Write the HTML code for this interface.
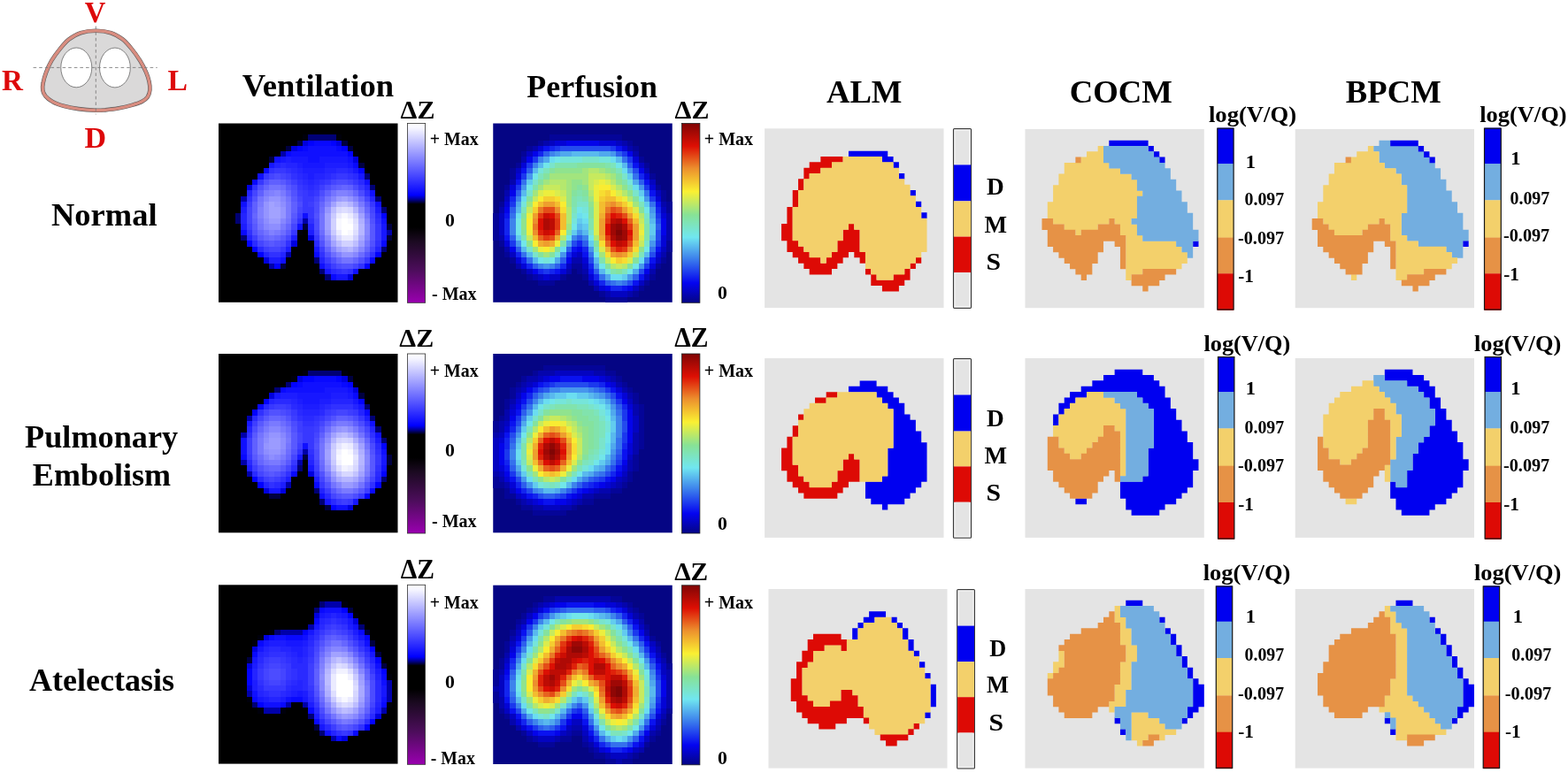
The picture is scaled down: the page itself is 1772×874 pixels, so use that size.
<!DOCTYPE html>
<html lang="en"><head><meta charset="utf-8"><title>EIT ventilation / perfusion maps</title>
<style>
html,body{margin:0;padding:0;background:#fff}
body{width:1772px;height:874px;overflow:hidden}
svg{display:block;font-family:"Liberation Serif","DejaVu Serif",serif;font-weight:bold}
</style></head><body>
<svg width="1772" height="874" viewBox="0 0 1772 874">
<rect width="1772" height="874" fill="#fff"/>
<rect x="247.00" y="139.50" width="202.50" height="202.30" fill="#000000"/>
<g transform="translate(247.00 139.50)" shape-rendering="crispEdges">
<path fill="#00000b" d="M94.9 12.6H101.2V19.0H94.9zM132.9 12.6H139.2V19.0H132.9zM151.9 31.6H158.2V37.9H151.9zM88.6 120.1H94.9V126.4H88.6z"/>
<path fill="#000075" d="M101.2 12.6H132.9V19.0H101.2zM164.5 56.9H170.9V63.2H164.5zM170.9 69.5H177.2V75.9H170.9zM177.2 82.2H183.5V88.5H177.2zM183.5 94.8H189.8V101.2H183.5zM19.0 101.2H25.3V107.5H19.0zM19.0 107.5H25.3V113.8H19.0zM25.3 126.4H31.6V132.8H25.3zM183.5 139.1H189.8V145.4H183.5zM107.6 151.7H113.9V158.0H107.6zM113.9 164.4H120.2V170.7H113.9zM120.2 170.7H126.6V177.0H120.2z"/>
<path fill="#000040" d="M88.6 19.0H94.9V25.3H88.6zM139.2 19.0H145.5V25.3H139.2zM75.9 25.3H82.3V31.6H75.9zM145.5 25.3H151.9V31.6H145.5zM57.0 37.9H63.3V44.3H57.0zM158.2 44.3H164.5V50.6H158.2zM94.9 113.8H101.2V120.1H94.9zM189.8 113.8H196.2V120.1H189.8zM189.8 126.4H196.2V132.8H189.8zM69.6 158.0H75.9V164.4H69.6z"/>
<path fill="#0000df" d="M94.9 19.0H101.2V25.3H94.9zM132.9 19.0H139.2V25.3H132.9zM82.3 25.3H88.6V31.6H82.3zM151.9 37.9H158.2V44.3H151.9zM31.6 69.5H38.0V75.9H31.6zM101.2 126.4H107.6V132.8H101.2zM82.3 132.8H88.6V139.1H82.3zM50.6 151.7H57.0V158.0H50.6zM145.5 170.7H151.9V177.0H145.5z"/>
<path fill="#0303ff" d="M101.2 19.0H107.6V25.3H101.2zM126.6 19.0H132.9V25.3H126.6zM88.6 25.3H94.9V31.6H88.6zM139.2 25.3H145.5V31.6H139.2zM145.5 31.6H151.9V37.9H145.5zM158.2 50.6H164.5V56.9H158.2zM183.5 101.2H189.8V107.5H183.5zM31.6 132.8H38.0V139.1H31.6zM38.0 139.1H44.3V145.4H38.0zM44.3 145.4H50.6V151.7H44.3zM177.2 145.4H183.5V151.7H177.2zM63.3 158.0H69.6V164.4H63.3zM164.5 158.0H170.9V164.4H164.5z"/>
<path fill="#0909ff" d="M107.6 19.0H126.6V25.3H107.6zM94.9 25.3H101.2V31.6H94.9zM132.9 25.3H139.2V31.6H132.9zM75.9 31.6H82.3V37.9H75.9zM151.9 44.3H158.2V50.6H151.9zM50.6 50.6H57.0V56.9H50.6zM38.0 63.2H44.3V69.5H38.0zM25.3 120.1H31.6V126.4H25.3zM183.5 132.8H189.8V139.1H183.5zM107.6 145.4H113.9V151.7H107.6zM170.9 151.7H177.2V158.0H170.9zM126.6 170.7H132.9V177.0H126.6z"/>
<path fill="#1010ff" d="M101.2 25.3H132.9V31.6H101.2zM82.3 31.6H145.5V37.9H82.3zM63.3 37.9H69.6V44.3H63.3zM101.2 37.9H113.9V44.3H101.2zM145.5 37.9H151.9V44.3H145.5zM44.3 56.9H50.6V63.2H44.3zM164.5 63.2H170.9V69.5H164.5zM170.9 75.9H177.2V82.2H170.9zM25.3 88.5H31.6V94.8H25.3zM177.2 88.5H183.5V94.8H177.2zM94.9 101.2H101.2V107.5H94.9zM183.5 107.5H189.8V113.8H183.5zM88.6 113.8H94.9V120.1H88.6zM69.6 151.7H75.9V158.0H69.6zM113.9 158.0H120.2V164.4H113.9zM151.9 164.4H158.2V170.7H151.9z"/>
<path fill="#0000aa" d="M69.6 31.6H75.9V37.9H69.6zM25.3 82.2H31.6V88.5H25.3zM94.9 107.5H101.2V113.8H94.9zM189.8 120.1H196.2V126.4H189.8zM75.9 145.4H82.3V151.7H75.9zM57.0 158.0H63.3V164.4H57.0z"/>
<path fill="#1717ff" d="M69.6 37.9H75.9V44.3H69.6zM82.3 37.9H101.2V44.3H82.3zM113.9 37.9H145.5V44.3H113.9zM57.0 44.3H63.3V50.6H57.0zM94.9 44.3H120.2V50.6H94.9zM145.5 44.3H151.9V50.6H145.5zM151.9 50.6H158.2V56.9H151.9zM158.2 56.9H164.5V63.2H158.2zM183.5 113.8H189.8V120.1H183.5zM183.5 120.1H189.8V126.4H183.5zM183.5 126.4H189.8V132.8H183.5zM107.6 139.1H113.9V145.4H107.6zM120.2 164.4H126.6V170.7H120.2zM132.9 170.7H145.5V177.0H132.9z"/>
<path fill="#1d1dff" d="M75.9 37.9H82.3V44.3H75.9zM88.6 44.3H94.9V50.6H88.6zM120.2 44.3H145.5V50.6H120.2zM94.9 50.6H120.2V56.9H94.9zM101.2 56.9H107.6V63.2H101.2zM25.3 94.8H31.6V101.2H25.3zM177.2 94.8H183.5V101.2H177.2zM25.3 113.8H31.6V120.1H25.3zM101.2 120.1H107.6V126.4H101.2zM82.3 126.4H88.6V132.8H82.3zM75.9 139.1H82.3V145.4H75.9zM57.0 151.7H69.6V158.0H57.0z"/>
<path fill="#2424ff" d="M63.3 44.3H69.6V50.6H63.3zM75.9 44.3H88.6V50.6H75.9zM88.6 50.6H94.9V56.9H88.6zM120.2 50.6H132.9V56.9H120.2zM145.5 50.6H151.9V56.9H145.5zM94.9 56.9H101.2V63.2H94.9zM107.6 56.9H120.2V63.2H107.6zM101.2 63.2H107.6V69.5H101.2zM164.5 69.5H170.9V75.9H164.5zM31.6 75.9H38.0V82.2H31.6zM170.9 82.2H177.2V88.5H170.9zM25.3 101.2H31.6V107.5H25.3zM25.3 107.5H31.6V113.8H25.3zM101.2 113.8H107.6V120.1H101.2zM31.6 126.4H38.0V132.8H31.6zM177.2 139.1H183.5V145.4H177.2zM50.6 145.4H57.0V151.7H50.6zM69.6 145.4H75.9V151.7H69.6zM113.9 151.7H120.2V158.0H113.9z"/>
<path fill="#2a2aff" d="M69.6 44.3H75.9V50.6H69.6zM82.3 50.6H88.6V56.9H82.3zM132.9 50.6H145.5V56.9H132.9zM88.6 56.9H94.9V63.2H88.6zM120.2 56.9H126.6V63.2H120.2zM151.9 56.9H158.2V63.2H151.9zM94.9 63.2H101.2V69.5H94.9zM107.6 63.2H113.9V69.5H107.6zM158.2 63.2H164.5V69.5H158.2zM101.2 69.5H107.6V75.9H101.2zM177.2 101.2H183.5V107.5H177.2zM38.0 132.8H44.3V139.1H38.0zM107.6 132.8H113.9V139.1H107.6zM44.3 139.1H50.6V145.4H44.3zM120.2 158.0H126.6V164.4H120.2zM126.6 164.4H132.9V170.7H126.6z"/>
<path fill="#3131ff" d="M57.0 50.6H63.3V56.9H57.0zM75.9 50.6H82.3V56.9H75.9zM82.3 56.9H88.6V63.2H82.3zM126.6 56.9H132.9V63.2H126.6zM145.5 56.9H151.9V63.2H145.5zM88.6 63.2H94.9V69.5H88.6zM113.9 63.2H120.2V69.5H113.9zM38.0 69.5H44.3V75.9H38.0zM94.9 69.5H101.2V75.9H94.9zM107.6 69.5H113.9V75.9H107.6zM101.2 75.9H107.6V82.2H101.2zM164.5 75.9H170.9V82.2H164.5zM31.6 82.2H38.0V88.5H31.6zM88.6 107.5H94.9V113.8H88.6zM101.2 107.5H107.6V113.8H101.2zM177.2 107.5H183.5V113.8H177.2zM31.6 120.1H38.0V126.4H31.6zM75.9 132.8H82.3V139.1H75.9zM177.2 132.8H183.5V139.1H177.2zM57.0 145.4H69.6V151.7H57.0zM113.9 145.4H120.2V151.7H113.9zM170.9 145.4H177.2V151.7H170.9zM158.2 158.0H164.5V164.4H158.2zM132.9 164.4H139.2V170.7H132.9zM145.5 164.4H151.9V170.7H145.5z"/>
<path fill="#3838ff" d="M63.3 50.6H75.9V56.9H63.3zM50.6 56.9H57.0V63.2H50.6zM132.9 56.9H145.5V63.2H132.9zM44.3 63.2H50.6V69.5H44.3zM120.2 63.2H126.6V69.5H120.2zM151.9 63.2H158.2V69.5H151.9zM88.6 69.5H94.9V75.9H88.6zM158.2 69.5H164.5V75.9H158.2zM94.9 75.9H101.2V82.2H94.9zM107.6 75.9H113.9V82.2H107.6zM94.9 82.2H107.6V88.5H94.9zM94.9 88.5H101.2V94.8H94.9zM170.9 88.5H177.2V94.8H170.9zM94.9 94.8H107.6V101.2H94.9zM101.2 101.2H107.6V107.5H101.2zM177.2 113.8H183.5V120.1H177.2zM82.3 120.1H88.6V126.4H82.3zM177.2 120.1H183.5V126.4H177.2zM107.6 126.4H113.9V132.8H107.6zM177.2 126.4H183.5V132.8H177.2zM69.6 139.1H75.9V145.4H69.6zM164.5 151.7H170.9V158.0H164.5zM139.2 164.4H145.5V170.7H139.2z"/>
<path fill="#4545ff" d="M57.0 56.9H63.3V63.2H57.0zM69.6 56.9H75.9V63.2H69.6zM126.6 63.2H132.9V69.5H126.6zM145.5 63.2H151.9V69.5H145.5zM38.0 75.9H44.3V82.2H38.0zM88.6 82.2H94.9V88.5H88.6zM107.6 82.2H113.9V88.5H107.6zM164.5 82.2H170.9V88.5H164.5zM31.6 94.8H38.0V101.2H31.6zM88.6 94.8H94.9V101.2H88.6zM170.9 94.8H177.2V101.2H170.9zM31.6 101.2H38.0V107.5H31.6zM31.6 107.5H38.0V113.8H31.6zM82.3 113.8H88.6V120.1H82.3zM107.6 120.1H113.9V126.4H107.6zM75.9 126.4H82.3V132.8H75.9zM44.3 132.8H50.6V139.1H44.3zM57.0 139.1H69.6V145.4H57.0zM170.9 139.1H177.2V145.4H170.9zM151.9 158.0H158.2V164.4H151.9z"/>
<path fill="#4c4cff" d="M63.3 56.9H69.6V63.2H63.3zM75.9 63.2H82.3V69.5H75.9zM132.9 63.2H145.5V69.5H132.9zM82.3 69.5H88.6V75.9H82.3zM120.2 69.5H126.6V75.9H120.2zM151.9 69.5H158.2V75.9H151.9zM113.9 75.9H120.2V82.2H113.9zM158.2 75.9H164.5V82.2H158.2zM88.6 88.5H94.9V94.8H88.6zM107.6 88.5H113.9V94.8H107.6zM107.6 94.8H113.9V101.2H107.6zM170.9 101.2H177.2V107.5H170.9zM107.6 107.5H113.9V113.8H107.6zM107.6 113.8H113.9V120.1H107.6zM69.6 132.8H75.9V139.1H69.6zM132.9 158.0H139.2V164.4H132.9z"/>
<path fill="#3e3eff" d="M75.9 56.9H82.3V63.2H75.9zM82.3 63.2H88.6V69.5H82.3zM113.9 69.5H120.2V75.9H113.9zM88.6 75.9H94.9V82.2H88.6zM31.6 88.5H38.0V94.8H31.6zM101.2 88.5H107.6V94.8H101.2zM88.6 101.2H94.9V107.5H88.6zM31.6 113.8H38.0V120.1H31.6zM38.0 126.4H44.3V132.8H38.0zM50.6 139.1H57.0V145.4H50.6zM113.9 139.1H120.2V145.4H113.9zM120.2 151.7H126.6V158.0H120.2zM126.6 158.0H132.9V164.4H126.6z"/>
<path fill="#5252ff" d="M50.6 63.2H57.0V69.5H50.6zM44.3 69.5H50.6V75.9H44.3zM82.3 75.9H88.6V82.2H82.3zM38.0 82.2H44.3V88.5H38.0zM107.6 101.2H113.9V107.5H107.6zM82.3 107.5H88.6V113.8H82.3zM170.9 107.5H177.2V113.8H170.9zM38.0 120.1H44.3V126.4H38.0zM50.6 132.8H57.0V139.1H50.6zM63.3 132.8H69.6V139.1H63.3zM113.9 132.8H120.2V139.1H113.9zM170.9 132.8H177.2V139.1H170.9zM120.2 145.4H126.6V151.7H120.2zM164.5 145.4H170.9V151.7H164.5zM126.6 151.7H132.9V158.0H126.6zM158.2 151.7H164.5V158.0H158.2zM139.2 158.0H151.9V164.4H139.2z"/>
<path fill="#6060ff" d="M57.0 63.2H69.6V69.5H57.0zM132.9 69.5H139.2V75.9H132.9zM145.5 69.5H151.9V75.9H145.5zM44.3 75.9H50.6V82.2H44.3zM120.2 75.9H126.6V82.2H120.2zM38.0 88.5H44.3V94.8H38.0zM82.3 88.5H88.6V94.8H82.3zM38.0 94.8H44.3V101.2H38.0zM82.3 94.8H88.6V101.2H82.3zM38.0 107.5H44.3V113.8H38.0zM113.9 126.4H120.2V132.8H113.9z"/>
<path fill="#5959ff" d="M69.6 63.2H75.9V69.5H69.6zM75.9 69.5H82.3V75.9H75.9zM126.6 69.5H132.9V75.9H126.6zM82.3 82.2H88.6V88.5H82.3zM113.9 82.2H120.2V88.5H113.9zM164.5 88.5H170.9V94.8H164.5zM82.3 101.2H88.6V107.5H82.3zM38.0 113.8H44.3V120.1H38.0zM170.9 113.8H177.2V120.1H170.9zM75.9 120.1H82.3V126.4H75.9zM170.9 120.1H177.2V126.4H170.9zM44.3 126.4H50.6V132.8H44.3zM69.6 126.4H75.9V132.8H69.6zM170.9 126.4H177.2V132.8H170.9zM57.0 132.8H63.3V139.1H57.0z"/>
<path fill="#6666ff" d="M50.6 69.5H57.0V75.9H50.6zM139.2 69.5H145.5V75.9H139.2zM75.9 75.9H82.3V82.2H75.9zM151.9 75.9H158.2V82.2H151.9zM158.2 82.2H164.5V88.5H158.2zM113.9 88.5H120.2V94.8H113.9zM164.5 94.8H170.9V101.2H164.5zM38.0 101.2H44.3V107.5H38.0zM75.9 113.8H82.3V120.1H75.9zM44.3 120.1H50.6V126.4H44.3zM50.6 126.4H57.0V132.8H50.6zM63.3 126.4H69.6V132.8H63.3zM120.2 139.1H126.6V145.4H120.2zM164.5 139.1H170.9V145.4H164.5zM132.9 151.7H139.2V158.0H132.9zM151.9 151.7H158.2V158.0H151.9z"/>
<path fill="#7474ff" d="M57.0 69.5H69.6V75.9H57.0zM126.6 75.9H132.9V82.2H126.6zM44.3 82.2H50.6V88.5H44.3zM75.9 82.2H82.3V88.5H75.9zM120.2 82.2H126.6V88.5H120.2zM113.9 101.2H120.2V107.5H113.9zM164.5 101.2H170.9V107.5H164.5zM75.9 107.5H82.3V113.8H75.9zM113.9 107.5H120.2V113.8H113.9zM44.3 113.8H50.6V120.1H44.3zM113.9 113.8H120.2V120.1H113.9zM50.6 120.1H57.0V126.4H50.6zM164.5 132.8H170.9V139.1H164.5zM139.2 151.7H151.9V158.0H139.2z"/>
<path fill="#6d6dff" d="M69.6 69.5H75.9V75.9H69.6zM113.9 94.8H120.2V101.2H113.9zM69.6 120.1H75.9V126.4H69.6zM113.9 120.1H120.2V126.4H113.9zM57.0 126.4H63.3V132.8H57.0zM126.6 145.4H132.9V151.7H126.6zM158.2 145.4H164.5V151.7H158.2z"/>
<path fill="#7a7aff" d="M50.6 75.9H57.0V82.2H50.6zM69.6 75.9H75.9V82.2H69.6zM145.5 75.9H151.9V82.2H145.5zM44.3 88.5H50.6V94.8H44.3zM75.9 88.5H82.3V94.8H75.9zM158.2 88.5H164.5V94.8H158.2zM75.9 94.8H82.3V101.2H75.9zM75.9 101.2H82.3V107.5H75.9zM44.3 107.5H50.6V113.8H44.3zM69.6 113.8H75.9V120.1H69.6zM63.3 120.1H69.6V126.4H63.3zM120.2 132.8H126.6V139.1H120.2z"/>
<path fill="#8181ff" d="M57.0 75.9H63.3V82.2H57.0zM132.9 75.9H145.5V82.2H132.9zM151.9 82.2H158.2V88.5H151.9zM120.2 88.5H126.6V94.8H120.2zM44.3 94.8H50.6V101.2H44.3zM44.3 101.2H50.6V107.5H44.3zM164.5 107.5H170.9V113.8H164.5zM57.0 120.1H63.3V126.4H57.0zM164.5 126.4H170.9V132.8H164.5zM132.9 145.4H139.2V151.7H132.9z"/>
<path fill="#8787ff" d="M63.3 75.9H69.6V82.2H63.3zM50.6 82.2H57.0V88.5H50.6zM69.6 82.2H75.9V88.5H69.6zM126.6 82.2H132.9V88.5H126.6zM69.6 107.5H75.9V113.8H69.6zM50.6 113.8H57.0V120.1H50.6zM164.5 113.8H170.9V120.1H164.5zM164.5 120.1H170.9V126.4H164.5zM120.2 126.4H126.6V132.8H120.2zM126.6 139.1H132.9V145.4H126.6zM158.2 139.1H164.5V145.4H158.2zM151.9 145.4H158.2V151.7H151.9z"/>
<path fill="#9595ff" d="M57.0 82.2H69.6V88.5H57.0zM145.5 82.2H151.9V88.5H145.5zM50.6 88.5H57.0V94.8H50.6zM50.6 94.8H57.0V101.2H50.6zM69.6 94.8H75.9V101.2H69.6zM120.2 94.8H126.6V101.2H120.2zM50.6 101.2H57.0V107.5H50.6zM69.6 101.2H75.9V107.5H69.6zM139.2 145.4H151.9V151.7H139.2z"/>
<path fill="#9b9bff" d="M132.9 82.2H139.2V88.5H132.9zM63.3 88.5H69.6V94.8H63.3zM151.9 88.5H158.2V94.8H151.9zM57.0 107.5H69.6V113.8H57.0zM120.2 120.1H126.6V126.4H120.2zM158.2 132.8H164.5V139.1H158.2z"/>
<path fill="#a2a2ff" d="M139.2 82.2H145.5V88.5H139.2zM57.0 88.5H63.3V94.8H57.0zM126.6 88.5H132.9V94.8H126.6zM57.0 94.8H69.6V101.2H57.0zM57.0 101.2H69.6V107.5H57.0zM120.2 101.2H126.6V107.5H120.2zM158.2 101.2H164.5V107.5H158.2zM120.2 107.5H126.6V113.8H120.2zM120.2 113.8H126.6V120.1H120.2zM126.6 132.8H132.9V139.1H126.6zM132.9 139.1H139.2V145.4H132.9zM151.9 139.1H158.2V145.4H151.9z"/>
<path fill="#8e8eff" d="M69.6 88.5H75.9V94.8H69.6zM158.2 94.8H164.5V101.2H158.2zM50.6 107.5H57.0V113.8H50.6zM57.0 113.8H69.6V120.1H57.0z"/>
<path fill="#bdbdff" d="M132.9 88.5H139.2V94.8H132.9zM126.6 94.8H132.9V101.2H126.6zM132.9 132.8H139.2V139.1H132.9zM151.9 132.8H158.2V139.1H151.9z"/>
<path fill="#c3c3ff" d="M139.2 88.5H145.5V94.8H139.2z"/>
<path fill="#b6b6ff" d="M145.5 88.5H151.9V94.8H145.5zM151.9 94.8H158.2V101.2H151.9zM158.2 113.8H164.5V120.1H158.2zM158.2 120.1H164.5V126.4H158.2zM126.6 126.4H132.9V132.8H126.6zM145.5 139.1H151.9V145.4H145.5z"/>
<path fill="#d7d7ff" d="M132.9 94.8H139.2V101.2H132.9zM145.5 94.8H151.9V101.2H145.5zM132.9 126.4H139.2V132.8H132.9z"/>
<path fill="#dedeff" d="M139.2 94.8H145.5V101.2H139.2zM151.9 107.5H158.2V113.8H151.9zM151.9 120.1H158.2V126.4H151.9z"/>
<path fill="#cacaff" d="M126.6 101.2H132.9V107.5H126.6zM126.6 120.1H132.9V126.4H126.6z"/>
<path fill="#ebebff" d="M132.9 101.2H139.2V107.5H132.9zM145.5 101.2H151.9V107.5H145.5zM132.9 120.1H139.2V126.4H132.9zM139.2 126.4H151.9V132.8H139.2z"/>
<path fill="#f8f8ff" d="M139.2 101.2H145.5V107.5H139.2zM132.9 107.5H139.2V113.8H132.9zM145.5 107.5H151.9V113.8H145.5zM132.9 113.8H139.2V120.1H132.9zM145.5 120.1H151.9V126.4H145.5z"/>
<path fill="#d1d1ff" d="M151.9 101.2H158.2V107.5H151.9zM126.6 107.5H132.9V113.8H126.6zM126.6 113.8H132.9V120.1H126.6zM151.9 126.4H158.2V132.8H151.9zM139.2 132.8H151.9V139.1H139.2z"/>
<path fill="#ffffff" d="M139.2 107.5H145.5V113.8H139.2zM139.2 113.8H151.9V120.1H139.2zM139.2 120.1H145.5V126.4H139.2z"/>
<path fill="#afafff" d="M158.2 107.5H164.5V113.8H158.2zM139.2 139.1H145.5V145.4H139.2z"/>
<path fill="#e4e4ff" d="M151.9 113.8H158.2V120.1H151.9z"/>
<path fill="#a9a9ff" d="M158.2 126.4H164.5V132.8H158.2z"/>
</g>
<rect x="557.25" y="139.50" width="202.50" height="202.30" fill="#050584"/>
<g transform="translate(557.25 139.50)" shape-rendering="crispEdges">
<path fill="#050598" d="M63.3 12.6H145.5V19.0H63.3zM50.6 19.0H57.0V25.3H50.6zM151.9 19.0H158.2V25.3H151.9zM38.0 25.3H44.3V31.6H38.0zM158.2 25.3H164.5V31.6H158.2zM31.6 31.6H38.0V37.9H31.6zM164.5 37.9H170.9V44.3H164.5zM25.3 44.3H31.6V50.6H25.3zM170.9 44.3H177.2V50.6H170.9zM19.0 50.6H25.3V56.9H19.0zM19.0 56.9H25.3V63.2H19.0zM177.2 56.9H183.5V63.2H177.2zM12.7 69.5H19.0V75.9H12.7zM183.5 69.5H189.8V75.9H183.5zM189.8 75.9H196.2V82.2H189.8zM189.8 82.2H196.2V88.5H189.8zM6.3 88.5H12.7V94.8H6.3zM196.2 88.5H202.5V94.8H196.2zM196.2 94.8H202.5V101.2H196.2zM0.0 101.2H6.3V107.5H0.0zM0.0 107.5H6.3V113.8H0.0zM0.0 113.8H6.3V120.1H0.0zM0.0 120.1H6.3V126.4H0.0zM0.0 126.4H6.3V132.8H0.0zM6.3 132.8H12.7V139.1H6.3zM196.2 132.8H202.5V139.1H196.2zM196.2 139.1H202.5V145.4H196.2zM12.7 145.4H19.0V151.7H12.7zM19.0 151.7H25.3V158.0H19.0zM189.8 151.7H196.2V158.0H189.8zM88.6 158.0H101.2V164.4H88.6zM183.5 158.0H189.8V164.4H183.5zM31.6 164.4H38.0V170.7H31.6zM94.9 164.4H101.2V170.7H94.9zM38.0 170.7H44.3V177.0H38.0zM75.9 170.7H82.3V177.0H75.9zM101.2 170.7H107.6V177.0H101.2zM177.2 170.7H183.5V177.0H177.2zM50.6 177.0H69.6V183.3H50.6zM170.9 177.0H177.2V183.3H170.9zM164.5 183.3H170.9V189.7H164.5zM120.2 189.7H126.6V196.0H120.2zM158.2 189.7H164.5V196.0H158.2zM126.6 196.0H151.9V202.3H126.6z"/>
<path fill="#0505ad" d="M57.0 19.0H63.3V25.3H57.0zM145.5 19.0H151.9V25.3H145.5zM44.3 25.3H50.6V31.6H44.3zM151.9 25.3H158.2V31.6H151.9zM158.2 31.6H164.5V37.9H158.2zM31.6 37.9H38.0V44.3H31.6zM170.9 50.6H177.2V56.9H170.9zM19.0 63.2H25.3V69.5H19.0zM12.7 75.9H19.0V82.2H12.7zM189.8 88.5H196.2V94.8H189.8zM6.3 94.8H12.7V101.2H6.3zM196.2 101.2H202.5V107.5H196.2zM196.2 107.5H202.5V113.8H196.2zM196.2 113.8H202.5V120.1H196.2zM196.2 120.1H202.5V126.4H196.2zM6.3 126.4H12.7V132.8H6.3zM196.2 126.4H202.5V132.8H196.2zM12.7 139.1H19.0V145.4H12.7zM189.8 145.4H196.2V151.7H189.8zM88.6 151.7H101.2V158.0H88.6zM25.3 158.0H31.6V164.4H25.3zM82.3 164.4H88.6V170.7H82.3zM101.2 164.4H107.6V170.7H101.2zM177.2 164.4H183.5V170.7H177.2zM44.3 170.7H50.6V177.0H44.3zM107.6 177.0H113.9V183.3H107.6zM113.9 183.3H120.2V189.7H113.9zM126.6 189.7H132.9V196.0H126.6zM151.9 189.7H158.2V196.0H151.9z"/>
<path fill="#0404c1" d="M63.3 19.0H69.6V25.3H63.3zM139.2 19.0H145.5V25.3H139.2zM38.0 31.6H44.3V37.9H38.0zM164.5 44.3H170.9V50.6H164.5zM25.3 50.6H31.6V56.9H25.3zM177.2 63.2H183.5V69.5H177.2zM183.5 75.9H189.8V82.2H183.5zM12.7 82.2H19.0V88.5H12.7zM189.8 94.8H196.2V101.2H189.8zM6.3 101.2H12.7V107.5H6.3zM6.3 107.5H12.7V113.8H6.3zM6.3 113.8H12.7V120.1H6.3zM6.3 120.1H12.7V126.4H6.3zM189.8 139.1H196.2V145.4H189.8zM19.0 145.4H25.3V151.7H19.0zM94.9 145.4H101.2V151.7H94.9zM183.5 151.7H189.8V158.0H183.5zM82.3 158.0H88.6V164.4H82.3zM101.2 158.0H107.6V164.4H101.2zM38.0 164.4H44.3V170.7H38.0zM50.6 170.7H57.0V177.0H50.6zM63.3 170.7H75.9V177.0H63.3zM170.9 170.7H177.2V177.0H170.9zM164.5 177.0H170.9V183.3H164.5zM158.2 183.3H164.5V189.7H158.2zM132.9 189.7H151.9V196.0H132.9z"/>
<path fill="#0404d6" d="M69.6 19.0H82.3V25.3H69.6zM120.2 19.0H139.2V25.3H120.2zM50.6 25.3H57.0V31.6H50.6zM145.5 25.3H151.9V31.6H145.5zM158.2 37.9H164.5V44.3H158.2zM31.6 44.3H38.0V50.6H31.6zM25.3 56.9H31.6V63.2H25.3zM170.9 56.9H177.2V63.2H170.9zM19.0 69.5H25.3V75.9H19.0zM177.2 69.5H183.5V75.9H177.2zM183.5 82.2H189.8V88.5H183.5zM12.7 88.5H19.0V94.8H12.7zM189.8 101.2H196.2V107.5H189.8zM189.8 126.4H196.2V132.8H189.8zM12.7 132.8H19.0V139.1H12.7zM189.8 132.8H196.2V139.1H189.8zM88.6 145.4H94.9V151.7H88.6zM183.5 145.4H189.8V151.7H183.5zM25.3 151.7H31.6V158.0H25.3zM101.2 151.7H107.6V158.0H101.2zM31.6 158.0H38.0V164.4H31.6zM177.2 158.0H183.5V164.4H177.2zM75.9 164.4H82.3V170.7H75.9zM57.0 170.7H63.3V177.0H57.0zM107.6 170.7H113.9V177.0H107.6zM113.9 177.0H120.2V183.3H113.9zM120.2 183.3H126.6V189.7H120.2z"/>
<path fill="#0404ea" d="M82.3 19.0H120.2V25.3H82.3zM44.3 31.6H50.6V37.9H44.3zM151.9 31.6H158.2V37.9H151.9zM38.0 37.9H44.3V44.3H38.0zM164.5 50.6H170.9V56.9H164.5zM19.0 75.9H25.3V82.2H19.0zM12.7 94.8H19.0V101.2H12.7zM189.8 107.5H196.2V113.8H189.8zM189.8 113.8H196.2V120.1H189.8zM189.8 120.1H196.2V126.4H189.8zM19.0 139.1H25.3V145.4H19.0zM94.9 139.1H101.2V145.4H94.9zM82.3 151.7H88.6V158.0H82.3zM44.3 164.4H50.6V170.7H44.3zM170.9 164.4H177.2V170.7H170.9zM126.6 183.3H132.9V189.7H126.6zM151.9 183.3H158.2V189.7H151.9z"/>
<path fill="#0a12f0" d="M57.0 25.3H63.3V31.6H57.0zM139.2 25.3H145.5V31.6H139.2zM158.2 44.3H164.5V50.6H158.2zM31.6 50.6H38.0V56.9H31.6zM25.3 63.2H31.6V69.5H25.3zM170.9 63.2H177.2V69.5H170.9zM177.2 75.9H183.5V82.2H177.2zM183.5 88.5H189.8V94.8H183.5zM12.7 101.2H19.0V107.5H12.7zM12.7 126.4H19.0V132.8H12.7zM88.6 139.1H94.9V145.4H88.6zM183.5 139.1H189.8V145.4H183.5zM101.2 145.4H107.6V151.7H101.2zM177.2 151.7H183.5V158.0H177.2zM69.6 164.4H75.9V170.7H69.6zM107.6 164.4H113.9V170.7H107.6zM164.5 170.7H170.9V177.0H164.5zM158.2 177.0H164.5V183.3H158.2zM145.5 183.3H151.9V189.7H145.5z"/>
<path fill="#1325ef" d="M63.3 25.3H69.6V31.6H63.3zM50.6 31.6H57.0V37.9H50.6zM164.5 56.9H170.9V63.2H164.5zM19.0 82.2H25.3V88.5H19.0zM183.5 94.8H189.8V101.2H183.5zM12.7 107.5H19.0V113.8H12.7zM12.7 113.8H19.0V120.1H12.7zM12.7 120.1H19.0V126.4H12.7zM94.9 132.8H101.2V139.1H94.9zM101.2 139.1H107.6V145.4H101.2zM25.3 145.4H31.6V151.7H25.3zM82.3 145.4H88.6V151.7H82.3zM31.6 151.7H38.0V158.0H31.6zM38.0 158.0H44.3V164.4H38.0zM75.9 158.0H82.3V164.4H75.9zM107.6 158.0H113.9V164.4H107.6zM50.6 164.4H57.0V170.7H50.6zM63.3 164.4H69.6V170.7H63.3zM113.9 170.7H120.2V177.0H113.9zM120.2 177.0H126.6V183.3H120.2zM132.9 183.3H145.5V189.7H132.9z"/>
<path fill="#1b38ee" d="M69.6 25.3H75.9V31.6H69.6zM132.9 25.3H139.2V31.6H132.9zM145.5 31.6H151.9V37.9H145.5zM44.3 37.9H50.6V44.3H44.3zM151.9 37.9H158.2V44.3H151.9zM38.0 44.3H44.3V50.6H38.0zM31.6 56.9H38.0V63.2H31.6zM25.3 69.5H31.6V75.9H25.3zM170.9 69.5H177.2V75.9H170.9zM177.2 82.2H183.5V88.5H177.2zM19.0 88.5H25.3V94.8H19.0zM183.5 101.2H189.8V107.5H183.5zM19.0 132.8H25.3V139.1H19.0zM183.5 132.8H189.8V139.1H183.5zM170.9 158.0H177.2V164.4H170.9zM57.0 164.4H63.3V170.7H57.0z"/>
<path fill="#244bee" d="M75.9 25.3H132.9V31.6H75.9zM158.2 50.6H164.5V56.9H158.2zM183.5 107.5H189.8V113.8H183.5zM183.5 120.1H189.8V126.4H183.5zM183.5 126.4H189.8V132.8H183.5zM88.6 132.8H94.9V139.1H88.6zM177.2 145.4H183.5V151.7H177.2zM107.6 151.7H113.9V158.0H107.6zM164.5 164.4H170.9V170.7H164.5zM151.9 177.0H158.2V183.3H151.9z"/>
<path fill="#2d5eed" d="M57.0 31.6H63.3V37.9H57.0zM139.2 31.6H145.5V37.9H139.2zM151.9 44.3H158.2V50.6H151.9zM38.0 50.6H44.3V56.9H38.0zM164.5 63.2H170.9V69.5H164.5zM25.3 75.9H31.6V82.2H25.3zM19.0 94.8H25.3V101.2H19.0zM183.5 113.8H189.8V120.1H183.5zM19.0 126.4H25.3V132.8H19.0zM94.9 126.4H101.2V132.8H94.9zM101.2 132.8H107.6V139.1H101.2zM25.3 139.1H31.6V145.4H25.3zM82.3 139.1H88.6V145.4H82.3zM75.9 151.7H82.3V158.0H75.9zM44.3 158.0H50.6V164.4H44.3zM69.6 158.0H75.9V164.4H69.6zM113.9 164.4H120.2V170.7H113.9zM158.2 170.7H164.5V177.0H158.2zM126.6 177.0H132.9V183.3H126.6z"/>
<path fill="#3e84ec" d="M63.3 31.6H69.6V37.9H63.3zM50.6 37.9H57.0V44.3H50.6zM44.3 44.3H50.6V50.6H44.3zM25.3 82.2H31.6V88.5H25.3zM19.0 107.5H25.3V113.8H19.0zM19.0 113.8H25.3V120.1H19.0zM19.0 120.1H25.3V126.4H19.0zM88.6 126.4H94.9V132.8H88.6zM101.2 126.4H107.6V132.8H101.2zM50.6 158.0H57.0V164.4H50.6zM63.3 158.0H69.6V164.4H63.3zM139.2 177.0H145.5V183.3H139.2z"/>
<path fill="#4796ed" d="M69.6 31.6H75.9V37.9H69.6zM132.9 31.6H139.2V37.9H132.9zM151.9 50.6H158.2V56.9H151.9zM38.0 56.9H44.3V63.2H38.0zM31.6 69.5H38.0V75.9H31.6zM164.5 69.5H170.9V75.9H164.5zM170.9 82.2H177.2V88.5H170.9zM177.2 94.8H183.5V101.2H177.2zM94.9 120.1H101.2V126.4H94.9zM25.3 132.8H31.6V139.1H25.3zM177.2 132.8H183.5V139.1H177.2zM107.6 139.1H113.9V145.4H107.6zM75.9 145.4H82.3V151.7H75.9zM57.0 158.0H63.3V164.4H57.0zM113.9 158.0H120.2V164.4H113.9zM164.5 158.0H170.9V164.4H164.5zM151.9 170.7H158.2V177.0H151.9z"/>
<path fill="#50a8ed" d="M75.9 31.6H88.6V37.9H75.9zM120.2 31.6H132.9V37.9H120.2zM57.0 37.9H63.3V44.3H57.0zM158.2 63.2H164.5V69.5H158.2zM25.3 88.5H31.6V94.8H25.3zM177.2 101.2H183.5V107.5H177.2zM82.3 132.8H88.6V139.1H82.3zM69.6 151.7H75.9V158.0H69.6zM158.2 164.4H164.5V170.7H158.2zM126.6 170.7H132.9V177.0H126.6z"/>
<path fill="#59b9ee" d="M88.6 31.6H120.2V37.9H88.6zM139.2 37.9H145.5V44.3H139.2zM50.6 44.3H57.0V50.6H50.6zM145.5 44.3H151.9V50.6H145.5zM44.3 50.6H50.6V56.9H44.3zM31.6 75.9H38.0V82.2H31.6zM25.3 94.8H31.6V101.2H25.3zM177.2 107.5H183.5V113.8H177.2zM94.9 113.8H101.2V120.1H94.9zM101.2 120.1H107.6V126.4H101.2zM177.2 126.4H183.5V132.8H177.2zM31.6 139.1H38.0V145.4H31.6zM38.0 145.4H44.3V151.7H38.0zM170.9 145.4H177.2V151.7H170.9zM44.3 151.7H50.6V158.0H44.3zM113.9 151.7H120.2V158.0H113.9zM120.2 164.4H126.6V170.7H120.2z"/>
<path fill="#6bddf0" d="M63.3 37.9H69.6V44.3H63.3zM132.9 37.9H139.2V44.3H132.9zM145.5 50.6H151.9V56.9H145.5zM158.2 69.5H164.5V75.9H158.2zM31.6 82.2H38.0V88.5H31.6zM25.3 101.2H31.6V107.5H25.3zM94.9 101.2H101.2V107.5H94.9zM101.2 107.5H107.6V113.8H101.2zM75.9 139.1H82.3V145.4H75.9zM164.5 151.7H170.9V158.0H164.5zM132.9 170.7H145.5V177.0H132.9z"/>
<path fill="#72e6e9" d="M69.6 37.9H75.9V44.3H69.6zM57.0 44.3H63.3V50.6H57.0zM139.2 44.3H145.5V50.6H139.2zM44.3 56.9H50.6V63.2H44.3zM38.0 69.5H44.3V75.9H38.0zM164.5 82.2H170.9V88.5H164.5zM94.9 94.8H101.2V101.2H94.9zM170.9 94.8H177.2V101.2H170.9zM101.2 101.2H107.6V107.5H101.2zM25.3 107.5H31.6V113.8H25.3zM25.3 113.8H31.6V120.1H25.3zM88.6 113.8H94.9V120.1H88.6zM25.3 120.1H31.6V126.4H25.3zM82.3 126.4H88.6V132.8H82.3zM107.6 126.4H113.9V132.8H107.6zM31.6 132.8H38.0V139.1H31.6zM170.9 139.1H177.2V145.4H170.9zM113.9 145.4H120.2V151.7H113.9zM50.6 151.7H57.0V158.0H50.6zM63.3 151.7H69.6V158.0H63.3zM120.2 158.0H126.6V164.4H120.2zM158.2 158.0H164.5V164.4H158.2zM151.9 164.4H158.2V170.7H151.9z"/>
<path fill="#76e5da" d="M75.9 37.9H101.2V44.3H75.9zM120.2 37.9H132.9V44.3H120.2zM50.6 50.6H57.0V56.9H50.6zM151.9 63.2H158.2V69.5H151.9zM31.6 88.5H38.0V94.8H31.6zM101.2 94.8H107.6V101.2H101.2zM88.6 107.5H94.9V113.8H88.6zM69.6 145.4H75.9V151.7H69.6zM57.0 151.7H63.3V158.0H57.0zM126.6 164.4H132.9V170.7H126.6z"/>
<path fill="#7ae4cb" d="M101.2 37.9H120.2V44.3H101.2zM63.3 44.3H69.6V50.6H63.3zM145.5 56.9H151.9V63.2H145.5zM44.3 63.2H50.6V69.5H44.3zM38.0 75.9H44.3V82.2H38.0zM158.2 75.9H164.5V82.2H158.2zM94.9 88.5H107.6V94.8H94.9zM88.6 101.2H94.9V107.5H88.6zM170.9 101.2H177.2V107.5H170.9zM107.6 120.1H113.9V126.4H107.6zM170.9 132.8H177.2V139.1H170.9zM38.0 139.1H44.3V145.4H38.0zM44.3 145.4H50.6V151.7H44.3z"/>
<path fill="#3571ed" d="M145.5 37.9H151.9V44.3H145.5zM158.2 56.9H164.5V63.2H158.2zM31.6 63.2H38.0V69.5H31.6zM170.9 75.9H177.2V82.2H170.9zM177.2 88.5H183.5V94.8H177.2zM19.0 101.2H25.3V107.5H19.0zM177.2 139.1H183.5V145.4H177.2zM31.6 145.4H38.0V151.7H31.6zM107.6 145.4H113.9V151.7H107.6zM38.0 151.7H44.3V158.0H38.0zM170.9 151.7H177.2V158.0H170.9zM120.2 170.7H126.6V177.0H120.2zM132.9 177.0H139.2V183.3H132.9zM145.5 177.0H151.9V183.3H145.5z"/>
<path fill="#81e3ad" d="M69.6 44.3H94.9V50.6H69.6zM126.6 44.3H132.9V50.6H126.6zM145.5 63.2H151.9V69.5H145.5zM44.3 69.5H50.6V75.9H44.3zM94.9 75.9H101.2V82.2H94.9zM88.6 82.2H94.9V88.5H88.6zM101.2 82.2H107.6V88.5H101.2zM88.6 88.5H94.9V94.8H88.6zM107.6 107.5H113.9V113.8H107.6zM107.6 113.8H113.9V120.1H107.6zM170.9 113.8H177.2V120.1H170.9zM82.3 120.1H88.6V126.4H82.3zM170.9 120.1H177.2V126.4H170.9zM170.9 126.4H177.2V132.8H170.9zM75.9 132.8H82.3V139.1H75.9zM120.2 151.7H126.6V158.0H120.2zM132.9 164.4H139.2V170.7H132.9z"/>
<path fill="#85e29e" d="M94.9 44.3H126.6V50.6H94.9zM63.3 50.6H69.6V56.9H63.3zM132.9 50.6H139.2V56.9H132.9zM57.0 56.9H63.3V63.2H57.0zM139.2 56.9H145.5V63.2H139.2zM50.6 63.2H57.0V69.5H50.6zM94.9 69.5H101.2V75.9H94.9zM88.6 75.9H94.9V82.2H88.6zM101.2 75.9H107.6V82.2H101.2zM38.0 82.2H44.3V88.5H38.0zM158.2 82.2H164.5V88.5H158.2zM107.6 94.8H113.9V101.2H107.6zM164.5 94.8H170.9V101.2H164.5zM31.6 101.2H38.0V107.5H31.6zM107.6 101.2H113.9V107.5H107.6zM31.6 120.1H38.0V126.4H31.6zM113.9 132.8H120.2V139.1H113.9zM69.6 139.1H75.9V145.4H69.6zM50.6 145.4H57.0V151.7H50.6zM63.3 145.4H69.6V151.7H63.3zM158.2 151.7H164.5V158.0H158.2zM126.6 158.0H132.9V164.4H126.6zM151.9 158.0H158.2V164.4H151.9zM139.2 164.4H145.5V170.7H139.2z"/>
<path fill="#7de4bc" d="M132.9 44.3H139.2V50.6H132.9zM57.0 50.6H63.3V56.9H57.0zM139.2 50.6H145.5V56.9H139.2zM50.6 56.9H57.0V63.2H50.6zM151.9 69.5H158.2V75.9H151.9zM94.9 82.2H101.2V88.5H94.9zM164.5 88.5H170.9V94.8H164.5zM31.6 94.8H38.0V101.2H31.6zM88.6 94.8H94.9V101.2H88.6zM170.9 107.5H177.2V113.8H170.9zM31.6 126.4H38.0V132.8H31.6zM113.9 139.1H120.2V145.4H113.9zM164.5 145.4H170.9V151.7H164.5zM145.5 164.4H151.9V170.7H145.5z"/>
<path fill="#90e38e" d="M69.6 50.6H101.2V56.9H69.6zM126.6 50.6H132.9V56.9H126.6zM88.6 63.2H101.2V69.5H88.6zM139.2 63.2H145.5V69.5H139.2zM88.6 69.5H94.9V75.9H88.6zM101.2 69.5H107.6V75.9H101.2zM145.5 69.5H151.9V75.9H145.5zM151.9 75.9H158.2V82.2H151.9zM107.6 88.5H113.9V94.8H107.6zM31.6 107.5H38.0V113.8H31.6zM31.6 113.8H38.0V120.1H31.6zM38.0 132.8H44.3V139.1H38.0zM164.5 139.1H170.9V145.4H164.5z"/>
<path fill="#a2e57e" d="M101.2 50.6H107.6V56.9H101.2zM120.2 50.6H126.6V56.9H120.2zM63.3 56.9H107.6V63.2H63.3zM132.9 56.9H139.2V63.2H132.9zM57.0 63.2H63.3V69.5H57.0zM82.3 63.2H88.6V69.5H82.3zM101.2 63.2H107.6V69.5H101.2zM50.6 69.5H57.0V75.9H50.6zM82.3 69.5H88.6V75.9H82.3zM44.3 75.9H50.6V82.2H44.3zM82.3 75.9H88.6V82.2H82.3zM82.3 82.2H88.6V88.5H82.3zM107.6 82.2H113.9V88.5H107.6zM38.0 88.5H44.3V94.8H38.0zM82.3 88.5H88.6V94.8H82.3zM158.2 88.5H164.5V94.8H158.2zM82.3 113.8H88.6V120.1H82.3zM44.3 139.1H50.6V145.4H44.3zM57.0 145.4H63.3V151.7H57.0zM120.2 145.4H126.6V151.7H120.2z"/>
<path fill="#b5e86e" d="M107.6 50.6H120.2V56.9H107.6zM126.6 56.9H132.9V63.2H126.6zM63.3 63.2H82.3V69.5H63.3zM132.9 63.2H139.2V69.5H132.9zM75.9 69.5H82.3V75.9H75.9zM139.2 69.5H145.5V75.9H139.2zM107.6 75.9H113.9V82.2H107.6zM145.5 75.9H151.9V82.2H145.5zM151.9 82.2H158.2V88.5H151.9zM82.3 94.8H88.6V101.2H82.3zM82.3 101.2H88.6V107.5H82.3zM164.5 101.2H170.9V107.5H164.5zM82.3 107.5H88.6V113.8H82.3zM75.9 126.4H82.3V132.8H75.9zM113.9 126.4H120.2V132.8H113.9zM132.9 158.0H139.2V164.4H132.9zM145.5 158.0H151.9V164.4H145.5z"/>
<path fill="#c7ea5e" d="M107.6 56.9H126.6V63.2H107.6zM107.6 63.2H113.9V69.5H107.6zM57.0 69.5H75.9V75.9H57.0zM107.6 69.5H113.9V75.9H107.6zM75.9 75.9H82.3V82.2H75.9zM44.3 82.2H50.6V88.5H44.3zM38.0 94.8H44.3V101.2H38.0zM164.5 107.5H170.9V113.8H164.5zM38.0 126.4H44.3V132.8H38.0zM164.5 132.8H170.9V139.1H164.5zM158.2 145.4H164.5V151.7H158.2zM126.6 151.7H132.9V158.0H126.6zM139.2 158.0H145.5V164.4H139.2z"/>
<path fill="#62cbef" d="M151.9 56.9H158.2V63.2H151.9zM38.0 63.2H44.3V69.5H38.0zM164.5 75.9H170.9V82.2H164.5zM170.9 88.5H177.2V94.8H170.9zM94.9 107.5H101.2V113.8H94.9zM101.2 113.8H107.6V120.1H101.2zM177.2 113.8H183.5V120.1H177.2zM88.6 120.1H94.9V126.4H88.6zM177.2 120.1H183.5V126.4H177.2zM25.3 126.4H31.6V132.8H25.3zM107.6 132.8H113.9V139.1H107.6zM145.5 170.7H151.9V177.0H145.5z"/>
<path fill="#daec4e" d="M113.9 63.2H120.2V69.5H113.9zM126.6 63.2H132.9V69.5H126.6zM132.9 69.5H139.2V75.9H132.9zM50.6 75.9H57.0V82.2H50.6zM69.6 75.9H75.9V82.2H69.6zM139.2 75.9H145.5V82.2H139.2zM75.9 82.2H82.3V88.5H75.9zM113.9 88.5H120.2V94.8H113.9zM113.9 94.8H120.2V101.2H113.9zM158.2 94.8H164.5V101.2H158.2zM113.9 101.2H120.2V107.5H113.9zM113.9 107.5H120.2V113.8H113.9zM113.9 113.8H120.2V120.1H113.9zM164.5 113.8H170.9V120.1H164.5zM113.9 120.1H120.2V126.4H113.9zM164.5 126.4H170.9V132.8H164.5zM63.3 139.1H69.6V145.4H63.3zM120.2 139.1H126.6V145.4H120.2zM151.9 151.7H158.2V158.0H151.9z"/>
<path fill="#ecee3e" d="M120.2 63.2H126.6V69.5H120.2zM113.9 69.5H120.2V75.9H113.9zM57.0 75.9H69.6V82.2H57.0zM113.9 75.9H120.2V82.2H113.9zM113.9 82.2H120.2V88.5H113.9zM145.5 82.2H151.9V88.5H145.5zM151.9 88.5H158.2V94.8H151.9zM38.0 101.2H44.3V107.5H38.0zM38.0 120.1H44.3V126.4H38.0zM164.5 120.1H170.9V126.4H164.5zM69.6 132.8H75.9V139.1H69.6zM50.6 139.1H57.0V145.4H50.6z"/>
<path fill="#f9ec32" d="M120.2 69.5H132.9V75.9H120.2zM132.9 75.9H139.2V82.2H132.9zM50.6 82.2H57.0V88.5H50.6zM44.3 88.5H50.6V94.8H44.3zM75.9 88.5H82.3V94.8H75.9zM38.0 107.5H44.3V113.8H38.0zM38.0 113.8H44.3V120.1H38.0zM75.9 120.1H82.3V126.4H75.9zM44.3 132.8H50.6V139.1H44.3zM57.0 139.1H63.3V145.4H57.0zM132.9 151.7H139.2V158.0H132.9z"/>
<path fill="#f7dd31" d="M120.2 75.9H126.6V82.2H120.2zM69.6 82.2H75.9V88.5H69.6zM139.2 82.2H145.5V88.5H139.2zM75.9 94.8H82.3V101.2H75.9zM158.2 101.2H164.5V107.5H158.2zM120.2 132.8H126.6V139.1H120.2zM158.2 139.1H164.5V145.4H158.2zM126.6 145.4H132.9V151.7H126.6zM145.5 151.7H151.9V158.0H145.5z"/>
<path fill="#f5cd30" d="M126.6 75.9H132.9V82.2H126.6zM57.0 82.2H69.6V88.5H57.0zM120.2 82.2H126.6V88.5H120.2zM145.5 88.5H151.9V94.8H145.5zM44.3 94.8H50.6V101.2H44.3zM151.9 94.8H158.2V101.2H151.9zM151.9 145.4H158.2V151.7H151.9zM139.2 151.7H145.5V158.0H139.2z"/>
<path fill="#f3bd2f" d="M126.6 82.2H139.2V88.5H126.6zM50.6 88.5H57.0V94.8H50.6zM69.6 88.5H75.9V94.8H69.6zM120.2 88.5H126.6V94.8H120.2zM120.2 94.8H126.6V101.2H120.2zM75.9 101.2H82.3V107.5H75.9zM75.9 107.5H82.3V113.8H75.9zM158.2 107.5H164.5V113.8H158.2zM75.9 113.8H82.3V120.1H75.9zM44.3 126.4H50.6V132.8H44.3zM158.2 132.8H164.5V139.1H158.2z"/>
<path fill="#ee9e2e" d="M57.0 88.5H69.6V94.8H57.0zM126.6 88.5H132.9V94.8H126.6zM145.5 94.8H151.9V101.2H145.5zM44.3 101.2H50.6V107.5H44.3zM151.9 101.2H158.2V107.5H151.9zM120.2 107.5H126.6V113.8H120.2zM120.2 113.8H126.6V120.1H120.2zM158.2 113.8H164.5V120.1H158.2zM120.2 120.1H126.6V126.4H120.2zM158.2 120.1H164.5V126.4H158.2zM158.2 126.4H164.5V132.8H158.2zM57.0 132.8H63.3V139.1H57.0zM132.9 145.4H139.2V151.7H132.9zM145.5 145.4H151.9V151.7H145.5z"/>
<path fill="#ec8e2d" d="M132.9 88.5H139.2V94.8H132.9zM69.6 94.8H75.9V101.2H69.6zM44.3 107.5H50.6V113.8H44.3zM44.3 120.1H50.6V126.4H44.3zM151.9 139.1H158.2V145.4H151.9zM139.2 145.4H145.5V151.7H139.2z"/>
<path fill="#f0ad2f" d="M139.2 88.5H145.5V94.8H139.2zM120.2 101.2H126.6V107.5H120.2zM69.6 126.4H75.9V132.8H69.6zM120.2 126.4H126.6V132.8H120.2zM50.6 132.8H57.0V139.1H50.6zM63.3 132.8H69.6V139.1H63.3zM126.6 139.1H132.9V145.4H126.6z"/>
<path fill="#e97826" d="M50.6 94.8H57.0V101.2H50.6zM126.6 94.8H132.9V101.2H126.6zM44.3 113.8H50.6V120.1H44.3z"/>
<path fill="#e44d18" d="M57.0 94.8H69.6V101.2H57.0zM132.9 94.8H139.2V101.2H132.9zM69.6 101.2H75.9V107.5H69.6zM126.6 101.2H132.9V107.5H126.6zM145.5 101.2H151.9V107.5H145.5zM63.3 126.4H69.6V132.8H63.3zM151.9 132.8H158.2V139.1H151.9zM132.9 139.1H139.2V145.4H132.9z"/>
<path fill="#e7631f" d="M139.2 94.8H145.5V101.2H139.2zM151.9 107.5H158.2V113.8H151.9zM69.6 120.1H75.9V126.4H69.6zM50.6 126.4H57.0V132.8H50.6zM126.6 132.8H132.9V139.1H126.6z"/>
<path fill="#e23811" d="M50.6 101.2H57.0V107.5H50.6zM69.6 107.5H75.9V113.8H69.6zM126.6 107.5H132.9V113.8H126.6zM69.6 113.8H75.9V120.1H69.6zM151.9 113.8H158.2V120.1H151.9zM57.0 126.4H63.3V132.8H57.0zM126.6 126.4H132.9V132.8H126.6zM145.5 139.1H151.9V145.4H145.5z"/>
<path fill="#cc0d04" d="M57.0 101.2H63.3V107.5H57.0zM57.0 120.1H63.3V126.4H57.0zM145.5 132.8H151.9V139.1H145.5z"/>
<path fill="#dc0f04" d="M63.3 101.2H69.6V107.5H63.3zM132.9 101.2H139.2V107.5H132.9zM50.6 107.5H57.0V113.8H50.6zM145.5 107.5H151.9V113.8H145.5zM50.6 113.8H57.0V120.1H50.6zM126.6 113.8H132.9V120.1H126.6zM63.3 120.1H69.6V126.4H63.3zM126.6 120.1H132.9V126.4H126.6zM151.9 120.1H158.2V126.4H151.9zM132.9 132.8H139.2V139.1H132.9z"/>
<path fill="#df220a" d="M139.2 101.2H145.5V107.5H139.2zM50.6 120.1H57.0V126.4H50.6zM151.9 126.4H158.2V132.8H151.9zM139.2 139.1H145.5V145.4H139.2z"/>
<path fill="#ae0a05" d="M57.0 107.5H63.3V113.8H57.0zM139.2 107.5H145.5V113.8H139.2zM57.0 113.8H63.3V120.1H57.0zM145.5 113.8H151.9V120.1H145.5zM132.9 126.4H139.2V132.8H132.9z"/>
<path fill="#bd0c04" d="M63.3 107.5H69.6V113.8H63.3zM132.9 107.5H139.2V113.8H132.9zM63.3 113.8H69.6V120.1H63.3zM139.2 132.8H145.5V139.1H139.2z"/>
<path fill="#9f0805" d="M132.9 113.8H139.2V120.1H132.9zM132.9 120.1H139.2V126.4H132.9zM145.5 120.1H151.9V126.4H145.5zM145.5 126.4H151.9V132.8H145.5z"/>
<path fill="#8f0705" d="M139.2 113.8H145.5V120.1H139.2zM139.2 126.4H145.5V132.8H139.2z"/>
<path fill="#800505" d="M139.2 120.1H145.5V126.4H139.2z"/>
</g>
<rect x="247.00" y="400.00" width="202.50" height="202.30" fill="#000000"/>
<g transform="translate(247.00 400.00)" shape-rendering="crispEdges">
<path fill="#00000b" d="M94.9 19.0H101.2V25.3H94.9zM139.2 19.0H145.5V25.3H139.2zM82.3 25.3H88.6V31.6H82.3zM151.9 31.6H158.2V37.9H151.9z"/>
<path fill="#000075" d="M101.2 19.0H139.2V25.3H101.2zM75.9 31.6H82.3V37.9H75.9zM63.3 37.9H69.6V44.3H63.3zM164.5 56.9H170.9V63.2H164.5zM170.9 69.5H177.2V75.9H170.9zM177.2 82.2H183.5V88.5H177.2zM183.5 94.8H189.8V101.2H183.5zM88.6 126.4H94.9V132.8H88.6zM183.5 139.1H189.8V145.4H183.5zM107.6 151.7H113.9V158.0H107.6zM113.9 164.4H120.2V170.7H113.9z"/>
<path fill="#0000df" d="M88.6 25.3H94.9V31.6H88.6zM139.2 25.3H145.5V31.6H139.2zM151.9 37.9H158.2V44.3H151.9zM57.0 44.3H63.3V50.6H57.0zM101.2 132.8H107.6V139.1H101.2zM50.6 151.7H57.0V158.0H50.6zM69.6 151.7H75.9V158.0H69.6zM145.5 170.7H151.9V177.0H145.5z"/>
<path fill="#0303ff" d="M94.9 25.3H107.6V31.6H94.9zM132.9 25.3H139.2V31.6H132.9zM82.3 31.6H88.6V37.9H82.3zM145.5 31.6H151.9V37.9H145.5zM50.6 50.6H57.0V56.9H50.6zM158.2 50.6H164.5V56.9H158.2zM38.0 63.2H44.3V69.5H38.0zM183.5 101.2H189.8V107.5H183.5zM183.5 132.8H189.8V139.1H183.5zM38.0 139.1H44.3V145.4H38.0zM44.3 145.4H50.6V151.7H44.3zM177.2 145.4H183.5V151.7H177.2zM164.5 158.0H170.9V164.4H164.5zM126.6 170.7H132.9V177.0H126.6z"/>
<path fill="#0909ff" d="M107.6 25.3H132.9V31.6H107.6zM88.6 31.6H94.9V37.9H88.6zM139.2 31.6H145.5V37.9H139.2zM69.6 37.9H75.9V44.3H69.6zM151.9 44.3H158.2V50.6H151.9zM44.3 56.9H50.6V63.2H44.3zM164.5 63.2H170.9V69.5H164.5zM25.3 113.8H31.6V120.1H25.3zM82.3 132.8H88.6V139.1H82.3zM107.6 145.4H113.9V151.7H107.6zM170.9 151.7H177.2V158.0H170.9z"/>
<path fill="#000040" d="M145.5 25.3H151.9V31.6H145.5zM158.2 44.3H164.5V50.6H158.2zM94.9 113.8H101.2V120.1H94.9zM189.8 113.8H196.2V120.1H189.8zM189.8 120.1H196.2V126.4H189.8zM57.0 158.0H69.6V164.4H57.0zM120.2 170.7H126.6V177.0H120.2z"/>
<path fill="#1010ff" d="M94.9 31.6H139.2V37.9H94.9zM75.9 37.9H120.2V44.3H75.9zM145.5 37.9H151.9V44.3H145.5zM170.9 75.9H177.2V82.2H170.9zM177.2 88.5H183.5V94.8H177.2zM25.3 94.8H31.6V101.2H25.3zM25.3 101.2H31.6V107.5H25.3zM94.9 101.2H101.2V107.5H94.9zM25.3 107.5H31.6V113.8H25.3zM183.5 107.5H189.8V113.8H183.5zM183.5 126.4H189.8V132.8H183.5zM113.9 158.0H120.2V164.4H113.9zM132.9 170.7H145.5V177.0H132.9z"/>
<path fill="#1717ff" d="M120.2 37.9H145.5V44.3H120.2zM63.3 44.3H69.6V50.6H63.3zM88.6 44.3H126.6V50.6H88.6zM145.5 44.3H151.9V50.6H145.5zM94.9 50.6H113.9V56.9H94.9zM151.9 50.6H158.2V56.9H151.9zM158.2 56.9H164.5V63.2H158.2zM31.6 75.9H38.0V82.2H31.6zM88.6 113.8H94.9V120.1H88.6zM183.5 113.8H189.8V120.1H183.5zM183.5 120.1H189.8V126.4H183.5zM101.2 126.4H107.6V132.8H101.2zM57.0 151.7H69.6V158.0H57.0zM120.2 164.4H126.6V170.7H120.2zM151.9 164.4H158.2V170.7H151.9z"/>
<path fill="#1d1dff" d="M69.6 44.3H88.6V50.6H69.6zM126.6 44.3H145.5V50.6H126.6zM88.6 50.6H94.9V56.9H88.6zM113.9 50.6H126.6V56.9H113.9zM94.9 56.9H113.9V63.2H94.9zM164.5 69.5H170.9V75.9H164.5zM177.2 94.8H183.5V101.2H177.2zM31.6 126.4H38.0V132.8H31.6zM75.9 139.1H82.3V145.4H75.9zM107.6 139.1H113.9V145.4H107.6zM69.6 145.4H75.9V151.7H69.6z"/>
<path fill="#2424ff" d="M57.0 50.6H63.3V56.9H57.0zM82.3 50.6H88.6V56.9H82.3zM126.6 50.6H151.9V56.9H126.6zM88.6 56.9H94.9V63.2H88.6zM113.9 56.9H120.2V63.2H113.9zM151.9 56.9H158.2V63.2H151.9zM94.9 63.2H113.9V69.5H94.9zM158.2 63.2H164.5V69.5H158.2zM31.6 82.2H38.0V88.5H31.6zM170.9 82.2H177.2V88.5H170.9zM101.2 120.1H107.6V126.4H101.2zM177.2 139.1H183.5V145.4H177.2zM50.6 145.4H57.0V151.7H50.6zM113.9 151.7H120.2V158.0H113.9z"/>
<path fill="#2a2aff" d="M63.3 50.6H82.3V56.9H63.3zM50.6 56.9H57.0V63.2H50.6zM82.3 56.9H88.6V63.2H82.3zM120.2 56.9H126.6V63.2H120.2zM88.6 63.2H94.9V69.5H88.6zM113.9 63.2H120.2V69.5H113.9zM38.0 69.5H44.3V75.9H38.0zM94.9 69.5H107.6V75.9H94.9zM177.2 101.2H183.5V107.5H177.2zM101.2 113.8H107.6V120.1H101.2zM31.6 120.1H38.0V126.4H31.6zM82.3 126.4H88.6V132.8H82.3zM38.0 132.8H44.3V139.1H38.0zM177.2 132.8H183.5V139.1H177.2zM44.3 139.1H50.6V145.4H44.3zM63.3 145.4H69.6V151.7H63.3zM120.2 158.0H126.6V164.4H120.2zM126.6 164.4H132.9V170.7H126.6z"/>
<path fill="#3838ff" d="M57.0 56.9H63.3V63.2H57.0zM75.9 56.9H82.3V63.2H75.9zM82.3 63.2H88.6V69.5H82.3zM120.2 63.2H126.6V69.5H120.2zM151.9 63.2H158.2V69.5H151.9zM113.9 69.5H120.2V75.9H113.9zM158.2 69.5H164.5V75.9H158.2zM107.6 75.9H113.9V82.2H107.6zM94.9 82.2H107.6V88.5H94.9zM94.9 88.5H107.6V94.8H94.9zM94.9 94.8H107.6V101.2H94.9zM101.2 101.2H107.6V107.5H101.2zM31.6 113.8H38.0V120.1H31.6zM177.2 113.8H183.5V120.1H177.2zM82.3 120.1H88.6V126.4H82.3zM177.2 120.1H183.5V126.4H177.2zM113.9 145.4H120.2V151.7H113.9zM158.2 158.0H164.5V164.4H158.2zM132.9 164.4H139.2V170.7H132.9zM145.5 164.4H151.9V170.7H145.5z"/>
<path fill="#3e3eff" d="M63.3 56.9H75.9V63.2H63.3zM126.6 63.2H132.9V69.5H126.6zM145.5 63.2H151.9V69.5H145.5zM82.3 69.5H88.6V75.9H82.3zM38.0 75.9H44.3V82.2H38.0zM88.6 75.9H94.9V82.2H88.6zM88.6 82.2H94.9V88.5H88.6zM107.6 82.2H113.9V88.5H107.6zM31.6 94.8H38.0V101.2H31.6zM170.9 94.8H177.2V101.2H170.9zM31.6 101.2H38.0V107.5H31.6zM88.6 101.2H94.9V107.5H88.6zM31.6 107.5H38.0V113.8H31.6zM38.0 126.4H44.3V132.8H38.0zM107.6 126.4H113.9V132.8H107.6zM50.6 139.1H57.0V145.4H50.6zM63.3 139.1H69.6V145.4H63.3zM120.2 151.7H126.6V158.0H120.2zM164.5 151.7H170.9V158.0H164.5zM139.2 164.4H145.5V170.7H139.2z"/>
<path fill="#3131ff" d="M126.6 56.9H151.9V63.2H126.6zM44.3 63.2H50.6V69.5H44.3zM88.6 69.5H94.9V75.9H88.6zM107.6 69.5H113.9V75.9H107.6zM94.9 75.9H107.6V82.2H94.9zM164.5 75.9H170.9V82.2H164.5zM31.6 88.5H38.0V94.8H31.6zM170.9 88.5H177.2V94.8H170.9zM88.6 107.5H94.9V113.8H88.6zM101.2 107.5H107.6V113.8H101.2zM177.2 107.5H183.5V113.8H177.2zM177.2 126.4H183.5V132.8H177.2zM75.9 132.8H82.3V139.1H75.9zM107.6 132.8H113.9V139.1H107.6zM69.6 139.1H75.9V145.4H69.6zM57.0 145.4H63.3V151.7H57.0zM170.9 145.4H177.2V151.7H170.9z"/>
<path fill="#4545ff" d="M50.6 63.2H57.0V69.5H50.6zM75.9 63.2H82.3V69.5H75.9zM132.9 63.2H145.5V69.5H132.9zM44.3 69.5H50.6V75.9H44.3zM120.2 69.5H126.6V75.9H120.2zM113.9 75.9H120.2V82.2H113.9zM164.5 82.2H170.9V88.5H164.5zM88.6 88.5H94.9V94.8H88.6zM107.6 88.5H113.9V94.8H107.6zM88.6 94.8H94.9V101.2H88.6zM82.3 113.8H88.6V120.1H82.3zM107.6 120.1H113.9V126.4H107.6zM75.9 126.4H82.3V132.8H75.9zM44.3 132.8H50.6V139.1H44.3zM69.6 132.8H75.9V139.1H69.6zM57.0 139.1H63.3V145.4H57.0zM113.9 139.1H120.2V145.4H113.9zM170.9 139.1H177.2V145.4H170.9zM126.6 158.0H132.9V164.4H126.6z"/>
<path fill="#5252ff" d="M57.0 63.2H69.6V69.5H57.0zM75.9 69.5H82.3V75.9H75.9zM126.6 69.5H132.9V75.9H126.6zM82.3 82.2H88.6V88.5H82.3zM113.9 82.2H120.2V88.5H113.9zM164.5 88.5H170.9V94.8H164.5zM107.6 101.2H113.9V107.5H107.6zM82.3 107.5H88.6V113.8H82.3zM170.9 107.5H177.2V113.8H170.9zM44.3 126.4H50.6V132.8H44.3zM50.6 132.8H57.0V139.1H50.6zM63.3 132.8H69.6V139.1H63.3zM113.9 132.8H120.2V139.1H113.9zM170.9 132.8H177.2V139.1H170.9zM120.2 145.4H126.6V151.7H120.2zM164.5 145.4H170.9V151.7H164.5zM132.9 158.0H139.2V164.4H132.9z"/>
<path fill="#4c4cff" d="M69.6 63.2H75.9V69.5H69.6zM151.9 69.5H158.2V75.9H151.9zM82.3 75.9H88.6V82.2H82.3zM158.2 75.9H164.5V82.2H158.2zM38.0 82.2H44.3V88.5H38.0zM107.6 94.8H113.9V101.2H107.6zM170.9 101.2H177.2V107.5H170.9zM107.6 107.5H113.9V113.8H107.6zM107.6 113.8H113.9V120.1H107.6zM38.0 120.1H44.3V126.4H38.0zM151.9 158.0H158.2V164.4H151.9z"/>
<path fill="#0000aa" d="M31.6 69.5H38.0V75.9H31.6zM25.3 88.5H31.6V94.8H25.3zM94.9 107.5H101.2V113.8H94.9zM25.3 120.1H31.6V126.4H25.3zM88.6 120.1H94.9V126.4H88.6zM31.6 132.8H38.0V139.1H31.6zM75.9 145.4H82.3V151.7H75.9z"/>
<path fill="#5959ff" d="M50.6 69.5H57.0V75.9H50.6zM145.5 69.5H151.9V75.9H145.5zM44.3 75.9H50.6V82.2H44.3zM120.2 75.9H126.6V82.2H120.2zM38.0 88.5H44.3V94.8H38.0zM82.3 88.5H88.6V94.8H82.3zM82.3 94.8H88.6V101.2H82.3zM82.3 101.2H88.6V107.5H82.3zM38.0 113.8H44.3V120.1H38.0zM170.9 113.8H177.2V120.1H170.9zM75.9 120.1H82.3V126.4H75.9zM170.9 120.1H177.2V126.4H170.9zM69.6 126.4H75.9V132.8H69.6zM170.9 126.4H177.2V132.8H170.9zM57.0 132.8H63.3V139.1H57.0zM126.6 151.7H132.9V158.0H126.6zM158.2 151.7H164.5V158.0H158.2zM139.2 158.0H151.9V164.4H139.2z"/>
<path fill="#6666ff" d="M57.0 69.5H69.6V75.9H57.0zM44.3 82.2H50.6V88.5H44.3zM164.5 94.8H170.9V101.2H164.5zM75.9 113.8H82.3V120.1H75.9zM44.3 120.1H50.6V126.4H44.3zM57.0 126.4H69.6V132.8H57.0zM113.9 126.4H120.2V132.8H113.9zM120.2 139.1H126.6V145.4H120.2zM164.5 139.1H170.9V145.4H164.5z"/>
<path fill="#6060ff" d="M69.6 69.5H75.9V75.9H69.6zM132.9 69.5H145.5V75.9H132.9zM75.9 75.9H82.3V82.2H75.9zM151.9 75.9H158.2V82.2H151.9zM158.2 82.2H164.5V88.5H158.2zM113.9 88.5H120.2V94.8H113.9zM38.0 94.8H44.3V101.2H38.0zM38.0 101.2H44.3V107.5H38.0zM38.0 107.5H44.3V113.8H38.0zM50.6 126.4H57.0V132.8H50.6z"/>
<path fill="#6d6dff" d="M50.6 75.9H57.0V82.2H50.6zM69.6 75.9H75.9V82.2H69.6zM126.6 75.9H132.9V82.2H126.6zM75.9 82.2H82.3V88.5H75.9zM120.2 82.2H126.6V88.5H120.2zM113.9 94.8H120.2V101.2H113.9zM75.9 107.5H82.3V113.8H75.9zM44.3 113.8H50.6V120.1H44.3zM69.6 120.1H75.9V126.4H69.6zM113.9 120.1H120.2V126.4H113.9zM132.9 151.7H139.2V158.0H132.9zM151.9 151.7H158.2V158.0H151.9z"/>
<path fill="#7a7aff" d="M57.0 75.9H69.6V82.2H57.0zM132.9 75.9H145.5V82.2H132.9zM50.6 82.2H57.0V88.5H50.6zM69.6 82.2H75.9V88.5H69.6zM151.9 82.2H158.2V88.5H151.9zM44.3 94.8H50.6V101.2H44.3zM75.9 94.8H82.3V101.2H75.9zM44.3 101.2H50.6V107.5H44.3zM44.3 107.5H50.6V113.8H44.3zM69.6 113.8H75.9V120.1H69.6zM57.0 120.1H69.6V126.4H57.0zM120.2 132.8H126.6V139.1H120.2zM164.5 132.8H170.9V139.1H164.5zM139.2 151.7H151.9V158.0H139.2z"/>
<path fill="#7474ff" d="M145.5 75.9H151.9V82.2H145.5zM44.3 88.5H50.6V94.8H44.3zM75.9 88.5H82.3V94.8H75.9zM158.2 88.5H164.5V94.8H158.2zM75.9 101.2H82.3V107.5H75.9zM113.9 101.2H120.2V107.5H113.9zM164.5 101.2H170.9V107.5H164.5zM113.9 107.5H120.2V113.8H113.9zM113.9 113.8H120.2V120.1H113.9zM50.6 120.1H57.0V126.4H50.6zM126.6 145.4H132.9V151.7H126.6zM158.2 145.4H164.5V151.7H158.2z"/>
<path fill="#8787ff" d="M57.0 82.2H69.6V88.5H57.0zM126.6 82.2H132.9V88.5H126.6zM50.6 88.5H57.0V94.8H50.6zM69.6 88.5H75.9V94.8H69.6zM69.6 107.5H75.9V113.8H69.6zM63.3 113.8H69.6V120.1H63.3zM164.5 113.8H170.9V120.1H164.5zM164.5 120.1H170.9V126.4H164.5zM132.9 145.4H139.2V151.7H132.9z"/>
<path fill="#9595ff" d="M132.9 82.2H139.2V88.5H132.9zM57.0 88.5H69.6V94.8H57.0zM151.9 88.5H158.2V94.8H151.9zM50.6 101.2H57.0V107.5H50.6zM57.0 107.5H69.6V113.8H57.0z"/>
<path fill="#9b9bff" d="M139.2 82.2H145.5V88.5H139.2zM57.0 94.8H69.6V101.2H57.0zM57.0 101.2H69.6V107.5H57.0zM120.2 101.2H126.6V107.5H120.2zM120.2 120.1H126.6V126.4H120.2zM139.2 145.4H151.9V151.7H139.2z"/>
<path fill="#8e8eff" d="M145.5 82.2H151.9V88.5H145.5zM50.6 94.8H57.0V101.2H50.6zM69.6 94.8H75.9V101.2H69.6zM120.2 94.8H126.6V101.2H120.2zM158.2 94.8H164.5V101.2H158.2zM69.6 101.2H75.9V107.5H69.6zM50.6 107.5H57.0V113.8H50.6zM57.0 113.8H63.3V120.1H57.0zM120.2 126.4H126.6V132.8H120.2zM126.6 139.1H132.9V145.4H126.6zM158.2 139.1H164.5V145.4H158.2zM151.9 145.4H158.2V151.7H151.9z"/>
<path fill="#8181ff" d="M120.2 88.5H126.6V94.8H120.2zM164.5 107.5H170.9V113.8H164.5zM50.6 113.8H57.0V120.1H50.6zM164.5 126.4H170.9V132.8H164.5z"/>
<path fill="#a2a2ff" d="M126.6 88.5H132.9V94.8H126.6zM158.2 101.2H164.5V107.5H158.2zM120.2 107.5H126.6V113.8H120.2zM120.2 113.8H126.6V120.1H120.2zM126.6 132.8H132.9V139.1H126.6zM158.2 132.8H164.5V139.1H158.2z"/>
<path fill="#b6b6ff" d="M132.9 88.5H139.2V94.8H132.9zM126.6 94.8H132.9V101.2H126.6zM158.2 113.8H164.5V120.1H158.2zM158.2 120.1H164.5V126.4H158.2zM139.2 139.1H151.9V145.4H139.2z"/>
<path fill="#bdbdff" d="M139.2 88.5H145.5V94.8H139.2zM126.6 126.4H132.9V132.8H126.6z"/>
<path fill="#afafff" d="M145.5 88.5H151.9V94.8H145.5zM151.9 94.8H158.2V101.2H151.9zM158.2 107.5H164.5V113.8H158.2zM158.2 126.4H164.5V132.8H158.2z"/>
<path fill="#d1d1ff" d="M132.9 94.8H139.2V101.2H132.9zM145.5 94.8H151.9V101.2H145.5zM126.6 107.5H132.9V113.8H126.6zM126.6 113.8H132.9V120.1H126.6z"/>
<path fill="#d7d7ff" d="M139.2 94.8H145.5V101.2H139.2zM151.9 107.5H158.2V113.8H151.9zM151.9 126.4H158.2V132.8H151.9zM139.2 132.8H151.9V139.1H139.2z"/>
<path fill="#cacaff" d="M126.6 101.2H132.9V107.5H126.6zM151.9 101.2H158.2V107.5H151.9zM126.6 120.1H132.9V126.4H126.6z"/>
<path fill="#e4e4ff" d="M132.9 101.2H139.2V107.5H132.9zM151.9 113.8H158.2V120.1H151.9z"/>
<path fill="#f2f2ff" d="M139.2 101.2H145.5V107.5H139.2zM132.9 107.5H139.2V113.8H132.9zM132.9 120.1H139.2V126.4H132.9zM139.2 126.4H145.5V132.8H139.2z"/>
<path fill="#ebebff" d="M145.5 101.2H151.9V107.5H145.5zM145.5 126.4H151.9V132.8H145.5z"/>
<path fill="#ffffff" d="M139.2 107.5H145.5V113.8H139.2zM139.2 113.8H151.9V120.1H139.2zM139.2 120.1H151.9V126.4H139.2z"/>
<path fill="#f8f8ff" d="M145.5 107.5H151.9V113.8H145.5zM132.9 113.8H139.2V120.1H132.9z"/>
<path fill="#dedeff" d="M151.9 120.1H158.2V126.4H151.9zM132.9 126.4H139.2V132.8H132.9z"/>
<path fill="#c3c3ff" d="M132.9 132.8H139.2V139.1H132.9zM151.9 132.8H158.2V139.1H151.9z"/>
<path fill="#a9a9ff" d="M132.9 139.1H139.2V145.4H132.9zM151.9 139.1H158.2V145.4H151.9z"/>
</g>
<rect x="557.25" y="400.00" width="202.50" height="202.30" fill="#050584"/>
<g transform="translate(557.25 400.00)" shape-rendering="crispEdges">
<path fill="#050598" d="M57.0 12.6H126.6V19.0H57.0zM44.3 19.0H50.6V25.3H44.3zM126.6 19.0H139.2V25.3H126.6zM31.6 25.3H38.0V31.6H31.6zM139.2 25.3H145.5V31.6H139.2zM25.3 31.6H31.6V37.9H25.3zM145.5 31.6H151.9V37.9H145.5zM19.0 37.9H25.3V44.3H19.0zM151.9 37.9H158.2V44.3H151.9zM19.0 44.3H25.3V50.6H19.0zM158.2 44.3H164.5V50.6H158.2zM12.7 50.6H19.0V56.9H12.7zM158.2 50.6H164.5V56.9H158.2zM12.7 56.9H19.0V63.2H12.7zM164.5 56.9H170.9V63.2H164.5zM164.5 63.2H170.9V69.5H164.5zM6.3 69.5H12.7V75.9H6.3zM164.5 69.5H170.9V75.9H164.5zM0.0 75.9H6.3V82.2H0.0zM164.5 75.9H170.9V82.2H164.5zM0.0 82.2H6.3V88.5H0.0zM164.5 82.2H170.9V88.5H164.5zM164.5 88.5H170.9V94.8H164.5zM164.5 94.8H170.9V101.2H164.5zM164.5 101.2H170.9V107.5H164.5zM158.2 113.8H164.5V120.1H158.2zM158.2 120.1H164.5V126.4H158.2zM158.2 126.4H164.5V132.8H158.2zM151.9 132.8H158.2V139.1H151.9zM0.0 139.1H6.3V145.4H0.0zM151.9 139.1H158.2V145.4H151.9zM0.0 145.4H12.7V151.7H0.0zM145.5 145.4H151.9V151.7H145.5zM12.7 151.7H19.0V158.0H12.7zM132.9 151.7H145.5V158.0H132.9zM12.7 158.0H25.3V164.4H12.7zM113.9 158.0H132.9V164.4H113.9zM25.3 164.4H31.6V170.7H25.3zM101.2 164.4H113.9V170.7H101.2zM31.6 170.7H44.3V177.0H31.6zM88.6 170.7H94.9V177.0H88.6zM44.3 177.0H82.3V183.3H44.3z"/>
<path fill="#0505ad" d="M50.6 19.0H69.6V25.3H50.6zM113.9 19.0H126.6V25.3H113.9zM38.0 25.3H50.6V31.6H38.0zM132.9 25.3H139.2V31.6H132.9zM31.6 31.6H38.0V37.9H31.6zM139.2 31.6H145.5V37.9H139.2zM25.3 37.9H31.6V44.3H25.3zM145.5 37.9H151.9V44.3H145.5zM151.9 44.3H158.2V50.6H151.9zM19.0 50.6H25.3V56.9H19.0zM158.2 56.9H164.5V63.2H158.2zM12.7 63.2H19.0V69.5H12.7zM158.2 63.2H164.5V69.5H158.2zM12.7 69.5H19.0V75.9H12.7zM6.3 75.9H12.7V82.2H6.3zM6.3 82.2H12.7V88.5H6.3zM0.0 88.5H6.3V94.8H0.0zM158.2 88.5H164.5V94.8H158.2zM158.2 94.8H164.5V101.2H158.2zM158.2 101.2H164.5V107.5H158.2zM158.2 107.5H164.5V113.8H158.2zM151.9 120.1H158.2V126.4H151.9zM151.9 126.4H158.2V132.8H151.9zM0.0 132.8H6.3V139.1H0.0zM6.3 139.1H12.7V145.4H6.3zM145.5 139.1H151.9V145.4H145.5zM12.7 145.4H19.0V151.7H12.7zM139.2 145.4H145.5V151.7H139.2zM120.2 151.7H132.9V158.0H120.2zM101.2 158.0H113.9V164.4H101.2zM31.6 164.4H38.0V170.7H31.6zM94.9 164.4H101.2V170.7H94.9zM44.3 170.7H57.0V177.0H44.3zM75.9 170.7H88.6V177.0H75.9z"/>
<path fill="#0404c1" d="M69.6 19.0H113.9V25.3H69.6zM50.6 25.3H57.0V31.6H50.6zM126.6 25.3H132.9V31.6H126.6zM38.0 31.6H44.3V37.9H38.0zM31.6 37.9H38.0V44.3H31.6zM25.3 44.3H31.6V50.6H25.3zM151.9 50.6H158.2V56.9H151.9zM19.0 56.9H25.3V63.2H19.0zM158.2 69.5H164.5V75.9H158.2zM12.7 75.9H19.0V82.2H12.7zM158.2 75.9H164.5V82.2H158.2zM158.2 82.2H164.5V88.5H158.2zM6.3 88.5H12.7V94.8H6.3zM0.0 94.8H6.3V101.2H0.0zM0.0 101.2H6.3V107.5H0.0zM0.0 107.5H6.3V113.8H0.0zM0.0 113.8H6.3V120.1H0.0zM151.9 113.8H158.2V120.1H151.9zM0.0 120.1H6.3V126.4H0.0zM0.0 126.4H6.3V132.8H0.0zM6.3 132.8H12.7V139.1H6.3zM145.5 132.8H151.9V139.1H145.5zM139.2 139.1H145.5V145.4H139.2zM132.9 145.4H139.2V151.7H132.9zM19.0 151.7H25.3V158.0H19.0zM113.9 151.7H120.2V158.0H113.9zM25.3 158.0H31.6V164.4H25.3zM38.0 164.4H44.3V170.7H38.0zM88.6 164.4H94.9V170.7H88.6zM57.0 170.7H75.9V177.0H57.0z"/>
<path fill="#0404d6" d="M57.0 25.3H63.3V31.6H57.0zM120.2 25.3H126.6V31.6H120.2zM44.3 31.6H50.6V37.9H44.3zM132.9 31.6H139.2V37.9H132.9zM139.2 37.9H145.5V44.3H139.2zM145.5 44.3H151.9V50.6H145.5zM25.3 50.6H31.6V56.9H25.3zM151.9 56.9H158.2V63.2H151.9zM19.0 63.2H25.3V69.5H19.0zM12.7 82.2H19.0V88.5H12.7zM6.3 94.8H12.7V101.2H6.3zM151.9 101.2H158.2V107.5H151.9zM151.9 107.5H158.2V113.8H151.9zM6.3 126.4H12.7V132.8H6.3zM145.5 126.4H151.9V132.8H145.5zM12.7 139.1H19.0V145.4H12.7zM19.0 145.4H25.3V151.7H19.0zM126.6 145.4H132.9V151.7H126.6zM107.6 151.7H113.9V158.0H107.6zM31.6 158.0H38.0V164.4H31.6zM94.9 158.0H101.2V164.4H94.9zM44.3 164.4H50.6V170.7H44.3zM82.3 164.4H88.6V170.7H82.3z"/>
<path fill="#0404ea" d="M63.3 25.3H75.9V31.6H63.3zM101.2 25.3H120.2V31.6H101.2zM126.6 31.6H132.9V37.9H126.6zM38.0 37.9H44.3V44.3H38.0zM31.6 44.3H38.0V50.6H31.6zM145.5 50.6H151.9V56.9H145.5zM25.3 56.9H31.6V63.2H25.3zM151.9 63.2H158.2V69.5H151.9zM19.0 69.5H25.3V75.9H19.0zM151.9 69.5H158.2V75.9H151.9zM151.9 75.9H158.2V82.2H151.9zM151.9 82.2H158.2V88.5H151.9zM151.9 88.5H158.2V94.8H151.9zM151.9 94.8H158.2V101.2H151.9zM6.3 101.2H12.7V107.5H6.3zM6.3 107.5H12.7V113.8H6.3zM6.3 113.8H12.7V120.1H6.3zM6.3 120.1H12.7V126.4H6.3zM145.5 120.1H151.9V126.4H145.5zM12.7 132.8H19.0V139.1H12.7zM139.2 132.8H145.5V139.1H139.2zM132.9 139.1H139.2V145.4H132.9zM120.2 145.4H126.6V151.7H120.2zM25.3 151.7H31.6V158.0H25.3zM101.2 151.7H107.6V158.0H101.2zM88.6 158.0H94.9V164.4H88.6zM50.6 164.4H57.0V170.7H50.6zM69.6 164.4H82.3V170.7H69.6z"/>
<path fill="#0a12f0" d="M75.9 25.3H101.2V31.6H75.9zM50.6 31.6H57.0V37.9H50.6zM132.9 37.9H139.2V44.3H132.9zM139.2 44.3H145.5V50.6H139.2zM31.6 50.6H38.0V56.9H31.6zM25.3 63.2H31.6V69.5H25.3zM19.0 75.9H25.3V82.2H19.0zM12.7 88.5H19.0V94.8H12.7zM145.5 107.5H151.9V113.8H145.5zM145.5 113.8H151.9V120.1H145.5zM12.7 126.4H19.0V132.8H12.7zM139.2 126.4H145.5V132.8H139.2zM19.0 139.1H25.3V145.4H19.0zM126.6 139.1H132.9V145.4H126.6zM113.9 145.4H120.2V151.7H113.9zM94.9 151.7H101.2V158.0H94.9zM38.0 158.0H44.3V164.4H38.0zM82.3 158.0H88.6V164.4H82.3zM57.0 164.4H69.6V170.7H57.0z"/>
<path fill="#1325ef" d="M57.0 31.6H63.3V37.9H57.0zM120.2 31.6H126.6V37.9H120.2zM44.3 37.9H50.6V44.3H44.3zM38.0 44.3H44.3V50.6H38.0zM145.5 56.9H151.9V63.2H145.5zM19.0 82.2H25.3V88.5H19.0zM12.7 94.8H19.0V101.2H12.7zM12.7 101.2H19.0V107.5H12.7zM145.5 101.2H151.9V107.5H145.5zM12.7 120.1H19.0V126.4H12.7zM132.9 132.8H139.2V139.1H132.9zM25.3 145.4H31.6V151.7H25.3zM107.6 145.4H113.9V151.7H107.6zM31.6 151.7H38.0V158.0H31.6zM44.3 158.0H50.6V164.4H44.3z"/>
<path fill="#1b38ee" d="M63.3 31.6H69.6V37.9H63.3zM107.6 31.6H120.2V37.9H107.6zM126.6 37.9H132.9V44.3H126.6zM139.2 50.6H145.5V56.9H139.2zM31.6 56.9H38.0V63.2H31.6zM145.5 63.2H151.9V69.5H145.5zM25.3 69.5H31.6V75.9H25.3zM145.5 69.5H151.9V75.9H145.5zM145.5 88.5H151.9V94.8H145.5zM145.5 94.8H151.9V101.2H145.5zM12.7 107.5H19.0V113.8H12.7zM12.7 113.8H19.0V120.1H12.7zM139.2 120.1H145.5V126.4H139.2zM19.0 132.8H25.3V139.1H19.0zM120.2 139.1H126.6V145.4H120.2zM101.2 145.4H107.6V151.7H101.2zM88.6 151.7H94.9V158.0H88.6zM75.9 158.0H82.3V164.4H75.9z"/>
<path fill="#244bee" d="M69.6 31.6H107.6V37.9H69.6zM50.6 37.9H57.0V44.3H50.6zM132.9 44.3H139.2V50.6H132.9zM38.0 50.6H44.3V56.9H38.0zM25.3 75.9H31.6V82.2H25.3zM145.5 75.9H151.9V82.2H145.5zM145.5 82.2H151.9V88.5H145.5zM19.0 88.5H25.3V94.8H19.0zM139.2 113.8H145.5V120.1H139.2zM132.9 126.4H139.2V132.8H132.9zM126.6 132.8H132.9V139.1H126.6zM25.3 139.1H31.6V145.4H25.3zM113.9 139.1H120.2V145.4H113.9zM38.0 151.7H44.3V158.0H38.0zM50.6 158.0H57.0V164.4H50.6zM69.6 158.0H75.9V164.4H69.6z"/>
<path fill="#2d5eed" d="M57.0 37.9H63.3V44.3H57.0zM120.2 37.9H126.6V44.3H120.2zM44.3 44.3H50.6V50.6H44.3zM139.2 56.9H145.5V63.2H139.2zM31.6 63.2H38.0V69.5H31.6zM19.0 94.8H25.3V101.2H19.0zM139.2 107.5H145.5V113.8H139.2zM19.0 126.4H25.3V132.8H19.0zM107.6 139.1H113.9V145.4H107.6zM31.6 145.4H38.0V151.7H31.6zM94.9 145.4H101.2V151.7H94.9zM82.3 151.7H88.6V158.0H82.3zM57.0 158.0H69.6V164.4H57.0z"/>
<path fill="#3e84ec" d="M63.3 37.9H75.9V44.3H63.3zM107.6 37.9H113.9V44.3H107.6zM50.6 44.3H57.0V50.6H50.6zM44.3 50.6H50.6V56.9H44.3zM31.6 69.5H38.0V75.9H31.6zM139.2 69.5H145.5V75.9H139.2zM139.2 75.9H145.5V82.2H139.2zM139.2 82.2H145.5V88.5H139.2zM139.2 88.5H145.5V94.8H139.2zM19.0 107.5H25.3V113.8H19.0zM19.0 113.8H25.3V120.1H19.0zM132.9 113.8H139.2V120.1H132.9zM25.3 132.8H31.6V139.1H25.3zM113.9 132.8H120.2V139.1H113.9zM101.2 139.1H107.6V145.4H101.2zM88.6 145.4H94.9V151.7H88.6zM44.3 151.7H50.6V158.0H44.3zM75.9 151.7H82.3V158.0H75.9z"/>
<path fill="#4796ed" d="M75.9 37.9H107.6V44.3H75.9zM120.2 44.3H126.6V50.6H120.2zM132.9 56.9H139.2V63.2H132.9zM38.0 63.2H44.3V69.5H38.0zM25.3 88.5H31.6V94.8H25.3zM132.9 107.5H139.2V113.8H132.9zM31.6 139.1H38.0V145.4H31.6zM38.0 145.4H44.3V151.7H38.0zM50.6 151.7H57.0V158.0H50.6z"/>
<path fill="#3571ed" d="M113.9 37.9H120.2V44.3H113.9zM126.6 44.3H132.9V50.6H126.6zM132.9 50.6H139.2V56.9H132.9zM38.0 56.9H44.3V63.2H38.0zM139.2 63.2H145.5V69.5H139.2zM25.3 82.2H31.6V88.5H25.3zM139.2 94.8H145.5V101.2H139.2zM19.0 101.2H25.3V107.5H19.0zM139.2 101.2H145.5V107.5H139.2zM19.0 120.1H25.3V126.4H19.0zM132.9 120.1H139.2V126.4H132.9zM126.6 126.4H132.9V132.8H126.6zM120.2 132.8H126.6V139.1H120.2z"/>
<path fill="#50a8ed" d="M57.0 44.3H63.3V50.6H57.0zM113.9 44.3H120.2V50.6H113.9zM126.6 50.6H132.9V56.9H126.6zM132.9 63.2H139.2V69.5H132.9zM31.6 75.9H38.0V82.2H31.6zM132.9 101.2H139.2V107.5H132.9zM126.6 120.1H132.9V126.4H126.6zM25.3 126.4H31.6V132.8H25.3zM120.2 126.4H126.6V132.8H120.2zM107.6 132.8H113.9V139.1H107.6zM94.9 139.1H101.2V145.4H94.9zM69.6 151.7H75.9V158.0H69.6z"/>
<path fill="#59b9ee" d="M63.3 44.3H69.6V50.6H63.3zM107.6 44.3H113.9V50.6H107.6zM50.6 50.6H57.0V56.9H50.6zM44.3 56.9H50.6V63.2H44.3zM132.9 69.5H139.2V75.9H132.9zM132.9 88.5H139.2V94.8H132.9zM25.3 94.8H31.6V101.2H25.3zM132.9 94.8H139.2V101.2H132.9zM126.6 113.8H132.9V120.1H126.6zM113.9 126.4H120.2V132.8H113.9zM101.2 132.8H107.6V139.1H101.2zM82.3 145.4H88.6V151.7H82.3zM57.0 151.7H69.6V158.0H57.0z"/>
<path fill="#62cbef" d="M69.6 44.3H82.3V50.6H69.6zM94.9 44.3H107.6V50.6H94.9zM120.2 50.6H126.6V56.9H120.2zM126.6 56.9H132.9V63.2H126.6zM38.0 69.5H44.3V75.9H38.0zM132.9 75.9H139.2V82.2H132.9zM31.6 82.2H38.0V88.5H31.6zM132.9 82.2H139.2V88.5H132.9zM25.3 101.2H31.6V107.5H25.3zM25.3 120.1H31.6V126.4H25.3zM120.2 120.1H126.6V126.4H120.2zM31.6 132.8H38.0V139.1H31.6zM44.3 145.4H50.6V151.7H44.3z"/>
<path fill="#6bddf0" d="M82.3 44.3H94.9V50.6H82.3zM57.0 50.6H63.3V56.9H57.0zM113.9 50.6H120.2V56.9H113.9zM44.3 63.2H50.6V69.5H44.3zM126.6 63.2H132.9V69.5H126.6zM126.6 101.2H132.9V107.5H126.6zM25.3 107.5H31.6V113.8H25.3zM126.6 107.5H132.9V113.8H126.6zM25.3 113.8H31.6V120.1H25.3zM107.6 126.4H113.9V132.8H107.6zM38.0 139.1H44.3V145.4H38.0zM88.6 139.1H94.9V145.4H88.6z"/>
<path fill="#72e6e9" d="M63.3 50.6H69.6V56.9H63.3zM107.6 50.6H113.9V56.9H107.6zM50.6 56.9H57.0V63.2H50.6zM120.2 56.9H126.6V63.2H120.2zM126.6 69.5H132.9V75.9H126.6zM38.0 75.9H44.3V82.2H38.0zM31.6 88.5H38.0V94.8H31.6zM126.6 88.5H132.9V94.8H126.6zM126.6 94.8H132.9V101.2H126.6zM120.2 113.8H126.6V120.1H120.2zM113.9 120.1H120.2V126.4H113.9zM94.9 132.8H101.2V139.1H94.9zM75.9 145.4H82.3V151.7H75.9z"/>
<path fill="#76e5da" d="M69.6 50.6H82.3V56.9H69.6zM88.6 50.6H107.6V56.9H88.6zM113.9 56.9H120.2V63.2H113.9zM120.2 63.2H126.6V69.5H120.2zM126.6 75.9H132.9V82.2H126.6zM126.6 82.2H132.9V88.5H126.6zM120.2 107.5H126.6V113.8H120.2zM31.6 126.4H38.0V132.8H31.6zM101.2 126.4H107.6V132.8H101.2zM50.6 145.4H57.0V151.7H50.6z"/>
<path fill="#7ae4cb" d="M82.3 50.6H88.6V56.9H82.3zM57.0 56.9H63.3V63.2H57.0zM107.6 56.9H113.9V63.2H107.6zM50.6 63.2H57.0V69.5H50.6zM44.3 69.5H50.6V75.9H44.3zM120.2 69.5H126.6V75.9H120.2zM31.6 94.8H38.0V101.2H31.6zM120.2 94.8H126.6V101.2H120.2zM120.2 101.2H126.6V107.5H120.2zM113.9 113.8H120.2V120.1H113.9zM107.6 120.1H113.9V126.4H107.6zM82.3 139.1H88.6V145.4H82.3zM57.0 145.4H63.3V151.7H57.0zM69.6 145.4H75.9V151.7H69.6z"/>
<path fill="#7de4bc" d="M63.3 56.9H69.6V63.2H63.3zM94.9 56.9H107.6V63.2H94.9zM113.9 63.2H120.2V69.5H113.9zM120.2 75.9H126.6V82.2H120.2zM38.0 82.2H44.3V88.5H38.0zM120.2 82.2H126.6V88.5H120.2zM120.2 88.5H126.6V94.8H120.2zM113.9 107.5H120.2V113.8H113.9zM107.6 113.8H113.9V120.1H107.6zM31.6 120.1H38.0V126.4H31.6zM101.2 120.1H107.6V126.4H101.2zM94.9 126.4H101.2V132.8H94.9zM38.0 132.8H44.3V139.1H38.0zM88.6 132.8H94.9V139.1H88.6zM44.3 139.1H50.6V145.4H44.3zM63.3 145.4H69.6V151.7H63.3z"/>
<path fill="#81e3ad" d="M69.6 56.9H94.9V63.2H69.6zM101.2 63.2H113.9V69.5H101.2zM107.6 69.5H120.2V75.9H107.6zM113.9 75.9H120.2V82.2H113.9zM113.9 82.2H120.2V88.5H113.9zM113.9 88.5H120.2V94.8H113.9zM113.9 94.8H120.2V101.2H113.9zM31.6 101.2H38.0V107.5H31.6zM113.9 101.2H120.2V107.5H113.9zM31.6 107.5H38.0V113.8H31.6zM107.6 107.5H113.9V113.8H107.6zM31.6 113.8H38.0V120.1H31.6z"/>
<path fill="#85e29e" d="M57.0 63.2H63.3V69.5H57.0zM88.6 63.2H101.2V69.5H88.6zM50.6 69.5H57.0V75.9H50.6zM94.9 69.5H107.6V75.9H94.9zM44.3 75.9H50.6V82.2H44.3zM101.2 75.9H113.9V82.2H101.2zM107.6 82.2H113.9V88.5H107.6zM107.6 88.5H113.9V94.8H107.6zM107.6 94.8H113.9V101.2H107.6zM107.6 101.2H113.9V107.5H107.6zM101.2 113.8H107.6V120.1H101.2zM75.9 139.1H82.3V145.4H75.9z"/>
<path fill="#90e38e" d="M63.3 63.2H88.6V69.5H63.3zM88.6 69.5H94.9V75.9H88.6zM94.9 75.9H101.2V82.2H94.9zM101.2 82.2H107.6V88.5H101.2zM38.0 88.5H44.3V94.8H38.0zM101.2 88.5H107.6V94.8H101.2zM101.2 94.8H107.6V101.2H101.2zM101.2 101.2H107.6V107.5H101.2zM101.2 107.5H107.6V113.8H101.2zM94.9 120.1H101.2V126.4H94.9zM38.0 126.4H44.3V132.8H38.0zM50.6 139.1H57.0V145.4H50.6z"/>
<path fill="#b5e86e" d="M57.0 69.5H63.3V75.9H57.0zM75.9 69.5H82.3V75.9H75.9zM88.6 75.9H94.9V82.2H88.6zM44.3 82.2H50.6V88.5H44.3zM94.9 88.5H101.2V94.8H94.9zM38.0 94.8H44.3V101.2H38.0zM94.9 113.8H101.2V120.1H94.9zM57.0 139.1H63.3V145.4H57.0zM69.6 139.1H75.9V145.4H69.6z"/>
<path fill="#c7ea5e" d="M63.3 69.5H75.9V75.9H63.3zM50.6 75.9H57.0V82.2H50.6zM82.3 75.9H88.6V82.2H82.3zM88.6 82.2H94.9V88.5H88.6zM94.9 94.8H101.2V101.2H94.9zM94.9 101.2H101.2V107.5H94.9zM94.9 107.5H101.2V113.8H94.9zM38.0 120.1H44.3V126.4H38.0zM63.3 139.1H69.6V145.4H63.3z"/>
<path fill="#a2e57e" d="M82.3 69.5H88.6V75.9H82.3zM94.9 82.2H101.2V88.5H94.9zM88.6 126.4H94.9V132.8H88.6zM44.3 132.8H50.6V139.1H44.3zM82.3 132.8H88.6V139.1H82.3z"/>
<path fill="#ecee3e" d="M57.0 75.9H63.3V82.2H57.0zM75.9 75.9H82.3V82.2H75.9zM82.3 82.2H88.6V88.5H82.3zM44.3 88.5H50.6V94.8H44.3zM38.0 107.5H44.3V113.8H38.0zM44.3 126.4H50.6V132.8H44.3zM82.3 126.4H88.6V132.8H82.3zM75.9 132.8H82.3V139.1H75.9z"/>
<path fill="#f9ec32" d="M63.3 75.9H75.9V82.2H63.3zM50.6 82.2H57.0V88.5H50.6zM88.6 94.8H94.9V101.2H88.6zM88.6 113.8H94.9V120.1H88.6zM50.6 132.8H57.0V139.1H50.6z"/>
<path fill="#f3bd2f" d="M57.0 82.2H63.3V88.5H57.0zM44.3 120.1H50.6V126.4H44.3zM82.3 120.1H88.6V126.4H82.3zM63.3 132.8H69.6V139.1H63.3z"/>
<path fill="#ee9e2e" d="M63.3 82.2H69.6V88.5H63.3zM75.9 88.5H82.3V94.8H75.9zM44.3 107.5H50.6V113.8H44.3zM44.3 113.8H50.6V120.1H44.3zM82.3 113.8H88.6V120.1H82.3z"/>
<path fill="#f0ad2f" d="M69.6 82.2H75.9V88.5H69.6zM50.6 88.5H57.0V94.8H50.6zM82.3 94.8H88.6V101.2H82.3zM44.3 101.2H50.6V107.5H44.3zM50.6 126.4H57.0V132.8H50.6zM75.9 126.4H82.3V132.8H75.9z"/>
<path fill="#f5cd30" d="M75.9 82.2H82.3V88.5H75.9zM82.3 88.5H88.6V94.8H82.3zM44.3 94.8H50.6V101.2H44.3zM57.0 132.8H63.3V139.1H57.0zM69.6 132.8H75.9V139.1H69.6z"/>
<path fill="#e7631f" d="M57.0 88.5H63.3V94.8H57.0zM69.6 88.5H75.9V94.8H69.6zM50.6 94.8H57.0V101.2H50.6zM50.6 120.1H57.0V126.4H50.6zM75.9 120.1H82.3V126.4H75.9zM57.0 126.4H63.3V132.8H57.0zM69.6 126.4H75.9V132.8H69.6z"/>
<path fill="#e44d18" d="M63.3 88.5H69.6V94.8H63.3zM75.9 94.8H82.3V101.2H75.9zM63.3 126.4H69.6V132.8H63.3z"/>
<path fill="#daec4e" d="M88.6 88.5H94.9V94.8H88.6zM38.0 101.2H44.3V107.5H38.0zM38.0 113.8H44.3V120.1H38.0zM88.6 120.1H94.9V126.4H88.6z"/>
<path fill="#dc0f04" d="M57.0 94.8H63.3V101.2H57.0zM69.6 94.8H75.9V101.2H69.6zM50.6 107.5H57.0V113.8H50.6zM75.9 107.5H82.3V113.8H75.9zM57.0 120.1H63.3V126.4H57.0zM69.6 120.1H75.9V126.4H69.6z"/>
<path fill="#bd0c04" d="M63.3 94.8H69.6V101.2H63.3zM63.3 120.1H69.6V126.4H63.3z"/>
<path fill="#df220a" d="M50.6 101.2H57.0V107.5H50.6zM75.9 101.2H82.3V107.5H75.9zM50.6 113.8H57.0V120.1H50.6zM75.9 113.8H82.3V120.1H75.9z"/>
<path fill="#ae0a05" d="M57.0 101.2H63.3V107.5H57.0zM69.6 101.2H75.9V107.5H69.6zM57.0 113.8H63.3V120.1H57.0zM69.6 113.8H75.9V120.1H69.6z"/>
<path fill="#8f0705" d="M63.3 101.2H69.6V107.5H63.3zM63.3 113.8H69.6V120.1H63.3z"/>
<path fill="#ec8e2d" d="M82.3 101.2H88.6V107.5H82.3zM82.3 107.5H88.6V113.8H82.3z"/>
<path fill="#f7dd31" d="M88.6 101.2H94.9V107.5H88.6zM88.6 107.5H94.9V113.8H88.6z"/>
<path fill="#9f0805" d="M57.0 107.5H63.3V113.8H57.0zM69.6 107.5H75.9V113.8H69.6z"/>
<path fill="#800505" d="M63.3 107.5H69.6V113.8H63.3z"/>
</g>
<rect x="247.00" y="661.30" width="202.50" height="202.30" fill="#000000"/>
<g transform="translate(247.00 661.30)" shape-rendering="crispEdges">
<path fill="#000075" d="M113.9 19.0H120.2V25.3H113.9zM107.6 25.3H113.9V31.6H107.6zM158.2 44.3H164.5V50.6H158.2zM63.3 50.6H69.6V56.9H63.3zM38.0 132.8H44.3V139.1H38.0zM101.2 145.4H107.6V151.7H101.2zM113.9 164.4H120.2V170.7H113.9z"/>
<path fill="#0000aa" d="M120.2 19.0H139.2V25.3H120.2zM101.2 44.3H107.6V50.6H101.2zM69.6 50.6H94.9V56.9H69.6zM189.8 107.5H196.2V113.8H189.8zM189.8 113.8H196.2V120.1H189.8zM31.6 120.1H38.0V126.4H31.6zM189.8 120.1H196.2V126.4H189.8zM189.8 126.4H196.2V132.8H189.8zM75.9 132.8H82.3V139.1H75.9zM94.9 132.8H101.2V139.1H94.9zM50.6 139.1H69.6V145.4H50.6zM183.5 139.1H189.8V145.4H183.5zM126.6 170.7H132.9V177.0H126.6z"/>
<path fill="#00000b" d="M139.2 19.0H145.5V25.3H139.2zM151.9 31.6H158.2V37.9H151.9zM57.0 50.6H63.3V56.9H57.0zM44.3 56.9H50.6V63.2H44.3zM38.0 63.2H44.3V69.5H38.0zM189.8 101.2H196.2V107.5H189.8zM31.6 126.4H38.0V132.8H31.6zM189.8 132.8H196.2V139.1H189.8zM44.3 139.1H50.6V145.4H44.3zM69.6 139.1H75.9V145.4H69.6z"/>
<path fill="#0909ff" d="M113.9 25.3H120.2V31.6H113.9zM107.6 37.9H113.9V44.3H107.6zM158.2 50.6H164.5V56.9H158.2zM57.0 56.9H63.3V63.2H57.0zM75.9 56.9H94.9V63.2H75.9zM44.3 63.2H50.6V69.5H44.3zM38.0 75.9H44.3V82.2H38.0zM183.5 101.2H189.8V107.5H183.5zM38.0 126.4H44.3V132.8H38.0zM82.3 126.4H94.9V132.8H82.3zM69.6 132.8H75.9V139.1H69.6zM183.5 132.8H189.8V139.1H183.5zM101.2 139.1H107.6V145.4H101.2zM107.6 151.7H113.9V158.0H107.6zM151.9 164.4H158.2V170.7H151.9zM132.9 170.7H139.2V177.0H132.9z"/>
<path fill="#1010ff" d="M120.2 25.3H139.2V31.6H120.2zM151.9 44.3H158.2V50.6H151.9zM63.3 56.9H75.9V63.2H63.3zM94.9 56.9H101.2V63.2H94.9zM164.5 63.2H170.9V69.5H164.5zM177.2 88.5H183.5V94.8H177.2zM183.5 107.5H189.8V113.8H183.5zM38.0 120.1H44.3V126.4H38.0zM75.9 126.4H82.3V132.8H75.9zM183.5 126.4H189.8V132.8H183.5zM50.6 132.8H69.6V139.1H50.6zM120.2 164.4H126.6V170.7H120.2z"/>
<path fill="#0303ff" d="M139.2 25.3H145.5V31.6H139.2zM145.5 31.6H151.9V37.9H145.5zM94.9 50.6H101.2V56.9H94.9zM164.5 56.9H170.9V63.2H164.5zM170.9 69.5H177.2V75.9H170.9zM177.2 82.2H183.5V88.5H177.2zM31.6 94.8H38.0V101.2H31.6zM183.5 94.8H189.8V101.2H183.5zM31.6 101.2H38.0V107.5H31.6zM31.6 107.5H38.0V113.8H31.6zM44.3 132.8H50.6V139.1H44.3zM170.9 151.7H177.2V158.0H170.9zM164.5 158.0H170.9V164.4H164.5z"/>
<path fill="#000040" d="M145.5 25.3H151.9V31.6H145.5zM164.5 50.6H170.9V56.9H164.5zM170.9 63.2H177.2V69.5H170.9zM177.2 75.9H183.5V82.2H177.2zM31.6 82.2H38.0V88.5H31.6zM183.5 88.5H189.8V94.8H183.5zM107.6 158.0H113.9V164.4H107.6z"/>
<path fill="#0000df" d="M107.6 31.6H113.9V37.9H107.6zM151.9 37.9H158.2V44.3H151.9zM50.6 56.9H57.0V63.2H50.6zM38.0 69.5H44.3V75.9H38.0zM31.6 88.5H38.0V94.8H31.6zM31.6 113.8H38.0V120.1H31.6zM177.2 145.4H183.5V151.7H177.2zM139.2 170.7H145.5V177.0H139.2z"/>
<path fill="#1717ff" d="M113.9 31.6H120.2V37.9H113.9zM139.2 31.6H145.5V37.9H139.2zM145.5 37.9H151.9V44.3H145.5zM107.6 44.3H113.9V50.6H107.6zM101.2 50.6H107.6V56.9H101.2zM158.2 56.9H164.5V63.2H158.2zM50.6 63.2H57.0V69.5H50.6zM75.9 63.2H94.9V69.5H75.9zM44.3 69.5H50.6V75.9H44.3zM170.9 75.9H177.2V82.2H170.9zM38.0 82.2H44.3V88.5H38.0zM183.5 113.8H189.8V120.1H183.5zM88.6 120.1H94.9V126.4H88.6zM183.5 120.1H189.8V126.4H183.5zM44.3 126.4H50.6V132.8H44.3zM94.9 126.4H101.2V132.8H94.9zM113.9 158.0H120.2V164.4H113.9z"/>
<path fill="#1d1dff" d="M120.2 31.6H126.6V37.9H120.2zM132.9 31.6H139.2V37.9H132.9zM145.5 44.3H151.9V50.6H145.5zM151.9 50.6H158.2V56.9H151.9zM57.0 63.2H75.9V69.5H57.0zM94.9 63.2H101.2V69.5H94.9zM82.3 69.5H94.9V75.9H82.3zM88.6 75.9H94.9V82.2H88.6zM38.0 88.5H44.3V94.8H38.0zM177.2 94.8H183.5V101.2H177.2zM38.0 107.5H44.3V113.8H38.0zM38.0 113.8H44.3V120.1H38.0zM82.3 120.1H88.6V126.4H82.3zM94.9 120.1H101.2V126.4H94.9zM50.6 126.4H57.0V132.8H50.6zM69.6 126.4H75.9V132.8H69.6zM101.2 132.8H107.6V139.1H101.2zM177.2 139.1H183.5V145.4H177.2zM107.6 145.4H113.9V151.7H107.6z"/>
<path fill="#2424ff" d="M126.6 31.6H132.9V37.9H126.6zM113.9 37.9H120.2V44.3H113.9zM139.2 37.9H145.5V44.3H139.2zM101.2 56.9H107.6V63.2H101.2zM50.6 69.5H57.0V75.9H50.6zM69.6 69.5H82.3V75.9H69.6zM94.9 69.5H101.2V75.9H94.9zM164.5 69.5H170.9V75.9H164.5zM44.3 75.9H50.6V82.2H44.3zM82.3 75.9H88.6V82.2H82.3zM94.9 75.9H101.2V82.2H94.9zM88.6 82.2H94.9V88.5H88.6zM170.9 82.2H177.2V88.5H170.9zM38.0 94.8H44.3V101.2H38.0zM38.0 101.2H44.3V107.5H38.0zM177.2 101.2H183.5V107.5H177.2zM88.6 107.5H94.9V113.8H88.6zM82.3 113.8H94.9V120.1H82.3zM44.3 120.1H50.6V126.4H44.3zM75.9 120.1H82.3V126.4H75.9zM57.0 126.4H69.6V132.8H57.0zM177.2 132.8H183.5V139.1H177.2zM126.6 164.4H132.9V170.7H126.6z"/>
<path fill="#2a2aff" d="M120.2 37.9H126.6V44.3H120.2zM132.9 37.9H139.2V44.3H132.9zM113.9 44.3H120.2V50.6H113.9zM107.6 50.6H113.9V56.9H107.6zM151.9 56.9H158.2V63.2H151.9zM101.2 63.2H107.6V69.5H101.2zM158.2 63.2H164.5V69.5H158.2zM57.0 69.5H69.6V75.9H57.0zM50.6 75.9H57.0V82.2H50.6zM75.9 75.9H82.3V82.2H75.9zM44.3 82.2H50.6V88.5H44.3zM82.3 82.2H88.6V88.5H82.3zM94.9 82.2H101.2V88.5H94.9zM82.3 88.5H101.2V94.8H82.3zM88.6 94.8H101.2V101.2H88.6zM88.6 101.2H101.2V107.5H88.6zM82.3 107.5H88.6V113.8H82.3zM94.9 107.5H101.2V113.8H94.9zM177.2 107.5H183.5V113.8H177.2zM44.3 113.8H50.6V120.1H44.3zM75.9 113.8H82.3V120.1H75.9zM94.9 113.8H101.2V120.1H94.9zM177.2 113.8H183.5V120.1H177.2zM50.6 120.1H57.0V126.4H50.6zM69.6 120.1H75.9V126.4H69.6zM177.2 120.1H183.5V126.4H177.2zM101.2 126.4H107.6V132.8H101.2zM177.2 126.4H183.5V132.8H177.2zM107.6 139.1H113.9V145.4H107.6zM170.9 145.4H177.2V151.7H170.9zM113.9 151.7H120.2V158.0H113.9zM120.2 158.0H126.6V164.4H120.2z"/>
<path fill="#3131ff" d="M126.6 37.9H132.9V44.3H126.6zM139.2 44.3H145.5V50.6H139.2zM145.5 50.6H151.9V56.9H145.5zM107.6 56.9H113.9V63.2H107.6zM101.2 69.5H107.6V75.9H101.2zM57.0 75.9H75.9V82.2H57.0zM101.2 75.9H107.6V82.2H101.2zM164.5 75.9H170.9V82.2H164.5zM75.9 82.2H82.3V88.5H75.9zM44.3 88.5H50.6V94.8H44.3zM170.9 88.5H177.2V94.8H170.9zM82.3 94.8H88.6V101.2H82.3zM82.3 101.2H88.6V107.5H82.3zM44.3 107.5H50.6V113.8H44.3zM75.9 107.5H82.3V113.8H75.9zM57.0 120.1H69.6V126.4H57.0zM101.2 120.1H107.6V126.4H101.2zM164.5 151.7H170.9V158.0H164.5zM158.2 158.0H164.5V164.4H158.2zM132.9 164.4H139.2V170.7H132.9zM145.5 164.4H151.9V170.7H145.5z"/>
<path fill="#3838ff" d="M120.2 44.3H126.6V50.6H120.2zM132.9 44.3H139.2V50.6H132.9zM113.9 50.6H120.2V56.9H113.9zM158.2 69.5H164.5V75.9H158.2zM50.6 82.2H57.0V88.5H50.6zM69.6 82.2H75.9V88.5H69.6zM101.2 82.2H107.6V88.5H101.2zM75.9 88.5H82.3V94.8H75.9zM44.3 94.8H50.6V101.2H44.3zM75.9 94.8H82.3V101.2H75.9zM170.9 94.8H177.2V101.2H170.9zM44.3 101.2H50.6V107.5H44.3zM75.9 101.2H82.3V107.5H75.9zM50.6 113.8H75.9V120.1H50.6zM101.2 113.8H107.6V120.1H101.2zM107.6 132.8H113.9V139.1H107.6zM170.9 139.1H177.2V145.4H170.9zM139.2 164.4H145.5V170.7H139.2z"/>
<path fill="#3e3eff" d="M126.6 44.3H132.9V50.6H126.6zM139.2 50.6H145.5V56.9H139.2zM145.5 56.9H151.9V63.2H145.5zM107.6 63.2H113.9V69.5H107.6zM151.9 63.2H158.2V69.5H151.9zM57.0 82.2H69.6V88.5H57.0zM164.5 82.2H170.9V88.5H164.5zM50.6 88.5H57.0V94.8H50.6zM69.6 88.5H75.9V94.8H69.6zM101.2 88.5H107.6V94.8H101.2zM101.2 94.8H107.6V101.2H101.2zM101.2 101.2H107.6V107.5H101.2zM50.6 107.5H57.0V113.8H50.6zM69.6 107.5H75.9V113.8H69.6zM101.2 107.5H107.6V113.8H101.2zM113.9 145.4H120.2V151.7H113.9zM126.6 158.0H132.9V164.4H126.6z"/>
<path fill="#4545ff" d="M120.2 50.6H126.6V56.9H120.2zM132.9 50.6H139.2V56.9H132.9zM113.9 56.9H120.2V63.2H113.9zM107.6 69.5H113.9V75.9H107.6zM57.0 88.5H69.6V94.8H57.0zM50.6 94.8H57.0V101.2H50.6zM69.6 94.8H75.9V101.2H69.6zM50.6 101.2H57.0V107.5H50.6zM69.6 101.2H75.9V107.5H69.6zM170.9 101.2H177.2V107.5H170.9zM57.0 107.5H69.6V113.8H57.0zM107.6 126.4H113.9V132.8H107.6zM170.9 132.8H177.2V139.1H170.9zM120.2 151.7H126.6V158.0H120.2zM151.9 158.0H158.2V164.4H151.9z"/>
<path fill="#4c4cff" d="M126.6 50.6H132.9V56.9H126.6zM107.6 75.9H113.9V82.2H107.6zM158.2 75.9H164.5V82.2H158.2zM164.5 88.5H170.9V94.8H164.5zM57.0 94.8H69.6V101.2H57.0zM57.0 101.2H69.6V107.5H57.0zM170.9 107.5H177.2V113.8H170.9zM170.9 113.8H177.2V120.1H170.9zM170.9 120.1H177.2V126.4H170.9zM170.9 126.4H177.2V132.8H170.9zM113.9 139.1H120.2V145.4H113.9zM164.5 145.4H170.9V151.7H164.5z"/>
<path fill="#5959ff" d="M120.2 56.9H126.6V63.2H120.2zM132.9 56.9H139.2V63.2H132.9zM107.6 88.5H113.9V94.8H107.6zM107.6 113.8H113.9V120.1H107.6zM120.2 145.4H126.6V151.7H120.2zM126.6 151.7H132.9V158.0H126.6zM139.2 158.0H145.5V164.4H139.2z"/>
<path fill="#6060ff" d="M126.6 56.9H132.9V63.2H126.6zM113.9 69.5H120.2V75.9H113.9zM158.2 82.2H164.5V88.5H158.2zM107.6 94.8H113.9V101.2H107.6zM164.5 94.8H170.9V101.2H164.5zM107.6 101.2H113.9V107.5H107.6zM107.6 107.5H113.9V113.8H107.6zM113.9 132.8H120.2V139.1H113.9zM164.5 139.1H170.9V145.4H164.5z"/>
<path fill="#5252ff" d="M139.2 56.9H145.5V63.2H139.2zM113.9 63.2H120.2V69.5H113.9zM145.5 63.2H151.9V69.5H145.5zM151.9 69.5H158.2V75.9H151.9zM107.6 82.2H113.9V88.5H107.6zM107.6 120.1H113.9V126.4H107.6zM158.2 151.7H164.5V158.0H158.2zM132.9 158.0H139.2V164.4H132.9zM145.5 158.0H151.9V164.4H145.5z"/>
<path fill="#6666ff" d="M120.2 63.2H126.6V69.5H120.2zM139.2 63.2H145.5V69.5H139.2zM145.5 69.5H151.9V75.9H145.5zM151.9 75.9H158.2V82.2H151.9zM164.5 101.2H170.9V107.5H164.5zM151.9 151.7H158.2V158.0H151.9z"/>
<path fill="#7474ff" d="M126.6 63.2H139.2V69.5H126.6zM158.2 88.5H164.5V94.8H158.2zM164.5 107.5H170.9V113.8H164.5zM164.5 126.4H170.9V132.8H164.5zM120.2 139.1H126.6V145.4H120.2zM126.6 145.4H132.9V151.7H126.6zM145.5 151.7H151.9V158.0H145.5z"/>
<path fill="#7a7aff" d="M120.2 69.5H126.6V75.9H120.2zM113.9 82.2H120.2V88.5H113.9zM164.5 113.8H170.9V120.1H164.5zM113.9 120.1H120.2V126.4H113.9zM164.5 120.1H170.9V126.4H164.5zM139.2 151.7H145.5V158.0H139.2z"/>
<path fill="#8787ff" d="M126.6 69.5H139.2V75.9H126.6zM120.2 75.9H126.6V82.2H120.2zM145.5 75.9H151.9V82.2H145.5zM113.9 94.8H120.2V101.2H113.9zM158.2 94.8H164.5V101.2H158.2zM113.9 107.5H120.2V113.8H113.9zM113.9 113.8H120.2V120.1H113.9zM120.2 132.8H126.6V139.1H120.2zM151.9 145.4H158.2V151.7H151.9z"/>
<path fill="#8181ff" d="M139.2 69.5H145.5V75.9H139.2zM151.9 82.2H158.2V88.5H151.9zM113.9 88.5H120.2V94.8H113.9zM158.2 139.1H164.5V145.4H158.2z"/>
<path fill="#6d6dff" d="M113.9 75.9H120.2V82.2H113.9zM113.9 126.4H120.2V132.8H113.9zM164.5 132.8H170.9V139.1H164.5zM158.2 145.4H164.5V151.7H158.2zM132.9 151.7H139.2V158.0H132.9z"/>
<path fill="#a2a2ff" d="M126.6 75.9H139.2V82.2H126.6zM145.5 82.2H151.9V88.5H145.5zM158.2 107.5H164.5V113.8H158.2zM158.2 126.4H164.5V132.8H158.2zM151.9 139.1H158.2V145.4H151.9z"/>
<path fill="#9b9bff" d="M139.2 75.9H145.5V82.2H139.2zM120.2 82.2H126.6V88.5H120.2zM151.9 88.5H158.2V94.8H151.9zM158.2 101.2H164.5V107.5H158.2zM120.2 126.4H126.6V132.8H120.2zM139.2 145.4H145.5V151.7H139.2z"/>
<path fill="#b6b6ff" d="M126.6 82.2H132.9V88.5H126.6zM139.2 82.2H145.5V88.5H139.2zM120.2 94.8H126.6V101.2H120.2zM151.9 94.8H158.2V101.2H151.9zM120.2 113.8H126.6V120.1H120.2zM145.5 139.1H151.9V145.4H145.5z"/>
<path fill="#c3c3ff" d="M132.9 82.2H139.2V88.5H132.9z"/>
<path fill="#a9a9ff" d="M120.2 88.5H126.6V94.8H120.2zM158.2 113.8H164.5V120.1H158.2zM158.2 120.1H164.5V126.4H158.2z"/>
<path fill="#cacaff" d="M126.6 88.5H132.9V94.8H126.6zM151.9 101.2H158.2V107.5H151.9zM126.6 126.4H132.9V132.8H126.6z"/>
<path fill="#dedeff" d="M132.9 88.5H139.2V94.8H132.9zM126.6 94.8H132.9V101.2H126.6zM145.5 94.8H151.9V101.2H145.5zM151.9 113.8H158.2V120.1H151.9zM126.6 120.1H132.9V126.4H126.6zM139.2 132.8H145.5V139.1H139.2z"/>
<path fill="#d7d7ff" d="M139.2 88.5H145.5V94.8H139.2zM151.9 107.5H158.2V113.8H151.9zM151.9 120.1H158.2V126.4H151.9zM145.5 132.8H151.9V139.1H145.5z"/>
<path fill="#bdbdff" d="M145.5 88.5H151.9V94.8H145.5zM120.2 101.2H126.6V107.5H120.2zM120.2 107.5H126.6V113.8H120.2zM151.9 132.8H158.2V139.1H151.9zM139.2 139.1H145.5V145.4H139.2z"/>
<path fill="#f2f2ff" d="M132.9 94.8H145.5V101.2H132.9zM145.5 101.2H151.9V107.5H145.5z"/>
<path fill="#8e8eff" d="M113.9 101.2H120.2V107.5H113.9zM132.9 145.4H139.2V151.7H132.9z"/>
<path fill="#ebebff" d="M126.6 101.2H132.9V107.5H126.6zM126.6 107.5H132.9V113.8H126.6zM126.6 113.8H132.9V120.1H126.6zM132.9 126.4H139.2V132.8H132.9zM145.5 126.4H151.9V132.8H145.5z"/>
<path fill="#ffffff" d="M132.9 101.2H145.5V107.5H132.9zM132.9 107.5H151.9V113.8H132.9zM132.9 113.8H151.9V120.1H132.9zM132.9 120.1H151.9V126.4H132.9z"/>
<path fill="#afafff" d="M120.2 120.1H126.6V126.4H120.2zM126.6 132.8H132.9V139.1H126.6zM132.9 139.1H139.2V145.4H132.9z"/>
<path fill="#f8f8ff" d="M139.2 126.4H145.5V132.8H139.2z"/>
<path fill="#d1d1ff" d="M151.9 126.4H158.2V132.8H151.9zM132.9 132.8H139.2V139.1H132.9z"/>
<path fill="#9595ff" d="M158.2 132.8H164.5V139.1H158.2zM126.6 139.1H132.9V145.4H126.6zM145.5 145.4H151.9V151.7H145.5z"/>
</g>
<rect x="557.25" y="661.70" width="202.50" height="202.30" fill="#050584"/>
<g transform="translate(557.25 661.70)" shape-rendering="crispEdges">
<path fill="#050598" d="M57.0 12.6H69.6V19.0H57.0zM132.9 12.6H145.5V19.0H132.9zM44.3 19.0H50.6V25.3H44.3zM151.9 19.0H158.2V25.3H151.9zM38.0 25.3H44.3V31.6H38.0zM158.2 25.3H164.5V31.6H158.2zM31.6 31.6H38.0V37.9H31.6zM164.5 31.6H170.9V37.9H164.5zM25.3 37.9H31.6V44.3H25.3zM170.9 44.3H177.2V50.6H170.9zM19.0 50.6H25.3V56.9H19.0zM177.2 56.9H183.5V63.2H177.2zM12.7 63.2H19.0V69.5H12.7zM183.5 63.2H189.8V69.5H183.5zM12.7 69.5H19.0V75.9H12.7zM189.8 75.9H196.2V82.2H189.8zM6.3 82.2H12.7V88.5H6.3zM6.3 88.5H12.7V94.8H6.3zM196.2 88.5H202.5V94.8H196.2zM0.0 94.8H6.3V101.2H0.0zM0.0 101.2H6.3V107.5H0.0zM0.0 107.5H6.3V113.8H0.0zM0.0 120.1H6.3V126.4H0.0zM0.0 126.4H6.3V132.8H0.0zM6.3 139.1H12.7V145.4H6.3zM196.2 139.1H202.5V145.4H196.2zM12.7 145.4H19.0V151.7H12.7zM189.8 151.7H196.2V158.0H189.8zM31.6 164.4H38.0V170.7H31.6zM88.6 164.4H101.2V170.7H88.6zM183.5 164.4H189.8V170.7H183.5zM38.0 170.7H44.3V177.0H38.0zM75.9 170.7H88.6V177.0H75.9zM177.2 170.7H183.5V177.0H177.2zM50.6 177.0H69.6V183.3H50.6zM101.2 177.0H107.6V183.3H101.2zM170.9 177.0H177.2V183.3H170.9zM107.6 183.3H113.9V189.7H107.6zM113.9 189.7H126.6V196.0H113.9zM158.2 189.7H164.5V196.0H158.2zM126.6 196.0H139.2V202.3H126.6zM145.5 196.0H158.2V202.3H145.5z"/>
<path fill="#0505ad" d="M69.6 12.6H132.9V19.0H69.6zM50.6 19.0H57.0V25.3H50.6zM145.5 19.0H151.9V25.3H145.5zM44.3 25.3H50.6V31.6H44.3zM151.9 25.3H158.2V31.6H151.9zM158.2 31.6H164.5V37.9H158.2zM31.6 37.9H38.0V44.3H31.6zM164.5 37.9H170.9V44.3H164.5zM25.3 44.3H31.6V50.6H25.3zM170.9 50.6H177.2V56.9H170.9zM19.0 56.9H25.3V63.2H19.0zM183.5 69.5H189.8V75.9H183.5zM12.7 75.9H19.0V82.2H12.7zM189.8 82.2H196.2V88.5H189.8zM6.3 94.8H12.7V101.2H6.3zM196.2 94.8H202.5V101.2H196.2zM196.2 101.2H202.5V107.5H196.2zM196.2 107.5H202.5V113.8H196.2zM0.0 113.8H6.3V120.1H0.0zM196.2 113.8H202.5V120.1H196.2zM196.2 120.1H202.5V126.4H196.2zM6.3 126.4H12.7V132.8H6.3zM196.2 126.4H202.5V132.8H196.2zM6.3 132.8H12.7V139.1H6.3zM196.2 132.8H202.5V139.1H196.2zM189.8 145.4H196.2V151.7H189.8zM19.0 151.7H25.3V158.0H19.0zM25.3 158.0H31.6V164.4H25.3zM88.6 158.0H101.2V164.4H88.6zM183.5 158.0H189.8V164.4H183.5zM82.3 164.4H88.6V170.7H82.3zM177.2 164.4H183.5V170.7H177.2zM44.3 170.7H50.6V177.0H44.3zM69.6 170.7H75.9V177.0H69.6zM101.2 170.7H107.6V177.0H101.2zM107.6 177.0H113.9V183.3H107.6zM113.9 183.3H120.2V189.7H113.9zM164.5 183.3H170.9V189.7H164.5zM126.6 189.7H132.9V196.0H126.6zM151.9 189.7H158.2V196.0H151.9zM139.2 196.0H145.5V202.3H139.2z"/>
<path fill="#0404c1" d="M57.0 19.0H63.3V25.3H57.0zM139.2 19.0H145.5V25.3H139.2zM38.0 31.6H44.3V37.9H38.0zM164.5 44.3H170.9V50.6H164.5zM25.3 50.6H31.6V56.9H25.3zM19.0 63.2H25.3V69.5H19.0zM177.2 63.2H183.5V69.5H177.2zM183.5 75.9H189.8V82.2H183.5zM12.7 82.2H19.0V88.5H12.7zM189.8 88.5H196.2V94.8H189.8zM189.8 94.8H196.2V101.2H189.8zM6.3 101.2H12.7V107.5H6.3zM6.3 107.5H12.7V113.8H6.3zM6.3 113.8H12.7V120.1H6.3zM6.3 120.1H12.7V126.4H6.3zM12.7 139.1H19.0V145.4H12.7zM189.8 139.1H196.2V145.4H189.8zM19.0 145.4H25.3V151.7H19.0zM88.6 151.7H101.2V158.0H88.6zM183.5 151.7H189.8V158.0H183.5zM82.3 158.0H88.6V164.4H82.3zM38.0 164.4H44.3V170.7H38.0zM75.9 164.4H82.3V170.7H75.9zM101.2 164.4H107.6V170.7H101.2zM50.6 170.7H69.6V177.0H50.6zM170.9 170.7H177.2V177.0H170.9zM158.2 183.3H164.5V189.7H158.2zM132.9 189.7H151.9V196.0H132.9z"/>
<path fill="#0404d6" d="M63.3 19.0H69.6V25.3H63.3zM126.6 19.0H139.2V25.3H126.6zM50.6 25.3H57.0V31.6H50.6zM145.5 25.3H151.9V31.6H145.5zM151.9 31.6H158.2V37.9H151.9zM158.2 37.9H164.5V44.3H158.2zM31.6 44.3H38.0V50.6H31.6zM25.3 56.9H31.6V63.2H25.3zM170.9 56.9H177.2V63.2H170.9zM19.0 69.5H25.3V75.9H19.0zM177.2 69.5H183.5V75.9H177.2zM183.5 82.2H189.8V88.5H183.5zM12.7 88.5H19.0V94.8H12.7zM189.8 101.2H196.2V107.5H189.8zM189.8 126.4H196.2V132.8H189.8zM12.7 132.8H19.0V139.1H12.7zM189.8 132.8H196.2V139.1H189.8zM183.5 145.4H189.8V151.7H183.5zM25.3 151.7H31.6V158.0H25.3zM31.6 158.0H38.0V164.4H31.6zM101.2 158.0H107.6V164.4H101.2zM177.2 158.0H183.5V164.4H177.2zM107.6 170.7H113.9V177.0H107.6zM113.9 177.0H120.2V183.3H113.9zM164.5 177.0H170.9V183.3H164.5zM120.2 183.3H126.6V189.7H120.2z"/>
<path fill="#0404ea" d="M69.6 19.0H82.3V25.3H69.6zM113.9 19.0H126.6V25.3H113.9zM44.3 31.6H50.6V37.9H44.3zM38.0 37.9H44.3V44.3H38.0zM164.5 50.6H170.9V56.9H164.5zM19.0 75.9H25.3V82.2H19.0zM12.7 94.8H19.0V101.2H12.7zM189.8 107.5H196.2V113.8H189.8zM189.8 113.8H196.2V120.1H189.8zM189.8 120.1H196.2V126.4H189.8zM88.6 145.4H101.2V151.7H88.6zM82.3 151.7H88.6V158.0H82.3zM44.3 164.4H50.6V170.7H44.3zM69.6 164.4H75.9V170.7H69.6zM170.9 164.4H177.2V170.7H170.9zM126.6 183.3H132.9V189.7H126.6zM151.9 183.3H158.2V189.7H151.9z"/>
<path fill="#0a12f0" d="M82.3 19.0H113.9V25.3H82.3zM57.0 25.3H63.3V31.6H57.0zM139.2 25.3H145.5V31.6H139.2zM158.2 44.3H164.5V50.6H158.2zM31.6 50.6H38.0V56.9H31.6zM25.3 63.2H31.6V69.5H25.3zM170.9 63.2H177.2V69.5H170.9zM177.2 75.9H183.5V82.2H177.2zM183.5 88.5H189.8V94.8H183.5zM12.7 101.2H19.0V107.5H12.7zM12.7 126.4H19.0V132.8H12.7zM19.0 139.1H25.3V145.4H19.0zM183.5 139.1H189.8V145.4H183.5zM25.3 145.4H31.6V151.7H25.3zM101.2 151.7H107.6V158.0H101.2zM177.2 151.7H183.5V158.0H177.2zM38.0 158.0H44.3V164.4H38.0zM75.9 158.0H82.3V164.4H75.9zM50.6 164.4H69.6V170.7H50.6zM107.6 164.4H113.9V170.7H107.6zM164.5 170.7H170.9V177.0H164.5zM158.2 177.0H164.5V183.3H158.2zM145.5 183.3H151.9V189.7H145.5z"/>
<path fill="#1b38ee" d="M63.3 25.3H69.6V31.6H63.3zM50.6 31.6H57.0V37.9H50.6zM44.3 37.9H50.6V44.3H44.3zM38.0 44.3H44.3V50.6H38.0zM158.2 50.6H164.5V56.9H158.2zM31.6 56.9H38.0V63.2H31.6zM25.3 69.5H31.6V75.9H25.3zM170.9 69.5H177.2V75.9H170.9zM177.2 82.2H183.5V88.5H177.2zM19.0 88.5H25.3V94.8H19.0zM183.5 101.2H189.8V107.5H183.5zM183.5 126.4H189.8V132.8H183.5zM19.0 132.8H25.3V139.1H19.0zM88.6 139.1H94.9V145.4H88.6zM82.3 145.4H88.6V151.7H82.3zM101.2 145.4H107.6V151.7H101.2zM75.9 151.7H82.3V158.0H75.9zM44.3 158.0H50.6V164.4H44.3zM69.6 158.0H75.9V164.4H69.6zM107.6 158.0H113.9V164.4H107.6zM170.9 158.0H177.2V164.4H170.9z"/>
<path fill="#244bee" d="M69.6 25.3H75.9V31.6H69.6zM126.6 25.3H132.9V31.6H126.6zM183.5 107.5H189.8V113.8H183.5zM183.5 113.8H189.8V120.1H183.5zM183.5 120.1H189.8V126.4H183.5zM25.3 139.1H31.6V145.4H25.3zM177.2 145.4H183.5V151.7H177.2zM164.5 164.4H170.9V170.7H164.5zM126.6 177.0H132.9V183.3H126.6zM151.9 177.0H158.2V183.3H151.9z"/>
<path fill="#2d5eed" d="M75.9 25.3H82.3V31.6H75.9zM113.9 25.3H126.6V31.6H113.9zM57.0 31.6H63.3V37.9H57.0zM139.2 31.6H145.5V37.9H139.2zM145.5 37.9H151.9V44.3H145.5zM151.9 44.3H158.2V50.6H151.9zM38.0 50.6H44.3V56.9H38.0zM31.6 63.2H38.0V69.5H31.6zM164.5 63.2H170.9V69.5H164.5zM25.3 75.9H31.6V82.2H25.3zM170.9 75.9H177.2V82.2H170.9zM177.2 88.5H183.5V94.8H177.2zM19.0 94.8H25.3V101.2H19.0zM19.0 126.4H25.3V132.8H19.0zM94.9 132.8H101.2V139.1H94.9zM101.2 139.1H107.6V145.4H101.2zM31.6 145.4H38.0V151.7H31.6zM38.0 151.7H44.3V158.0H38.0zM50.6 158.0H57.0V164.4H50.6zM63.3 158.0H69.6V164.4H63.3zM113.9 164.4H120.2V170.7H113.9zM158.2 170.7H164.5V177.0H158.2z"/>
<path fill="#3571ed" d="M82.3 25.3H113.9V31.6H82.3zM158.2 56.9H164.5V63.2H158.2zM19.0 101.2H25.3V107.5H19.0zM19.0 120.1H25.3V126.4H19.0zM82.3 139.1H88.6V145.4H82.3zM177.2 139.1H183.5V145.4H177.2zM107.6 151.7H113.9V158.0H107.6zM170.9 151.7H177.2V158.0H170.9zM57.0 158.0H63.3V164.4H57.0zM120.2 170.7H126.6V177.0H120.2zM132.9 177.0H151.9V183.3H132.9z"/>
<path fill="#1325ef" d="M132.9 25.3H139.2V31.6H132.9zM145.5 31.6H151.9V37.9H145.5zM151.9 37.9H158.2V44.3H151.9zM164.5 56.9H170.9V63.2H164.5zM19.0 82.2H25.3V88.5H19.0zM183.5 94.8H189.8V101.2H183.5zM12.7 107.5H19.0V113.8H12.7zM12.7 113.8H19.0V120.1H12.7zM12.7 120.1H19.0V126.4H12.7zM183.5 132.8H189.8V139.1H183.5zM94.9 139.1H101.2V145.4H94.9zM31.6 151.7H38.0V158.0H31.6zM113.9 170.7H120.2V177.0H113.9zM120.2 177.0H126.6V183.3H120.2zM132.9 183.3H145.5V189.7H132.9z"/>
<path fill="#4796ed" d="M63.3 31.6H69.6V37.9H63.3zM38.0 56.9H44.3V63.2H38.0zM170.9 82.2H177.2V88.5H170.9zM177.2 101.2H183.5V107.5H177.2zM101.2 132.8H107.6V139.1H101.2zM177.2 132.8H183.5V139.1H177.2zM107.6 145.4H113.9V151.7H107.6zM113.9 158.0H120.2V164.4H113.9zM164.5 158.0H170.9V164.4H164.5zM151.9 170.7H158.2V177.0H151.9z"/>
<path fill="#59b9ee" d="M69.6 31.6H75.9V37.9H69.6zM120.2 31.6H126.6V37.9H120.2zM57.0 37.9H63.3V44.3H57.0zM44.3 50.6H50.6V56.9H44.3zM151.9 56.9H158.2V63.2H151.9zM38.0 63.2H44.3V69.5H38.0zM31.6 75.9H38.0V82.2H31.6zM164.5 75.9H170.9V82.2H164.5zM170.9 88.5H177.2V94.8H170.9zM177.2 113.8H183.5V120.1H177.2zM177.2 120.1H183.5V126.4H177.2zM25.3 126.4H31.6V132.8H25.3zM82.3 132.8H88.6V139.1H82.3zM75.9 139.1H82.3V145.4H75.9zM69.6 145.4H75.9V151.7H69.6zM57.0 151.7H63.3V158.0H57.0zM120.2 164.4H126.6V170.7H120.2z"/>
<path fill="#62cbef" d="M75.9 31.6H82.3V37.9H75.9zM113.9 31.6H120.2V37.9H113.9zM132.9 37.9H139.2V44.3H132.9zM50.6 44.3H57.0V50.6H50.6zM145.5 50.6H151.9V56.9H145.5zM25.3 94.8H31.6V101.2H25.3zM88.6 126.4H94.9V132.8H88.6zM101.2 126.4H107.6V132.8H101.2zM107.6 139.1H113.9V145.4H107.6zM113.9 151.7H120.2V158.0H113.9zM164.5 151.7H170.9V158.0H164.5zM132.9 170.7H139.2V177.0H132.9zM145.5 170.7H151.9V177.0H145.5z"/>
<path fill="#6bddf0" d="M82.3 31.6H88.6V37.9H82.3zM107.6 31.6H113.9V37.9H107.6zM139.2 44.3H145.5V50.6H139.2zM44.3 56.9H50.6V63.2H44.3zM38.0 69.5H44.3V75.9H38.0zM158.2 69.5H164.5V75.9H158.2zM31.6 82.2H38.0V88.5H31.6zM25.3 101.2H31.6V107.5H25.3zM25.3 120.1H31.6V126.4H25.3zM31.6 132.8H38.0V139.1H31.6zM170.9 139.1H177.2V145.4H170.9zM44.3 145.4H50.6V151.7H44.3zM139.2 170.7H145.5V177.0H139.2z"/>
<path fill="#72e6e9" d="M88.6 31.6H107.6V37.9H88.6zM63.3 37.9H69.6V44.3H63.3zM151.9 63.2H158.2V69.5H151.9zM164.5 82.2H170.9V88.5H164.5zM170.9 94.8H177.2V101.2H170.9zM25.3 107.5H31.6V113.8H25.3zM25.3 113.8H31.6V120.1H25.3zM94.9 120.1H101.2V126.4H94.9zM38.0 139.1H44.3V145.4H38.0zM63.3 145.4H69.6V151.7H63.3zM120.2 158.0H126.6V164.4H120.2zM158.2 158.0H164.5V164.4H158.2zM126.6 164.4H132.9V170.7H126.6zM151.9 164.4H158.2V170.7H151.9z"/>
<path fill="#50a8ed" d="M126.6 31.6H132.9V37.9H126.6zM139.2 37.9H145.5V44.3H139.2zM145.5 44.3H151.9V50.6H145.5zM158.2 63.2H164.5V69.5H158.2zM25.3 88.5H31.6V94.8H25.3zM177.2 107.5H183.5V113.8H177.2zM94.9 126.4H101.2V132.8H94.9zM177.2 126.4H183.5V132.8H177.2zM31.6 139.1H38.0V145.4H31.6zM38.0 145.4H44.3V151.7H38.0zM170.9 145.4H177.2V151.7H170.9zM50.6 151.7H57.0V158.0H50.6zM63.3 151.7H69.6V158.0H63.3zM158.2 164.4H164.5V170.7H158.2zM126.6 170.7H132.9V177.0H126.6z"/>
<path fill="#3e84ec" d="M132.9 31.6H139.2V37.9H132.9zM50.6 37.9H57.0V44.3H50.6zM44.3 44.3H50.6V50.6H44.3zM151.9 50.6H158.2V56.9H151.9zM31.6 69.5H38.0V75.9H31.6zM164.5 69.5H170.9V75.9H164.5zM25.3 82.2H31.6V88.5H25.3zM177.2 94.8H183.5V101.2H177.2zM19.0 107.5H25.3V113.8H19.0zM19.0 113.8H25.3V120.1H19.0zM25.3 132.8H31.6V139.1H25.3zM88.6 132.8H94.9V139.1H88.6zM75.9 145.4H82.3V151.7H75.9zM44.3 151.7H50.6V158.0H44.3zM69.6 151.7H75.9V158.0H69.6z"/>
<path fill="#7de4bc" d="M69.6 37.9H75.9V44.3H69.6zM145.5 63.2H151.9V69.5H145.5zM151.9 69.5H158.2V75.9H151.9zM164.5 88.5H170.9V94.8H164.5zM170.9 113.8H177.2V120.1H170.9zM88.6 120.1H94.9V126.4H88.6zM170.9 120.1H177.2V126.4H170.9zM82.3 126.4H88.6V132.8H82.3zM107.6 126.4H113.9V132.8H107.6zM44.3 139.1H50.6V145.4H44.3zM132.9 164.4H145.5V170.7H132.9z"/>
<path fill="#85e29e" d="M75.9 37.9H82.3V44.3H75.9zM63.3 44.3H69.6V50.6H63.3zM126.6 44.3H132.9V50.6H126.6zM57.0 50.6H63.3V56.9H57.0zM132.9 50.6H139.2V56.9H132.9zM38.0 82.2H44.3V88.5H38.0zM158.2 82.2H164.5V88.5H158.2zM164.5 94.8H170.9V101.2H164.5zM31.6 101.2H38.0V107.5H31.6zM94.9 113.8H101.2V120.1H94.9zM31.6 120.1H38.0V126.4H31.6zM63.3 139.1H69.6V145.4H63.3zM113.9 139.1H120.2V145.4H113.9zM164.5 139.1H170.9V145.4H164.5zM126.6 158.0H132.9V164.4H126.6z"/>
<path fill="#90e38e" d="M82.3 37.9H88.6V44.3H82.3zM107.6 37.9H113.9V44.3H107.6zM50.6 63.2H57.0V69.5H50.6zM139.2 63.2H145.5V69.5H139.2zM145.5 69.5H151.9V75.9H145.5zM151.9 75.9H158.2V82.2H151.9zM31.6 107.5H38.0V113.8H31.6zM31.6 113.8H38.0V120.1H31.6zM107.6 120.1H113.9V126.4H107.6zM50.6 139.1H63.3V145.4H50.6z"/>
<path fill="#a2e57e" d="M88.6 37.9H107.6V44.3H88.6zM120.2 44.3H126.6V50.6H120.2zM132.9 56.9H139.2V63.2H132.9zM44.3 75.9H50.6V82.2H44.3zM164.5 101.2H170.9V107.5H164.5zM88.6 113.8H94.9V120.1H88.6zM101.2 113.8H107.6V120.1H101.2zM38.0 126.4H44.3V132.8H38.0zM69.6 132.8H75.9V139.1H69.6zM164.5 132.8H170.9V139.1H164.5zM132.9 158.0H139.2V164.4H132.9zM145.5 158.0H151.9V164.4H145.5z"/>
<path fill="#81e3ad" d="M113.9 37.9H120.2V44.3H113.9zM50.6 56.9H57.0V63.2H50.6zM139.2 56.9H145.5V63.2H139.2zM44.3 69.5H50.6V75.9H44.3zM31.6 94.8H38.0V101.2H31.6zM38.0 132.8H44.3V139.1H38.0zM120.2 151.7H126.6V158.0H120.2zM158.2 151.7H164.5V158.0H158.2zM151.9 158.0H158.2V164.4H151.9z"/>
<path fill="#7ae4cb" d="M120.2 37.9H126.6V44.3H120.2zM132.9 44.3H139.2V50.6H132.9zM139.2 50.6H145.5V56.9H139.2zM38.0 75.9H44.3V82.2H38.0zM158.2 75.9H164.5V82.2H158.2zM31.6 88.5H38.0V94.8H31.6zM170.9 107.5H177.2V113.8H170.9zM101.2 120.1H107.6V126.4H101.2zM31.6 126.4H38.0V132.8H31.6zM170.9 126.4H177.2V132.8H170.9zM75.9 132.8H82.3V139.1H75.9zM69.6 139.1H75.9V145.4H69.6zM57.0 145.4H63.3V151.7H57.0zM164.5 145.4H170.9V151.7H164.5zM145.5 164.4H151.9V170.7H145.5z"/>
<path fill="#76e5da" d="M126.6 37.9H132.9V44.3H126.6zM57.0 44.3H63.3V50.6H57.0zM50.6 50.6H57.0V56.9H50.6zM145.5 56.9H151.9V63.2H145.5zM44.3 63.2H50.6V69.5H44.3zM170.9 101.2H177.2V107.5H170.9zM107.6 132.8H113.9V139.1H107.6zM170.9 132.8H177.2V139.1H170.9zM50.6 145.4H57.0V151.7H50.6zM113.9 145.4H120.2V151.7H113.9z"/>
<path fill="#b5e86e" d="M69.6 44.3H75.9V50.6H69.6zM126.6 50.6H132.9V56.9H126.6zM57.0 56.9H63.3V63.2H57.0zM50.6 69.5H57.0V75.9H50.6zM139.2 69.5H145.5V75.9H139.2zM38.0 88.5H44.3V94.8H38.0zM158.2 88.5H164.5V94.8H158.2zM82.3 120.1H88.6V126.4H82.3zM75.9 126.4H82.3V132.8H75.9zM44.3 132.8H50.6V139.1H44.3zM113.9 132.8H120.2V139.1H113.9zM120.2 145.4H126.6V151.7H120.2zM158.2 145.4H164.5V151.7H158.2zM151.9 151.7H158.2V158.0H151.9zM139.2 158.0H145.5V164.4H139.2z"/>
<path fill="#daec4e" d="M75.9 44.3H82.3V50.6H75.9zM126.6 56.9H132.9V63.2H126.6zM57.0 63.2H63.3V69.5H57.0zM44.3 82.2H50.6V88.5H44.3zM38.0 94.8H44.3V101.2H38.0zM107.6 113.8H113.9V120.1H107.6zM38.0 120.1H44.3V126.4H38.0zM113.9 126.4H120.2V132.8H113.9zM50.6 132.8H57.0V139.1H50.6zM63.3 132.8H69.6V139.1H63.3z"/>
<path fill="#f9ec32" d="M82.3 44.3H88.6V50.6H82.3zM107.6 44.3H113.9V50.6H107.6zM69.6 50.6H75.9V56.9H69.6zM63.3 56.9H69.6V63.2H63.3zM126.6 63.2H132.9V69.5H126.6zM57.0 69.5H63.3V75.9H57.0zM145.5 82.2H151.9V88.5H145.5zM151.9 88.5H158.2V94.8H151.9zM38.0 101.2H44.3V107.5H38.0zM38.0 107.5H44.3V113.8H38.0zM101.2 107.5H107.6V113.8H101.2zM38.0 113.8H44.3V120.1H38.0zM113.9 120.1H120.2V126.4H113.9zM151.9 145.4H158.2V151.7H151.9zM139.2 151.7H145.5V158.0H139.2z"/>
<path fill="#f5cd30" d="M88.6 44.3H101.2V50.6H88.6zM113.9 50.6H120.2V56.9H113.9zM120.2 56.9H126.6V63.2H120.2zM63.3 63.2H69.6V69.5H63.3zM126.6 69.5H132.9V75.9H126.6zM132.9 75.9H139.2V82.2H132.9zM50.6 82.2H57.0V88.5H50.6zM113.9 113.8H120.2V120.1H113.9zM75.9 120.1H82.3V126.4H75.9zM50.6 126.4H57.0V132.8H50.6z"/>
<path fill="#f7dd31" d="M101.2 44.3H107.6V50.6H101.2zM44.3 88.5H50.6V94.8H44.3zM94.9 101.2H101.2V107.5H94.9zM158.2 101.2H164.5V107.5H158.2zM82.3 113.8H88.6V120.1H82.3zM69.6 126.4H75.9V132.8H69.6zM158.2 132.8H164.5V139.1H158.2zM126.6 145.4H132.9V151.7H126.6z"/>
<path fill="#c7ea5e" d="M113.9 44.3H120.2V50.6H113.9zM63.3 50.6H69.6V56.9H63.3zM132.9 63.2H139.2V69.5H132.9zM145.5 75.9H151.9V82.2H145.5zM151.9 82.2H158.2V88.5H151.9zM94.9 107.5H101.2V113.8H94.9zM164.5 107.5H170.9V113.8H164.5zM164.5 113.8H170.9V120.1H164.5zM164.5 120.1H170.9V126.4H164.5zM164.5 126.4H170.9V132.8H164.5zM126.6 151.7H132.9V158.0H126.6z"/>
<path fill="#f3bd2f" d="M75.9 50.6H82.3V56.9H75.9zM120.2 63.2H126.6V69.5H120.2zM57.0 75.9H63.3V82.2H57.0zM139.2 82.2H145.5V88.5H139.2zM88.6 101.2H94.9V107.5H88.6zM158.2 107.5H164.5V113.8H158.2zM44.3 120.1H50.6V126.4H44.3zM63.3 126.4H69.6V132.8H63.3zM158.2 126.4H164.5V132.8H158.2zM120.2 132.8H126.6V139.1H120.2zM145.5 145.4H151.9V151.7H145.5z"/>
<path fill="#ec8e2d" d="M82.3 50.6H88.6V56.9H82.3zM69.6 63.2H75.9V69.5H69.6zM126.6 75.9H132.9V82.2H126.6zM57.0 82.2H63.3V88.5H57.0zM132.9 82.2H139.2V88.5H132.9zM50.6 88.5H57.0V94.8H50.6zM139.2 88.5H145.5V94.8H139.2zM151.9 101.2H158.2V107.5H151.9zM44.3 107.5H50.6V113.8H44.3zM113.9 107.5H120.2V113.8H113.9zM75.9 113.8H82.3V120.1H75.9zM50.6 120.1H57.0V126.4H50.6zM69.6 120.1H75.9V126.4H69.6z"/>
<path fill="#e97826" d="M88.6 50.6H94.9V56.9H88.6zM101.2 50.6H107.6V56.9H101.2zM75.9 56.9H82.3V63.2H75.9zM113.9 63.2H120.2V69.5H113.9zM63.3 75.9H69.6V82.2H63.3zM88.6 94.8H94.9V101.2H88.6zM101.2 94.8H107.6V101.2H101.2zM82.3 101.2H88.6V107.5H82.3zM120.2 120.1H126.6V126.4H120.2zM151.9 132.8H158.2V139.1H151.9zM145.5 139.1H151.9V145.4H145.5z"/>
<path fill="#e7631f" d="M94.9 50.6H101.2V56.9H94.9zM69.6 69.5H75.9V75.9H69.6zM120.2 75.9H126.6V82.2H120.2zM94.9 88.5H101.2V94.8H94.9zM132.9 88.5H139.2V94.8H132.9zM145.5 94.8H151.9V101.2H145.5zM107.6 101.2H113.9V107.5H107.6zM120.2 113.8H126.6V120.1H120.2zM57.0 120.1H63.3V126.4H57.0zM126.6 132.8H132.9V139.1H126.6zM132.9 139.1H139.2V145.4H132.9z"/>
<path fill="#ee9e2e" d="M107.6 50.6H113.9V56.9H107.6zM113.9 56.9H120.2V63.2H113.9zM120.2 69.5H126.6V75.9H120.2zM94.9 94.8H101.2V101.2H94.9zM44.3 101.2H50.6V107.5H44.3zM44.3 113.8H50.6V120.1H44.3zM120.2 126.4H126.6V132.8H120.2zM126.6 139.1H132.9V145.4H126.6zM139.2 145.4H145.5V151.7H139.2z"/>
<path fill="#ecee3e" d="M120.2 50.6H126.6V56.9H120.2zM132.9 69.5H139.2V75.9H132.9zM50.6 75.9H57.0V82.2H50.6zM139.2 75.9H145.5V82.2H139.2zM158.2 94.8H164.5V101.2H158.2zM88.6 107.5H94.9V113.8H88.6zM44.3 126.4H50.6V132.8H44.3zM57.0 132.8H63.3V139.1H57.0zM120.2 139.1H126.6V145.4H120.2zM158.2 139.1H164.5V145.4H158.2zM132.9 151.7H139.2V158.0H132.9zM145.5 151.7H151.9V158.0H145.5z"/>
<path fill="#f0ad2f" d="M69.6 56.9H75.9V63.2H69.6zM63.3 69.5H69.6V75.9H63.3zM145.5 88.5H151.9V94.8H145.5zM44.3 94.8H50.6V101.2H44.3zM151.9 94.8H158.2V101.2H151.9zM101.2 101.2H107.6V107.5H101.2zM82.3 107.5H88.6V113.8H82.3zM107.6 107.5H113.9V113.8H107.6zM158.2 113.8H164.5V120.1H158.2zM158.2 120.1H164.5V126.4H158.2zM57.0 126.4H63.3V132.8H57.0zM151.9 139.1H158.2V145.4H151.9zM132.9 145.4H139.2V151.7H132.9z"/>
<path fill="#e23811" d="M82.3 56.9H88.6V63.2H82.3zM75.9 63.2H82.3V69.5H75.9zM113.9 75.9H120.2V82.2H113.9zM63.3 82.2H69.6V88.5H63.3zM139.2 94.8H145.5V101.2H139.2zM151.9 113.8H158.2V120.1H151.9zM151.9 120.1H158.2V126.4H151.9z"/>
<path fill="#dc0f04" d="M88.6 56.9H94.9V63.2H88.6zM107.6 69.5H113.9V75.9H107.6zM107.6 75.9H113.9V82.2H107.6zM94.9 82.2H101.2V88.5H94.9zM107.6 82.2H113.9V88.5H107.6zM120.2 82.2H126.6V88.5H120.2zM63.3 88.5H69.6V94.8H63.3zM107.6 88.5H113.9V94.8H107.6zM126.6 88.5H132.9V94.8H126.6zM57.0 94.8H63.3V101.2H57.0zM107.6 94.8H113.9V101.2H107.6zM126.6 94.8H132.9V101.2H126.6zM126.6 101.2H132.9V107.5H126.6zM57.0 113.8H63.3V120.1H57.0zM132.9 132.8H139.2V139.1H132.9z"/>
<path fill="#cc0d04" d="M94.9 56.9H101.2V63.2H94.9zM82.3 63.2H88.6V69.5H82.3zM75.9 75.9H82.3V82.2H75.9zM88.6 82.2H94.9V88.5H88.6zM113.9 82.2H120.2V88.5H113.9zM69.6 107.5H75.9V113.8H69.6zM126.6 107.5H132.9V113.8H126.6zM63.3 113.8H69.6V120.1H63.3zM126.6 120.1H132.9V126.4H126.6zM139.2 132.8H145.5V139.1H139.2z"/>
<path fill="#df220a" d="M101.2 56.9H107.6V63.2H101.2zM107.6 63.2H113.9V69.5H107.6zM75.9 69.5H82.3V75.9H75.9zM69.6 75.9H75.9V82.2H69.6zM101.2 82.2H107.6V88.5H101.2zM88.6 88.5H94.9V94.8H88.6zM82.3 94.8H88.6V101.2H82.3zM132.9 94.8H139.2V101.2H132.9zM50.6 101.2H57.0V107.5H50.6zM75.9 101.2H82.3V107.5H75.9zM113.9 101.2H126.6V107.5H113.9zM145.5 101.2H151.9V107.5H145.5zM50.6 107.5H57.0V113.8H50.6zM69.6 113.8H75.9V120.1H69.6zM126.6 126.4H132.9V132.8H126.6zM145.5 132.8H151.9V139.1H145.5z"/>
<path fill="#e44d18" d="M107.6 56.9H113.9V63.2H107.6zM113.9 69.5H120.2V75.9H113.9zM126.6 82.2H132.9V88.5H126.6zM57.0 88.5H63.3V94.8H57.0zM101.2 88.5H107.6V94.8H101.2zM50.6 94.8H57.0V101.2H50.6zM75.9 107.5H82.3V113.8H75.9zM120.2 107.5H126.6V113.8H120.2zM151.9 107.5H158.2V113.8H151.9zM50.6 113.8H57.0V120.1H50.6zM63.3 120.1H69.6V126.4H63.3zM151.9 126.4H158.2V132.8H151.9zM139.2 139.1H145.5V145.4H139.2z"/>
<path fill="#9f0805" d="M88.6 63.2H101.2V69.5H88.6zM63.3 101.2H69.6V107.5H63.3zM132.9 107.5H145.5V113.8H132.9zM139.2 126.4H145.5V132.8H139.2z"/>
<path fill="#bd0c04" d="M101.2 63.2H107.6V69.5H101.2zM101.2 75.9H107.6V82.2H101.2zM69.6 82.2H75.9V88.5H69.6zM82.3 88.5H88.6V94.8H82.3zM63.3 94.8H82.3V101.2H63.3zM113.9 94.8H126.6V101.2H113.9zM57.0 101.2H63.3V107.5H57.0zM69.6 101.2H75.9V107.5H69.6zM132.9 101.2H145.5V107.5H132.9zM57.0 107.5H63.3V113.8H57.0zM145.5 107.5H151.9V113.8H145.5zM126.6 113.8H132.9V120.1H126.6zM145.5 126.4H151.9V132.8H145.5z"/>
<path fill="#ae0a05" d="M82.3 69.5H88.6V75.9H82.3zM101.2 69.5H107.6V75.9H101.2zM82.3 75.9H101.2V82.2H82.3zM75.9 82.2H88.6V88.5H75.9zM69.6 88.5H82.3V94.8H69.6zM113.9 88.5H126.6V94.8H113.9zM63.3 107.5H69.6V113.8H63.3zM145.5 113.8H151.9V120.1H145.5zM145.5 120.1H151.9V126.4H145.5zM132.9 126.4H139.2V132.8H132.9z"/>
<path fill="#8f0705" d="M88.6 69.5H101.2V75.9H88.6zM132.9 113.8H139.2V120.1H132.9zM132.9 120.1H139.2V126.4H132.9z"/>
<path fill="#800505" d="M139.2 113.8H145.5V120.1H139.2zM139.2 120.1H145.5V126.4H139.2z"/>
</g>
<defs>
<linearGradient id="gv" x1="0" y1="0" x2="0" y2="1">
<stop offset="0" stop-color="#ffffff"/><stop offset="0.03" stop-color="#f4f4ff"/><stop offset="0.40" stop-color="#0000ff"/><stop offset="0.425" stop-color="#000090"/><stop offset="0.45" stop-color="#000000"/>
<stop offset="0.58" stop-color="#000000"/><stop offset="0.66" stop-color="#1c0a22"/><stop offset="0.82" stop-color="#4d0d5c"/><stop offset="1" stop-color="#9a00b0"/>
</linearGradient>
<linearGradient id="gj" x1="0" y1="1" x2="0" y2="0"><stop offset="0.0" stop-color="rgb(5, 5, 132)"/><stop offset="0.11" stop-color="rgb(4, 4, 240)"/><stop offset="0.25" stop-color="rgb(62, 132, 236)"/><stop offset="0.365" stop-color="rgb(112, 230, 240)"/><stop offset="0.49" stop-color="rgb(135, 226, 150)"/><stop offset="0.62" stop-color="rgb(250, 240, 50)"/><stop offset="0.75" stop-color="rgb(236, 142, 45)"/><stop offset="0.873" stop-color="rgb(221, 15, 4)"/><stop offset="1.0" stop-color="rgb(128, 5, 5)"/></linearGradient>
</defs>
<rect x="460.4" y="139.5" width="20.2" height="202.80" fill="url(#gv)" stroke="#333" stroke-width="0.8"/>
<rect x="770.6" y="139.5" width="20.3" height="202.80" fill="url(#gj)" stroke="#222" stroke-width="0.8"/>
<rect x="460.4" y="400.0" width="20.2" height="203.00" fill="url(#gv)" stroke="#333" stroke-width="0.8"/>
<rect x="770.6" y="400.0" width="20.3" height="203.00" fill="url(#gj)" stroke="#222" stroke-width="0.8"/>
<rect x="460.4" y="661.3" width="20.2" height="203.00" fill="url(#gv)" stroke="#333" stroke-width="0.8"/>
<rect x="770.6" y="661.8" width="20.3" height="203.00" fill="url(#gj)" stroke="#222" stroke-width="0.8"/>
<g transform="translate(864.10 145.30)">
<rect width="202.40" height="202.80" fill="#e4e4e4"/>
<path fill="#0000f0" d="M94.88 25.35H139.15V31.99H94.88zM132.83 31.69H145.47V38.33H132.83zM145.47 38.03H151.80V44.66H145.47zM151.80 50.70H158.12V57.34H151.80zM164.45 69.71H170.78V76.35H164.45zM170.78 82.39H177.10V89.03H170.78zM177.10 95.06H183.43V101.70H177.10z"/>
<path fill="#dd0a05" d="M63.25 31.69H88.55V38.33H63.25zM50.60 38.03H75.90V44.66H50.60zM44.27 44.36H63.25V51.00H44.27zM44.27 50.70H50.60V57.34H44.27zM37.95 57.04H44.27V63.67H37.95zM37.95 63.38H44.27V70.01H37.95zM31.62 69.71H37.95V76.35H31.62zM31.62 76.05H37.95V82.69H31.62zM31.62 82.39H37.95V89.03H31.62zM25.30 88.73H31.62V95.36H25.30zM25.30 95.06H31.62V101.70H25.30zM25.30 101.40H31.62V108.04H25.30zM18.98 107.74H31.62V114.38H18.98zM94.88 107.74H101.20V114.38H94.88zM18.98 114.08H31.62V120.71H18.98zM88.55 114.08H107.53V120.71H88.55zM18.98 120.41H31.62V127.05H18.98zM88.55 120.41H107.53V127.05H88.55zM25.30 126.75H37.95V133.39H25.30zM82.23 126.75H107.53V133.39H82.23zM25.30 133.09H44.27V139.73H25.30zM82.23 133.09H107.53V139.73H82.23zM31.62 139.43H50.60V146.06H31.62zM75.90 139.43H94.88V146.06H75.90zM101.20 139.43H113.85V146.06H101.20zM37.95 145.76H63.25V152.40H37.95zM69.58 145.76H88.55V152.40H69.58zM107.53 145.76H113.85V152.40H107.53zM170.78 145.76H177.10V152.40H170.78zM44.27 152.10H82.23V158.74H44.27zM164.45 152.10H170.78V158.74H164.45zM50.60 158.44H75.90V165.08H50.60zM113.85 158.44H120.17V165.08H113.85zM158.12 158.44H164.45V165.08H158.12zM120.17 164.78H126.50V171.41H120.17zM145.47 164.78H164.45V171.41H145.47zM120.17 171.11H158.12V177.75H120.17zM132.83 177.45H151.80V184.09H132.83z"/>
<path fill="#f3d06b" d="M88.55 31.69H132.83V38.33H88.55zM75.90 38.03H145.47V44.66H75.90zM63.25 44.36H151.80V51.00H63.25zM50.60 50.70H151.80V57.34H50.60zM44.27 57.04H158.12V63.67H44.27zM44.27 63.38H164.45V70.01H44.27zM37.95 69.71H164.45V76.35H37.95zM37.95 76.05H170.78V82.69H37.95zM37.95 82.39H170.78V89.03H37.95zM31.62 88.73H177.10V95.36H31.62zM31.62 95.06H177.10V101.70H31.62zM31.62 101.40H183.43V108.04H31.62zM31.62 107.74H94.88V114.38H31.62zM101.20 107.74H183.43V114.38H101.20zM31.62 114.08H88.55V120.71H31.62zM107.53 114.08H183.43V120.71H107.53zM31.62 120.41H88.55V127.05H31.62zM107.53 120.41H183.43V127.05H107.53zM37.95 126.75H82.23V133.39H37.95zM107.53 126.75H183.43V133.39H107.53zM44.27 133.09H82.23V139.73H44.27zM107.53 133.09H183.43V139.73H107.53zM50.60 139.43H75.90V146.06H50.60zM113.85 139.43H177.10V146.06H113.85zM63.25 145.76H69.58V152.40H63.25zM113.85 145.76H170.78V152.40H113.85zM113.85 152.10H164.45V158.74H113.85zM120.17 158.44H158.12V165.08H120.17zM126.50 164.78H145.47V171.41H126.50z"/>
</g>
<g transform="translate(1158.50 146.00)">
<rect width="202.30" height="202.20" fill="#e4e4e4"/>
<path fill="#0000f0" d="M94.83 12.64H139.08V19.26H94.83zM139.08 18.96H145.40V25.57H139.08zM145.40 25.27H151.73V31.89H145.40zM151.73 31.59H158.05V38.21H151.73zM189.66 126.38H195.98V132.99H189.66z"/>
<path fill="#f3d06b" d="M82.18 18.96H88.51V25.57H82.18zM69.54 25.27H88.51V31.89H69.54zM63.22 31.59H88.51V38.21H63.22zM44.25 37.91H94.83V44.53H44.25zM44.25 44.23H107.47V50.85H44.25zM37.93 50.55H120.12V57.17H37.93zM37.93 56.87H126.44V63.49H37.93zM31.61 63.19H126.44V69.81H31.61zM31.61 69.51H132.76V76.12H31.61zM31.61 75.82H126.44V82.44H31.61zM25.29 82.14H126.44V88.76H25.29zM25.29 88.46H126.44V95.08H25.29zM25.29 94.78H126.44V101.40H25.29zM31.61 101.10H94.83V107.72H31.61zM101.15 101.10H120.12V107.72H101.15zM44.25 107.42H82.18V114.04H44.25zM107.47 107.42H126.44V114.04H107.47zM56.90 113.74H63.22V120.36H56.90zM107.47 113.74H126.44V120.36H107.47zM113.79 120.06H132.76V126.67H113.79zM113.79 126.38H170.69V132.99H113.79zM113.79 132.69H177.01V139.31H113.79zM113.79 139.01H183.33V145.63H113.79zM113.79 145.33H183.33V151.95H113.79zM113.79 151.65H177.01V158.27H113.79zM113.79 157.97H132.76V164.59H113.79zM113.79 164.29H120.12V170.91H113.79z"/>
<path fill="#73aee0" d="M88.51 18.96H139.08V25.57H88.51zM88.51 25.27H145.40V31.89H88.51zM88.51 31.59H151.73V38.21H88.51zM94.83 37.91H158.05V44.53H94.83zM107.47 44.23H164.37V50.85H107.47zM120.12 50.55H164.37V57.17H120.12zM126.44 56.87H170.69V63.49H126.44zM126.44 63.19H170.69V69.81H126.44zM132.76 69.51H177.01V76.12H132.76zM126.44 75.82H177.01V82.44H126.44zM126.44 82.14H183.33V88.76H126.44zM126.44 88.46H183.33V95.08H126.44zM126.44 94.78H189.66V101.40H126.44zM120.12 101.10H189.66V107.72H120.12zM126.44 107.42H189.66V114.04H126.44zM126.44 113.74H195.98V120.36H126.44zM132.76 120.06H195.98V126.67H132.76zM170.69 126.38H189.66V132.99H170.69zM177.01 132.69H189.66V139.31H177.01zM183.33 139.01H189.66V145.63H183.33z"/>
<path fill="#e69246" d="M56.90 31.59H63.22V38.21H56.90zM18.97 101.10H31.61V107.72H18.97zM94.83 101.10H101.15V107.72H94.83zM18.97 107.42H44.25V114.04H18.97zM82.18 107.42H107.47V114.04H82.18zM25.29 113.74H56.90V120.36H25.29zM63.22 113.74H107.47V120.36H63.22zM25.29 120.06H113.79V126.67H25.29zM25.29 126.38H88.51V132.99H25.29zM101.15 126.38H113.79V132.99H101.15zM31.61 132.69H88.51V139.31H31.61zM107.47 132.69H113.79V139.31H107.47zM37.93 139.01H82.18V145.63H37.93zM107.47 139.01H113.79V145.63H107.47zM44.25 145.33H82.18V151.95H44.25zM107.47 145.33H113.79V151.95H107.47zM50.58 151.65H75.86V158.27H50.58zM107.47 151.65H113.79V158.27H107.47zM56.90 157.97H75.86V164.59H56.90zM132.76 157.97H170.69V164.59H132.76zM63.22 164.29H69.54V170.91H63.22zM120.12 164.29H158.05V170.91H120.12zM120.12 170.61H151.73V177.22H120.12zM132.76 176.92H139.08V183.54H132.76z"/>
</g>
<g transform="translate(1463.70 146.00)">
<rect width="202.30" height="202.20" fill="#e4e4e4"/>
<path fill="#73aee0" d="M94.83 12.64H107.47V19.26H94.83zM88.51 18.96H139.08V25.57H88.51zM94.83 25.27H145.40V31.89H94.83zM94.83 31.59H151.73V38.21H94.83zM101.15 37.91H158.05V44.53H101.15zM113.79 44.23H164.37V50.85H113.79zM120.12 50.55H164.37V57.17H120.12zM120.12 56.87H170.69V63.49H120.12zM126.44 63.19H170.69V69.81H126.44zM126.44 69.51H177.01V76.12H126.44zM126.44 75.82H177.01V82.44H126.44zM126.44 82.14H183.33V88.76H126.44zM126.44 88.46H183.33V95.08H126.44zM120.12 94.78H189.66V101.40H120.12zM120.12 101.10H189.66V107.72H120.12zM120.12 107.42H189.66V114.04H120.12zM120.12 113.74H195.98V120.36H120.12zM126.44 120.06H195.98V126.67H126.44zM139.08 126.38H189.66V132.99H139.08zM170.69 132.69H189.66V139.31H170.69zM177.01 139.01H189.66V145.63H177.01z"/>
<path fill="#0000f0" d="M107.47 12.64H139.08V19.26H107.47zM139.08 18.96H145.40V25.57H139.08zM145.40 25.27H151.73V31.89H145.40zM151.73 31.59H158.05V38.21H151.73zM189.66 126.38H195.98V132.99H189.66z"/>
<path fill="#f3d06b" d="M82.18 18.96H88.51V25.57H82.18zM69.54 25.27H94.83V31.89H69.54zM63.22 31.59H94.83V38.21H63.22zM44.25 37.91H101.15V44.53H44.25zM44.25 44.23H113.79V50.85H44.25zM37.93 50.55H120.12V57.17H37.93zM37.93 56.87H120.12V63.49H37.93zM31.61 63.19H126.44V69.81H31.61zM31.61 69.51H126.44V76.12H31.61zM31.61 75.82H126.44V82.44H31.61zM25.29 82.14H126.44V88.76H25.29zM25.29 88.46H126.44V95.08H25.29zM25.29 94.78H120.12V101.40H25.29zM31.61 101.10H94.83V107.72H31.61zM101.15 101.10H120.12V107.72H101.15zM37.93 107.42H82.18V114.04H37.93zM107.47 107.42H120.12V114.04H107.47zM44.25 113.74H75.86V120.36H44.25zM107.47 113.74H120.12V120.36H107.47zM107.47 120.06H126.44V126.67H107.47zM113.79 126.38H139.08V132.99H113.79zM113.79 132.69H170.69V139.31H113.79zM113.79 139.01H177.01V145.63H113.79zM113.79 145.33H183.33V151.95H113.79zM113.79 151.65H177.01V158.27H113.79zM113.79 157.97H145.40V164.59H113.79zM63.22 164.29H69.54V170.91H63.22zM113.79 164.29H126.44V170.91H113.79z"/>
<path fill="#e69246" d="M56.90 31.59H63.22V38.21H56.90zM18.97 101.10H31.61V107.72H18.97zM94.83 101.10H101.15V107.72H94.83zM18.97 107.42H37.93V114.04H18.97zM82.18 107.42H107.47V114.04H82.18zM25.29 113.74H44.25V120.36H25.29zM75.86 113.74H107.47V120.36H75.86zM25.29 120.06H107.47V126.67H25.29zM25.29 126.38H88.51V132.99H25.29zM101.15 126.38H113.79V132.99H101.15zM31.61 132.69H88.51V139.31H31.61zM107.47 132.69H113.79V139.31H107.47zM37.93 139.01H82.18V145.63H37.93zM107.47 139.01H113.79V145.63H107.47zM44.25 145.33H82.18V151.95H44.25zM107.47 145.33H113.79V151.95H107.47zM50.58 151.65H75.86V158.27H50.58zM107.47 151.65H113.79V158.27H107.47zM56.90 157.97H75.86V164.59H56.90zM145.40 157.97H170.69V164.59H145.40zM126.44 164.29H158.05V170.91H126.44zM120.12 170.61H151.73V177.22H120.12zM132.76 176.92H139.08V183.54H132.76z"/>
</g>
<g transform="translate(864.10 405.10)">
<rect width="202.40" height="202.80" fill="#e4e4e4"/>
<path fill="#0000f0" d="M107.53 25.35H126.50V31.99H107.53zM94.88 31.69H139.15V38.33H94.88zM126.50 38.03H145.47V44.66H126.50zM132.83 44.36H151.80V51.00H132.83zM139.15 50.70H158.12V57.34H139.15zM145.47 57.04H158.12V63.67H145.47zM145.47 63.38H164.45V70.01H145.47zM145.47 69.71H170.78V76.35H145.47zM145.47 76.05H170.78V82.69H145.47zM145.47 82.39H177.10V89.03H145.47zM145.47 88.73H177.10V95.36H145.47zM145.47 95.06H183.43V101.70H145.47zM139.15 101.40H183.43V108.04H139.15zM139.15 107.74H183.43V114.38H139.15zM139.15 114.08H183.43V120.71H139.15zM139.15 120.41H183.43V127.05H139.15zM139.15 126.75H183.43V133.39H139.15zM132.83 133.09H183.43V139.73H132.83zM113.85 139.43H177.10V146.06H113.85zM113.85 145.76H170.78V152.40H113.85zM113.85 152.10H164.45V158.74H113.85zM120.17 158.44H158.12V165.08H120.17zM132.83 164.78H139.15V171.41H132.83z"/>
<path fill="#dd0a05" d="M69.58 38.03H82.23V44.66H69.58zM56.93 44.36H69.58V51.00H56.93zM37.95 63.38H44.27V70.01H37.95zM31.62 76.05H37.95V82.69H31.62zM31.62 82.39H37.95V89.03H31.62zM25.30 88.73H31.62V95.36H25.30zM25.30 95.06H31.62V101.70H25.30zM18.98 101.40H31.62V108.04H18.98zM18.98 107.74H31.62V114.38H18.98zM94.88 107.74H101.20V114.38H94.88zM18.98 114.08H31.62V120.71H18.98zM88.55 114.08H107.53V120.71H88.55zM18.98 120.41H37.95V127.05H18.98zM88.55 120.41H107.53V127.05H88.55zM25.30 126.75H37.95V133.39H25.30zM82.23 126.75H107.53V133.39H82.23zM25.30 133.09H44.27V139.73H25.30zM82.23 133.09H107.53V139.73H82.23zM31.62 139.43H50.60V146.06H31.62zM75.90 139.43H94.88V146.06H75.90zM37.95 145.76H88.55V152.40H37.95zM44.27 152.10H82.23V158.74H44.27z"/>
<path fill="#f3d06b" d="M82.23 38.03H126.50V44.66H82.23zM69.58 44.36H132.83V51.00H69.58zM50.60 50.70H139.15V57.34H50.60zM44.27 57.04H145.47V63.67H44.27zM44.27 63.38H145.47V70.01H44.27zM37.95 69.71H145.47V76.35H37.95zM37.95 76.05H145.47V82.69H37.95zM37.95 82.39H145.47V89.03H37.95zM31.62 88.73H145.47V95.36H31.62zM31.62 95.06H145.47V101.70H31.62zM31.62 101.40H139.15V108.04H31.62zM31.62 107.74H94.88V114.38H31.62zM101.20 107.74H139.15V114.38H101.20zM31.62 114.08H88.55V120.71H31.62zM107.53 114.08H139.15V120.71H107.53zM37.95 120.41H88.55V127.05H37.95zM107.53 120.41H139.15V127.05H107.53zM37.95 126.75H82.23V133.39H37.95zM107.53 126.75H139.15V133.39H107.53zM44.27 133.09H82.23V139.73H44.27zM107.53 133.09H132.83V139.73H107.53zM50.60 139.43H75.90V146.06H50.60z"/>
</g>
<g transform="translate(1158.50 405.00)">
<rect width="202.30" height="202.90" fill="#e4e4e4"/>
<path fill="#0000f0" d="M101.15 12.68H132.76V19.32H101.15zM88.51 19.02H145.40V25.66H88.51zM75.86 25.36H151.73V32.00H75.86zM63.22 31.70H158.05V38.34H63.22zM50.58 38.04H69.54V44.68H50.58zM126.44 38.04H158.05V44.68H126.44zM44.25 44.38H56.90V51.02H44.25zM132.76 44.38H164.37V51.02H132.76zM37.93 50.73H50.58V57.37H37.93zM139.08 50.73H164.37V57.37H139.08zM37.93 57.07H44.25V63.71H37.93zM145.40 57.07H170.69V63.71H145.40zM31.61 63.41H37.93V70.05H31.61zM145.40 63.41H170.69V70.05H145.40zM31.61 69.75H37.93V76.39H31.61zM145.40 69.75H177.01V76.39H145.40zM145.40 76.09H177.01V82.73H145.40zM145.40 82.43H183.33V89.07H145.40zM145.40 88.77H183.33V95.41H145.40zM145.40 95.11H189.66V101.75H145.40zM139.08 101.45H189.66V108.09H139.08zM139.08 107.79H189.66V114.43H139.08zM139.08 114.13H195.98V120.77H139.08zM139.08 120.47H195.98V127.11H139.08zM139.08 126.81H189.66V133.45H139.08zM132.76 133.15H189.66V139.79H132.76zM107.47 139.49H189.66V146.13H107.47zM107.47 145.83H183.33V152.48H107.47zM107.47 152.18H177.01V158.82H107.47zM56.90 158.52H69.54V165.16H56.90zM113.79 158.52H170.69V165.16H113.79zM113.79 164.86H158.05V171.50H113.79zM120.12 171.20H151.73V177.84H120.12z"/>
<path fill="#f3d06b" d="M69.54 38.04H88.51V44.68H69.54zM56.90 44.38H101.15V51.02H56.90zM50.58 50.73H107.47V57.37H50.58zM44.25 57.07H113.79V63.71H44.25zM37.93 63.41H113.79V70.05H37.93zM37.93 69.75H113.79V76.39H37.93zM31.61 76.09H88.51V82.73H31.61zM101.15 76.09H113.79V82.73H101.15zM31.61 82.43H88.51V89.07H31.61zM107.47 82.43H113.79V89.07H107.47zM37.93 88.77H82.18V95.41H37.93zM107.47 88.77H113.79V95.41H107.47zM37.93 95.11H75.86V101.75H37.93zM107.47 95.11H113.79V101.75H107.47zM44.25 101.45H69.54V108.09H44.25zM107.47 101.45H113.79V108.09H107.47zM50.58 107.79H63.22V114.43H50.58zM107.47 107.79H113.79V114.43H107.47zM107.47 114.13H113.79V120.77H107.47zM107.47 120.47H113.79V127.11H107.47zM107.47 126.81H113.79V133.45H107.47z"/>
<path fill="#73aee0" d="M88.51 38.04H126.44V44.68H88.51zM101.15 44.38H132.76V51.02H101.15zM107.47 50.73H139.08V57.37H107.47zM113.79 57.07H145.40V63.71H113.79zM113.79 63.41H145.40V70.05H113.79zM113.79 69.75H145.40V76.39H113.79zM113.79 76.09H145.40V82.73H113.79zM113.79 82.43H145.40V89.07H113.79zM113.79 88.77H145.40V95.41H113.79zM113.79 95.11H145.40V101.75H113.79zM113.79 101.45H139.08V108.09H113.79zM113.79 107.79H139.08V114.43H113.79zM113.79 114.13H139.08V120.77H113.79zM113.79 120.47H139.08V127.11H113.79zM113.79 126.81H139.08V133.45H113.79zM107.47 133.15H132.76V139.79H107.47z"/>
<path fill="#e69246" d="M88.51 76.09H101.15V82.73H88.51zM88.51 82.43H107.47V89.07H88.51zM25.29 88.77H37.93V95.41H25.29zM82.18 88.77H107.47V95.41H82.18zM25.29 95.11H37.93V101.75H25.29zM75.86 95.11H107.47V101.75H75.86zM25.29 101.45H44.25V108.09H25.29zM69.54 101.45H107.47V108.09H69.54zM25.29 107.79H50.58V114.43H25.29zM63.22 107.79H107.47V114.43H63.22zM25.29 114.13H107.47V120.77H25.29zM25.29 120.47H107.47V127.11H25.29zM31.61 126.81H94.83V133.45H31.61zM101.15 126.81H107.47V133.45H101.15zM31.61 133.15H88.51V139.79H31.61zM101.15 133.15H107.47V139.79H101.15zM37.93 139.49H82.18V146.13H37.93zM44.25 145.83H82.18V152.48H44.25zM50.58 152.18H75.86V158.82H50.58z"/>
</g>
<g transform="translate(1463.70 405.00)">
<rect width="202.30" height="202.90" fill="#e4e4e4"/>
<path fill="#0000f0" d="M101.15 12.68H132.76V19.32H101.15zM101.15 19.02H145.40V25.66H101.15zM126.44 25.36H151.73V32.00H126.44zM139.08 31.70H158.05V38.34H139.08zM145.40 38.04H158.05V44.68H145.40zM151.73 44.38H164.37V51.02H151.73zM151.73 50.73H164.37V57.37H151.73zM158.05 57.07H170.69V63.71H158.05zM158.05 63.41H170.69V70.05H158.05zM158.05 69.75H177.01V76.39H158.05zM151.73 76.09H177.01V82.73H151.73zM151.73 82.43H183.33V89.07H151.73zM145.40 88.77H183.33V95.41H145.40zM139.08 95.11H189.66V101.75H139.08zM139.08 101.45H189.66V108.09H139.08zM132.76 107.79H189.66V114.43H132.76zM132.76 114.13H195.98V120.77H132.76zM132.76 120.47H195.98V127.11H132.76zM126.44 126.81H189.66V133.45H126.44zM126.44 133.15H189.66V139.79H126.44zM107.47 139.49H113.79V146.13H107.47zM126.44 139.49H189.66V146.13H126.44zM107.47 145.83H183.33V152.48H107.47zM107.47 152.18H177.01V158.82H107.47zM113.79 158.52H170.69V165.16H113.79zM113.79 164.86H158.05V171.50H113.79zM120.12 171.20H151.73V177.84H120.12z"/>
<path fill="#73aee0" d="M88.51 19.02H101.15V25.66H88.51zM88.51 25.36H126.44V32.00H88.51zM94.83 31.70H139.08V38.34H94.83zM101.15 38.04H145.40V44.68H101.15zM107.47 44.38H151.73V51.02H107.47zM113.79 50.73H151.73V57.37H113.79zM113.79 57.07H158.05V63.71H113.79zM120.12 63.41H158.05V70.05H120.12zM120.12 69.75H158.05V76.39H120.12zM120.12 76.09H151.73V82.73H120.12zM120.12 82.43H151.73V89.07H120.12zM113.79 88.77H145.40V95.41H113.79zM113.79 95.11H139.08V101.75H113.79zM113.79 101.45H139.08V108.09H113.79zM113.79 107.79H132.76V114.43H113.79zM107.47 114.13H132.76V120.77H107.47zM107.47 120.47H132.76V127.11H107.47zM107.47 126.81H126.44V133.45H107.47zM107.47 133.15H126.44V139.79H107.47zM113.79 139.49H126.44V146.13H113.79z"/>
<path fill="#f3d06b" d="M75.86 25.36H88.51V32.00H75.86zM63.22 31.70H94.83V38.34H63.22zM50.58 38.04H101.15V44.68H50.58zM44.25 44.38H107.47V51.02H44.25zM37.93 50.73H113.79V57.37H37.93zM37.93 57.07H88.51V63.71H37.93zM101.15 57.07H113.79V63.71H101.15zM31.61 63.41H88.51V70.05H31.61zM101.15 63.41H120.12V70.05H101.15zM31.61 69.75H82.18V76.39H31.61zM107.47 69.75H120.12V76.39H107.47zM31.61 76.09H82.18V82.73H31.61zM107.47 76.09H120.12V82.73H107.47zM31.61 82.43H82.18V89.07H31.61zM107.47 82.43H120.12V89.07H107.47zM31.61 88.77H82.18V95.41H31.61zM107.47 88.77H113.79V95.41H107.47zM31.61 95.11H82.18V101.75H31.61zM107.47 95.11H113.79V101.75H107.47zM37.93 101.45H75.86V108.09H37.93zM107.47 101.45H113.79V108.09H107.47zM37.93 107.79H69.54V114.43H37.93zM107.47 107.79H113.79V114.43H107.47zM50.58 114.13H63.22V120.77H50.58zM101.15 120.47H107.47V127.11H101.15zM101.15 126.81H107.47V133.45H101.15zM101.15 133.15H107.47V139.79H101.15zM56.90 158.52H69.54V165.16H56.90z"/>
<path fill="#e69246" d="M88.51 57.07H101.15V63.71H88.51zM88.51 63.41H101.15V70.05H88.51zM82.18 69.75H107.47V76.39H82.18zM82.18 76.09H107.47V82.73H82.18zM82.18 82.43H107.47V89.07H82.18zM25.29 88.77H31.61V95.41H25.29zM82.18 88.77H107.47V95.41H82.18zM25.29 95.11H31.61V101.75H25.29zM82.18 95.11H107.47V101.75H82.18zM25.29 101.45H37.93V108.09H25.29zM75.86 101.45H107.47V108.09H75.86zM25.29 107.79H37.93V114.43H25.29zM69.54 107.79H107.47V114.43H69.54zM25.29 114.13H50.58V120.77H25.29zM63.22 114.13H107.47V120.77H63.22zM25.29 120.47H101.15V127.11H25.29zM31.61 126.81H94.83V133.45H31.61zM31.61 133.15H88.51V139.79H31.61zM37.93 139.49H88.51V146.13H37.93zM44.25 145.83H82.18V152.48H44.25zM50.58 152.18H75.86V158.82H50.58z"/>
</g>
<g transform="translate(868.50 666.00)">
<rect width="202.00" height="202.60" fill="#e4e4e4"/>
<path fill="#0000f0" d="M113.62 25.32H132.56V31.96H113.62zM107.31 31.66H119.94V38.29H107.31zM138.88 31.66H145.19V38.29H138.88zM101.00 37.99H107.31V44.62H101.00zM145.19 37.99H151.50V44.62H145.19zM94.69 44.32H101.00V50.95H94.69zM151.50 44.32H157.81V50.95H151.50zM94.69 50.65H101.00V57.28H94.69zM151.50 50.65H157.81V57.28H151.50zM157.81 56.98H164.12V63.61H157.81zM157.81 63.31H164.12V69.94H157.81zM164.12 69.64H170.44V76.27H164.12zM170.44 82.31H176.75V88.94H170.44zM176.75 94.97H183.06V101.60H176.75zM183.06 107.63H189.38V114.26H183.06zM183.06 113.96H189.38V120.59H183.06zM183.06 120.29H189.38V126.92H183.06zM183.06 126.62H189.38V133.26H183.06zM176.75 139.29H183.06V145.92H176.75z"/>
<path fill="#f3d06b" d="M119.94 31.66H138.88V38.29H119.94zM107.31 37.99H145.19V44.62H107.31zM101.00 44.32H151.50V50.95H101.00zM101.00 50.65H151.50V57.28H101.00zM88.38 56.98H157.81V63.61H88.38zM63.12 63.31H82.06V69.94H63.12zM88.38 63.31H157.81V69.94H88.38zM50.50 69.64H164.12V76.27H50.50zM50.50 75.97H170.44V82.61H50.50zM44.19 82.31H170.44V88.94H44.19zM37.88 88.64H176.75V95.27H37.88zM37.88 94.97H176.75V101.60H37.88zM37.88 101.30H183.06V107.93H37.88zM37.88 107.63H183.06V114.26H37.88zM37.88 113.96H82.06V120.59H37.88zM94.69 113.96H183.06V120.59H94.69zM44.19 120.29H82.06V126.92H44.19zM101.00 120.29H183.06V126.92H101.00zM50.50 126.62H69.44V133.26H50.50zM101.00 126.62H183.06V133.26H101.00zM107.31 132.96H183.06V139.59H107.31zM107.31 139.29H176.75V145.92H107.31zM113.62 145.62H176.75V152.25H113.62zM113.62 151.95H164.12V158.58H113.62zM119.94 158.28H157.81V164.91H119.94z"/>
<path fill="#dd0a05" d="M50.50 50.65H82.06V57.28H50.50zM44.19 56.98H88.38V63.61H44.19zM44.19 63.31H63.12V69.94H44.19zM82.06 63.31H88.38V69.94H82.06zM37.88 69.64H50.50V76.27H37.88zM37.88 75.97H50.50V82.61H37.88zM31.56 82.31H44.19V88.94H31.56zM31.56 88.64H37.88V95.27H31.56zM31.56 94.97H37.88V101.60H31.56zM25.25 101.30H37.88V107.93H25.25zM25.25 107.63H37.88V114.26H25.25zM25.25 113.96H37.88V120.59H25.25zM82.06 113.96H94.69V120.59H82.06zM25.25 120.29H44.19V126.92H25.25zM82.06 120.29H101.00V126.92H82.06zM31.56 126.62H50.50V133.26H31.56zM69.44 126.62H101.00V133.26H69.44zM31.56 132.96H107.31V139.59H31.56zM37.88 139.29H107.31V145.92H37.88zM44.19 145.62H88.38V152.25H44.19zM107.31 145.62H113.62V152.25H107.31zM56.81 151.95H75.75V158.58H56.81zM164.12 151.95H170.44V158.58H164.12zM157.81 158.28H164.12V164.91H157.81zM126.25 164.61H157.81V171.24H126.25zM132.56 170.94H145.19V177.58H132.56z"/>
</g>
<g transform="translate(1158.50 666.00)">
<rect width="202.30" height="202.60" fill="#e4e4e4"/>
<path fill="#0000f0" d="M113.79 12.66H132.76V19.29H113.79zM151.73 31.66H158.05V38.29H151.73zM158.05 44.32H164.37V50.95H158.05zM164.37 50.65H170.69V57.28H164.37zM164.37 56.98H170.69V63.61H164.37zM170.69 63.31H177.01V69.94H170.69zM170.69 69.64H177.01V76.27H170.69zM177.01 75.97H183.33V82.61H177.01zM177.01 82.31H183.33V88.94H177.01zM183.33 88.64H189.66V95.27H183.33zM183.33 94.97H189.66V101.60H183.33zM189.66 101.30H195.98V107.93H189.66zM189.66 107.63H202.30V114.26H189.66zM189.66 113.96H202.30V120.59H189.66zM189.66 120.29H202.30V126.92H189.66zM189.66 126.62H202.30V133.26H189.66zM183.33 132.96H195.98V139.59H183.33zM183.33 139.29H189.66V145.92H183.33zM101.15 145.62H107.47V152.25H101.15zM177.01 145.62H183.33V152.25H177.01zM107.47 158.28H113.79V164.91H107.47z"/>
<path fill="#f3d06b" d="M101.15 18.99H107.47V25.62H101.15zM101.15 25.32H107.47V31.96H101.15zM101.15 31.66H113.79V38.29H101.15zM107.47 37.99H113.79V44.62H107.47zM107.47 44.32H120.12V50.95H107.47zM107.47 50.65H120.12V57.28H107.47zM107.47 56.98H120.12V63.61H107.47zM113.79 63.31H126.44V69.94H113.79zM37.93 69.64H44.25V76.27H37.93zM113.79 69.64H126.44V76.27H113.79zM37.93 75.97H44.25V82.61H37.93zM113.79 75.97H126.44V82.61H113.79zM31.61 82.31H44.25V88.94H31.61zM107.47 82.31H120.12V88.94H107.47zM31.61 88.64H37.93V95.27H31.61zM107.47 88.64H120.12V95.27H107.47zM25.29 94.97H31.61V101.60H25.29zM107.47 94.97H120.12V101.60H107.47zM107.47 101.30H120.12V107.93H107.47zM101.15 107.63H120.12V114.26H101.15zM101.15 113.96H113.79V120.59H101.15zM101.15 120.29H113.79V126.92H101.15zM94.83 126.62H113.79V133.26H94.83zM94.83 132.96H101.15V139.59H94.83zM120.12 139.29H139.08V145.92H120.12zM120.12 145.62H151.73V152.25H120.12zM120.12 151.95H158.05V158.58H120.12zM120.12 158.28H170.69V164.91H120.12zM120.12 164.61H139.08V171.24H120.12zM151.73 164.61H158.05V171.24H151.73zM126.44 170.94H132.76V177.58H126.44z"/>
<path fill="#73aee0" d="M107.47 18.99H145.40V25.62H107.47zM107.47 25.32H151.73V31.96H107.47zM113.79 31.66H151.73V38.29H113.79zM113.79 37.99H158.05V44.62H113.79zM120.12 44.32H158.05V50.95H120.12zM120.12 50.65H164.37V57.28H120.12zM120.12 56.98H164.37V63.61H120.12zM126.44 63.31H170.69V69.94H126.44zM126.44 69.64H170.69V76.27H126.44zM126.44 75.97H177.01V82.61H126.44zM120.12 82.31H177.01V88.94H120.12zM120.12 88.64H183.33V95.27H120.12zM120.12 94.97H183.33V101.60H120.12zM120.12 101.30H189.66V107.93H120.12zM120.12 107.63H189.66V114.26H120.12zM113.79 113.96H189.66V120.59H113.79zM113.79 120.29H189.66V126.92H113.79zM113.79 126.62H189.66V133.26H113.79zM101.15 132.96H183.33V139.59H101.15zM101.15 139.29H120.12V145.92H101.15zM139.08 139.29H183.33V145.92H139.08zM107.47 145.62H120.12V152.25H107.47zM151.73 145.62H177.01V152.25H151.73zM107.47 151.95H120.12V158.58H107.47zM158.05 151.95H177.01V158.58H158.05zM113.79 158.28H120.12V164.91H113.79zM113.79 164.61H120.12V171.24H113.79z"/>
<path fill="#e69246" d="M94.83 25.32H101.15V31.96H94.83zM88.51 31.66H101.15V38.29H88.51zM82.18 37.99H107.47V44.62H82.18zM63.22 44.32H107.47V50.95H63.22zM50.58 50.65H107.47V57.28H50.58zM44.25 56.98H107.47V63.61H44.25zM37.93 63.31H113.79V69.94H37.93zM44.25 69.64H113.79V76.27H44.25zM44.25 75.97H113.79V82.61H44.25zM44.25 82.31H107.47V88.94H44.25zM37.93 88.64H107.47V95.27H37.93zM31.61 94.97H107.47V101.60H31.61zM25.29 101.30H107.47V107.93H25.29zM25.29 107.63H101.15V114.26H25.29zM25.29 113.96H101.15V120.59H25.29zM31.61 120.29H101.15V126.92H31.61zM31.61 126.62H94.83V133.26H31.61zM37.93 132.96H82.18V139.59H37.93zM44.25 139.29H75.86V145.92H44.25zM139.08 164.61H151.73V171.24H139.08zM132.76 170.94H145.40V177.58H132.76z"/>
</g>
<g transform="translate(1463.70 666.00)">
<rect width="202.30" height="202.60" fill="#e4e4e4"/>
<path fill="#0000f0" d="M113.79 12.66H132.76V19.29H113.79zM151.73 31.66H158.05V38.29H151.73zM158.05 44.32H164.37V50.95H158.05zM164.37 50.65H170.69V57.28H164.37zM164.37 56.98H170.69V63.61H164.37zM170.69 63.31H177.01V69.94H170.69zM170.69 69.64H177.01V76.27H170.69zM177.01 75.97H183.33V82.61H177.01zM177.01 82.31H183.33V88.94H177.01zM183.33 88.64H189.66V95.27H183.33zM183.33 94.97H189.66V101.60H183.33zM189.66 101.30H195.98V107.93H189.66zM189.66 107.63H202.30V114.26H189.66zM189.66 113.96H202.30V120.59H189.66zM189.66 120.29H202.30V126.92H189.66zM189.66 126.62H202.30V133.26H189.66zM183.33 132.96H195.98V139.59H183.33zM183.33 139.29H189.66V145.92H183.33zM101.15 145.62H107.47V152.25H101.15zM177.01 145.62H183.33V152.25H177.01zM107.47 158.28H113.79V164.91H107.47z"/>
<path fill="#f3d06b" d="M101.15 18.99H107.47V25.62H101.15zM101.15 25.32H113.79V31.96H101.15zM107.47 31.66H113.79V38.29H107.47zM107.47 37.99H120.12V44.62H107.47zM107.47 44.32H126.44V50.95H107.47zM113.79 50.65H126.44V57.28H113.79zM113.79 56.98H126.44V63.61H113.79zM113.79 63.31H126.44V69.94H113.79zM113.79 69.64H126.44V76.27H113.79zM113.79 75.97H126.44V82.61H113.79zM113.79 82.31H126.44V88.94H113.79zM113.79 88.64H126.44V95.27H113.79zM113.79 94.97H126.44V101.60H113.79zM107.47 101.30H126.44V107.93H107.47zM107.47 107.63H126.44V114.26H107.47zM107.47 113.96H126.44V120.59H107.47zM101.15 120.29H132.76V126.92H101.15zM101.15 126.62H139.08V133.26H101.15zM94.83 132.96H145.40V139.59H94.83zM107.47 139.29H151.73V145.92H107.47zM113.79 145.62H158.05V152.25H113.79zM113.79 151.95H164.37V158.58H113.79zM113.79 158.28H170.69V164.91H113.79zM113.79 164.61H126.44V171.24H113.79z"/>
<path fill="#73aee0" d="M107.47 18.99H145.40V25.62H107.47zM113.79 25.32H151.73V31.96H113.79zM113.79 31.66H151.73V38.29H113.79zM120.12 37.99H158.05V44.62H120.12zM126.44 44.32H158.05V50.95H126.44zM126.44 50.65H164.37V57.28H126.44zM126.44 56.98H164.37V63.61H126.44zM126.44 63.31H170.69V69.94H126.44zM126.44 69.64H170.69V76.27H126.44zM126.44 75.97H177.01V82.61H126.44zM126.44 82.31H177.01V88.94H126.44zM126.44 88.64H183.33V95.27H126.44zM126.44 94.97H183.33V101.60H126.44zM126.44 101.30H189.66V107.93H126.44zM126.44 107.63H189.66V114.26H126.44zM126.44 113.96H189.66V120.59H126.44zM132.76 120.29H189.66V126.92H132.76zM139.08 126.62H189.66V133.26H139.08zM145.40 132.96H183.33V139.59H145.40zM101.15 139.29H107.47V145.92H101.15zM151.73 139.29H183.33V145.92H151.73zM107.47 145.62H113.79V152.25H107.47zM158.05 145.62H177.01V152.25H158.05zM107.47 151.95H113.79V158.58H107.47zM164.37 151.95H177.01V158.58H164.37z"/>
<path fill="#e69246" d="M94.83 25.32H101.15V31.96H94.83zM88.51 31.66H107.47V38.29H88.51zM82.18 37.99H107.47V44.62H82.18zM63.22 44.32H107.47V50.95H63.22zM50.58 50.65H113.79V57.28H50.58zM44.25 56.98H113.79V63.61H44.25zM37.93 63.31H113.79V69.94H37.93zM37.93 69.64H113.79V76.27H37.93zM37.93 75.97H113.79V82.61H37.93zM31.61 82.31H113.79V88.94H31.61zM31.61 88.64H113.79V95.27H31.61zM25.29 94.97H113.79V101.60H25.29zM25.29 101.30H107.47V107.93H25.29zM25.29 107.63H107.47V114.26H25.29zM25.29 113.96H107.47V120.59H25.29zM31.61 120.29H101.15V126.92H31.61zM31.61 126.62H101.15V133.26H31.61zM37.93 132.96H82.18V139.59H37.93zM44.25 139.29H75.86V145.92H44.25zM126.44 164.61H158.05V171.24H126.44zM126.44 170.94H145.40V177.58H126.44z"/>
</g>
<rect x="1077.53" y="145.62" width="19.95" height="202.75" rx="1" fill="#fff" stroke="#3a3a3a" stroke-width="1.25"/>
<rect x="1079.70" y="147.80" width="15.60" height="38.60" fill="#e4e4e4"/>
<rect x="1078.00" y="146.10" width="19.00" height="40.30" fill="#e4e4e4" opacity="0.45"/>
<rect x="1077.90" y="186.40" width="19.20" height="41.00" fill="#0000f0"/>
<rect x="1077.90" y="227.40" width="19.20" height="40.20" fill="#f3d06b"/>
<rect x="1077.90" y="267.60" width="19.20" height="40.50" fill="#dd0a05"/>
<rect x="1079.70" y="308.10" width="15.60" height="38.10" fill="#e4e4e4"/>
<rect x="1078.00" y="308.10" width="19.00" height="39.80" fill="#e4e4e4" opacity="0.45"/>
<rect x="1077.53" y="405.62" width="19.95" height="202.55" rx="1" fill="#fff" stroke="#3a3a3a" stroke-width="1.25"/>
<rect x="1079.70" y="407.80" width="15.60" height="38.70" fill="#e4e4e4"/>
<rect x="1078.00" y="406.10" width="19.00" height="40.40" fill="#e4e4e4" opacity="0.45"/>
<rect x="1077.90" y="446.50" width="19.20" height="41.10" fill="#0000f0"/>
<rect x="1077.90" y="487.60" width="19.20" height="39.80" fill="#f3d06b"/>
<rect x="1077.90" y="527.40" width="19.20" height="40.40" fill="#dd0a05"/>
<rect x="1079.70" y="567.80" width="15.60" height="38.20" fill="#e4e4e4"/>
<rect x="1078.00" y="567.80" width="19.00" height="39.90" fill="#e4e4e4" opacity="0.45"/>
<rect x="1081.72" y="666.62" width="19.65" height="202.35" rx="1" fill="#fff" stroke="#3a3a3a" stroke-width="1.25"/>
<rect x="1083.90" y="668.80" width="15.30" height="38.80" fill="#e4e4e4"/>
<rect x="1082.20" y="667.10" width="18.70" height="40.50" fill="#e4e4e4" opacity="0.45"/>
<rect x="1082.10" y="707.60" width="18.90" height="40.60" fill="#0000f0"/>
<rect x="1082.10" y="748.20" width="18.90" height="40.00" fill="#f3d06b"/>
<rect x="1082.10" y="788.20" width="18.90" height="40.40" fill="#dd0a05"/>
<rect x="1083.90" y="828.60" width="15.30" height="38.20" fill="#e4e4e4"/>
<rect x="1082.20" y="828.60" width="18.70" height="39.90" fill="#e4e4e4" opacity="0.45"/>
<rect x="1375.70" y="144.60" width="18.50" height="40.90" fill="#0000f0"/>
<rect x="1375.70" y="185.20" width="18.50" height="41.40" fill="#73aee0"/>
<rect x="1375.70" y="226.30" width="18.50" height="42.60" fill="#f3d06b"/>
<rect x="1375.70" y="268.60" width="18.50" height="41.00" fill="#e69246"/>
<rect x="1375.70" y="309.30" width="18.50" height="41.60" fill="#dd0a05"/>
<rect x="1375.80" y="145.20" width="18.30" height="204.80" fill="none" stroke="#161616" stroke-width="1.2"/>
<rect x="1677.40" y="144.60" width="19.00" height="40.90" fill="#0000f0"/>
<rect x="1677.40" y="185.20" width="19.00" height="41.40" fill="#73aee0"/>
<rect x="1677.40" y="226.30" width="19.00" height="42.60" fill="#f3d06b"/>
<rect x="1677.40" y="268.60" width="19.00" height="41.00" fill="#e69246"/>
<rect x="1677.40" y="309.30" width="19.00" height="41.60" fill="#dd0a05"/>
<rect x="1677.50" y="145.20" width="18.80" height="204.80" fill="none" stroke="#161616" stroke-width="1.2"/>
<rect x="1376.40" y="403.00" width="18.60" height="40.50" fill="#0000f0"/>
<rect x="1376.40" y="443.20" width="18.60" height="41.50" fill="#73aee0"/>
<rect x="1376.40" y="484.40" width="18.60" height="42.60" fill="#f3d06b"/>
<rect x="1376.40" y="526.70" width="18.60" height="41.60" fill="#e69246"/>
<rect x="1376.40" y="568.00" width="18.60" height="41.90" fill="#dd0a05"/>
<rect x="1376.50" y="403.60" width="18.40" height="205.40" fill="none" stroke="#161616" stroke-width="1.2"/>
<rect x="1678.00" y="403.00" width="18.60" height="40.50" fill="#0000f0"/>
<rect x="1678.00" y="443.20" width="18.60" height="41.50" fill="#73aee0"/>
<rect x="1678.00" y="484.40" width="18.60" height="42.60" fill="#f3d06b"/>
<rect x="1678.00" y="526.70" width="18.60" height="41.60" fill="#e69246"/>
<rect x="1678.00" y="568.00" width="18.60" height="41.90" fill="#dd0a05"/>
<rect x="1678.10" y="403.60" width="18.40" height="205.40" fill="none" stroke="#161616" stroke-width="1.2"/>
<rect x="1374.20" y="662.40" width="18.60" height="40.60" fill="#0000f0"/>
<rect x="1374.20" y="702.70" width="18.60" height="41.60" fill="#73aee0"/>
<rect x="1374.20" y="744.00" width="18.60" height="42.70" fill="#f3d06b"/>
<rect x="1374.20" y="786.40" width="18.60" height="41.60" fill="#e69246"/>
<rect x="1374.20" y="827.70" width="18.60" height="41.50" fill="#dd0a05"/>
<rect x="1374.30" y="663.00" width="18.40" height="205.30" fill="none" stroke="#161616" stroke-width="1.2"/>
<rect x="1676.10" y="662.40" width="18.60" height="40.60" fill="#0000f0"/>
<rect x="1676.10" y="702.70" width="18.60" height="41.60" fill="#73aee0"/>
<rect x="1676.10" y="744.00" width="18.60" height="42.70" fill="#f3d06b"/>
<rect x="1676.10" y="786.40" width="18.60" height="41.60" fill="#e69246"/>
<rect x="1676.10" y="827.70" width="18.60" height="41.50" fill="#dd0a05"/>
<rect x="1676.20" y="663.00" width="18.40" height="205.30" fill="none" stroke="#161616" stroke-width="1.2"/>
<text transform="translate(273.63 108.80) scale(1.0307 1.0000)" font-size="35.5" fill="#000">Ventilation</text>
<text transform="translate(595.37 109.70) scale(1.0115 1.0000)" font-size="35.5" fill="#000">Perfusion</text>
<text transform="translate(933.88 116.25) scale(1.0197 1.0000)" font-size="36" fill="#000">ALM</text>
<text transform="translate(1208.76 116.25) scale(1.0203 1.0000)" font-size="36" fill="#000">COCM</text>
<text transform="translate(1520.86 116.25) scale(1.0186 1.0000)" font-size="36" fill="#000">BPCM</text>
<text transform="translate(58.02 255.00) scale(0.9999 1.0000)" font-size="36.5" fill="#000">Normal</text>
<text transform="translate(28.12 506.00) scale(0.9921 1.0000)" font-size="36.5" fill="#000">Pulmonary</text>
<text transform="translate(36.87 549.00) scale(0.9882 1.0000)" font-size="36.5" fill="#000">Embolism</text>
<text transform="translate(32.89 781.00) scale(0.9880 1.0000)" font-size="36.5" fill="#000">Atelectasis</text>
<text transform="translate(452.62 133.75) scale(0.9843 1.0000)" font-size="30.5" fill="#000">ΔZ</text>
<text transform="translate(762.62 133.75) scale(0.9843 1.0000)" font-size="30.5" fill="#000">ΔZ</text>
<text transform="translate(451.37 392.25) scale(0.9843 1.0000)" font-size="30.5" fill="#000">ΔZ</text>
<text transform="translate(762.13 392.25) scale(0.9710 1.0000)" font-size="30.5" fill="#000">ΔZ</text>
<text transform="translate(452.63 653.75) scale(0.9710 1.0000)" font-size="30.5" fill="#000">ΔZ</text>
<text transform="translate(762.13 655.50) scale(0.9643 1.0000)" font-size="30.5" fill="#000">ΔZ</text>
<text transform="translate(485.71 163.75) scale(0.9136 1.0000)" font-size="21.75" fill="#000">+ Max</text>
<text transform="translate(795.70 163.75) scale(0.9221 1.0000)" font-size="21.75" fill="#000">+ Max</text>
<text transform="translate(502.93 255.50) scale(1.0364 1.0000)" font-size="21.0" fill="#000">0</text>
<text transform="translate(488.00 338.50) scale(0.9205 1.0000)" font-size="21.75" fill="#000">- Max</text>
<text transform="translate(810.93 338.00) scale(1.0364 1.0000)" font-size="21.0" fill="#000">0</text>
<text transform="translate(485.71 425.50) scale(0.9136 1.0000)" font-size="21.75" fill="#000">+ Max</text>
<text transform="translate(795.70 425.50) scale(0.9221 1.0000)" font-size="21.75" fill="#000">+ Max</text>
<text transform="translate(502.93 515.50) scale(1.0364 1.0000)" font-size="21.0" fill="#000">0</text>
<text transform="translate(488.00 596.00) scale(0.9205 1.0000)" font-size="21.75" fill="#000">- Max</text>
<text transform="translate(810.93 598.50) scale(1.0364 1.0000)" font-size="21.0" fill="#000">0</text>
<text transform="translate(485.71 688.00) scale(0.9136 1.0000)" font-size="21.75" fill="#000">+ Max</text>
<text transform="translate(795.70 688.00) scale(0.9221 1.0000)" font-size="21.75" fill="#000">+ Max</text>
<text transform="translate(502.93 777.75) scale(1.0364 1.0000)" font-size="21.0" fill="#000">0</text>
<text transform="translate(486.76 863.50) scale(0.9112 1.0000)" font-size="21.75" fill="#000">- Max</text>
<text transform="translate(810.93 863.50) scale(1.0364 1.0000)" font-size="21.0" fill="#000">0</text>
<text transform="translate(1115.12 220.00) scale(0.9938 1.0000)" font-size="27.5" fill="#000">D</text>
<text transform="translate(1112.53 262.50) scale(0.9825 1.0000)" font-size="27.5" fill="#000">M</text>
<text transform="translate(1114.44 305.00) scale(1.0811 1.0000)" font-size="27.5" fill="#000">S</text>
<text transform="translate(1115.12 481.75) scale(0.9938 1.0000)" font-size="27.5" fill="#000">D</text>
<text transform="translate(1112.53 524.00) scale(0.9825 1.0000)" font-size="27.5" fill="#000">M</text>
<text transform="translate(1114.44 566.00) scale(1.0811 1.0000)" font-size="27.5" fill="#000">S</text>
<text transform="translate(1118.34 741.50) scale(0.9549 1.0000)" font-size="27.5" fill="#000">D</text>
<text transform="translate(1115.04 783.00) scale(0.9623 1.0000)" font-size="27.5" fill="#000">M</text>
<text transform="translate(1117.44 825.50) scale(1.0811 1.0000)" font-size="27.5" fill="#000">S</text>
<text transform="translate(1407.70 190.00) scale(1.0490 1.0000)" font-size="21.4" fill="#000">1</text>
<text transform="translate(1406.50 231.75) scale(0.9292 1.0000)" font-size="21.4" fill="#000">0.097</text>
<text transform="translate(1398.99 276.00) scale(0.9457 1.0000)" font-size="21.4" fill="#000">-0.097</text>
<text transform="translate(1399.20 319.25) scale(0.9912 1.0000)" font-size="21.4" fill="#000">-1</text>
<text transform="translate(1707.20 186.25) scale(1.0490 1.0000)" font-size="21.4" fill="#000">1</text>
<text transform="translate(1706.50 230.50) scale(0.9292 1.0000)" font-size="21.4" fill="#000">0.097</text>
<text transform="translate(1698.99 273.00) scale(0.9457 1.0000)" font-size="21.4" fill="#000">-0.097</text>
<text transform="translate(1699.20 316.75) scale(0.9912 1.0000)" font-size="21.4" fill="#000">-1</text>
<text transform="translate(1407.70 446.00) scale(1.0490 1.0000)" font-size="21.4" fill="#000">1</text>
<text transform="translate(1406.50 489.75) scale(0.9292 1.0000)" font-size="21.4" fill="#000">0.097</text>
<text transform="translate(1398.99 533.00) scale(0.9457 1.0000)" font-size="21.4" fill="#000">-0.097</text>
<text transform="translate(1399.20 577.25) scale(0.9912 1.0000)" font-size="21.4" fill="#000">-1</text>
<text transform="translate(1707.20 446.00) scale(1.0490 1.0000)" font-size="21.4" fill="#000">1</text>
<text transform="translate(1706.50 489.75) scale(0.9292 1.0000)" font-size="21.4" fill="#000">0.097</text>
<text transform="translate(1698.99 533.00) scale(0.9457 1.0000)" font-size="21.4" fill="#000">-0.097</text>
<text transform="translate(1699.20 577.25) scale(0.9912 1.0000)" font-size="21.4" fill="#000">-1</text>
<text transform="translate(1407.70 703.50) scale(1.0490 1.0000)" font-size="21.4" fill="#000">1</text>
<text transform="translate(1406.50 746.60) scale(0.9292 1.0000)" font-size="21.4" fill="#000">0.097</text>
<text transform="translate(1398.99 790.70) scale(0.9457 1.0000)" font-size="21.4" fill="#000">-0.097</text>
<text transform="translate(1399.20 833.70) scale(0.9912 1.0000)" font-size="21.4" fill="#000">-1</text>
<text transform="translate(1709.70 703.50) scale(1.0490 1.0000)" font-size="21.4" fill="#000">1</text>
<text transform="translate(1708.25 746.60) scale(0.9346 1.0000)" font-size="21.4" fill="#000">0.097</text>
<text transform="translate(1700.74 790.70) scale(0.9503 1.0000)" font-size="21.4" fill="#000">-0.097</text>
<text transform="translate(1700.95 833.70) scale(0.9912 1.0000)" font-size="21.4" fill="#000">-1</text>
<text transform="translate(1365.97 138.25) scale(1.0246 1.0000)" font-size="26.0" fill="#000">log(V/Q)</text>
<text transform="translate(1672.22 138.25) scale(1.0167 1.0000)" font-size="26.0" fill="#000">log(V/Q)</text>
<text transform="translate(1360.47 396.60) scale(1.0115 1.0000)" font-size="26.0" fill="#000">log(V/Q)</text>
<text transform="translate(1665.97 396.60) scale(1.0167 1.0000)" font-size="26.0" fill="#000">log(V/Q)</text>
<text transform="translate(1359.72 655.50) scale(1.0193 1.0000)" font-size="26.0" fill="#000">log(V/Q)</text>
<text transform="translate(1665.97 655.50) scale(1.0167 1.0000)" font-size="26.0" fill="#000">log(V/Q)</text>
<g>
<path d="M108.3 34.8C114.0 34.8 120.4 35.6 125.4 37.2C130.5 38.8 134.6 41.4 138.6 44.4C142.5 47.5 145.8 51.5 149.1 55.6C152.4 59.6 155.7 64.4 158.4 68.7C161.1 73.1 163.5 77.9 165.2 81.9C166.9 85.8 167.9 89.2 168.6 92.5C169.3 95.8 169.7 98.9 169.4 101.8C169.1 104.7 168.3 107.6 166.7 109.8C165.1 112.0 162.9 113.6 160.0 115.1C157.1 116.6 153.7 117.6 149.2 118.9C144.8 120.1 138.3 121.6 133.2 122.6C128.1 123.5 122.9 124.0 118.8 124.4C114.6 124.7 113.3 124.9 108.3 124.7C103.3 124.5 94.6 123.9 88.7 123.1C82.8 122.4 77.6 121.4 72.7 120.0C67.9 118.7 62.9 117.0 59.4 115.0C55.8 113.1 53.1 110.6 51.2 108.4C49.4 106.2 48.7 104.2 48.3 101.8C47.9 99.3 48.0 97.2 48.7 93.8C49.3 90.5 50.5 86.1 52.1 81.9C53.7 77.7 55.6 73.1 58.2 68.7C60.8 64.4 64.2 59.6 67.5 55.6C70.8 51.5 74.1 47.5 78.0 44.4C82.0 41.4 86.1 38.8 91.2 37.2C96.2 35.6 102.6 34.8 108.3 34.8Z" fill="#dad9d9" stroke="#5a5a5a" stroke-width="4.6" stroke-linejoin="round"/>
<path d="M108.3 34.8C114.0 34.8 120.4 35.6 125.4 37.2C130.5 38.8 134.6 41.4 138.6 44.4C142.5 47.5 145.8 51.5 149.1 55.6C152.4 59.6 155.7 64.4 158.4 68.7C161.1 73.1 163.5 77.9 165.2 81.9C166.9 85.8 167.9 89.2 168.6 92.5C169.3 95.8 169.7 98.9 169.4 101.8C169.1 104.7 168.3 107.6 166.7 109.8C165.1 112.0 162.9 113.6 160.0 115.1C157.1 116.6 153.7 117.6 149.2 118.9C144.8 120.1 138.3 121.6 133.2 122.6C128.1 123.5 122.9 124.0 118.8 124.4C114.6 124.7 113.3 124.9 108.3 124.7C103.3 124.5 94.6 123.9 88.7 123.1C82.8 122.4 77.6 121.4 72.7 120.0C67.9 118.7 62.9 117.0 59.4 115.0C55.8 113.1 53.1 110.6 51.2 108.4C49.4 106.2 48.7 104.2 48.3 101.8C47.9 99.3 48.0 97.2 48.7 93.8C49.3 90.5 50.5 86.1 52.1 81.9C53.7 77.7 55.6 73.1 58.2 68.7C60.8 64.4 64.2 59.6 67.5 55.6C70.8 51.5 74.1 47.5 78.0 44.4C82.0 41.4 86.1 38.8 91.2 37.2C96.2 35.6 102.6 34.8 108.3 34.8Z" fill="none" stroke="#d98d80" stroke-width="3.4" stroke-linejoin="round"/>
<ellipse cx="86.3" cy="76.4" rx="17.5" ry="22.4" fill="#fff" stroke="#555" stroke-width="0.7"/>
<ellipse cx="129.9" cy="76.5" rx="17.4" ry="22.4" fill="#fff" stroke="#555" stroke-width="0.7"/>
<path d="M108.3 29.6V129.400M37.6 76.4H177.7" stroke="#7d7d7d" stroke-width="0.9" stroke-dasharray="3.6 3" fill="none"/>
</g>
<text transform="translate(95.77 24.70) scale(0.9736 1.0000)" font-size="33.6" fill="#dd080a">V</text>
<text transform="translate(2.12 101.80) scale(0.9858 1.0000)" font-size="33.6" fill="#dd080a">R</text>
<text transform="translate(189.41 101.80) scale(1.0043 1.0000)" font-size="33.6" fill="#dd080a">L</text>
<text transform="translate(95.40 166.60) scale(1.0133 1.0000)" font-size="33.6" fill="#dd080a">D</text>
</svg>
</body></html>
